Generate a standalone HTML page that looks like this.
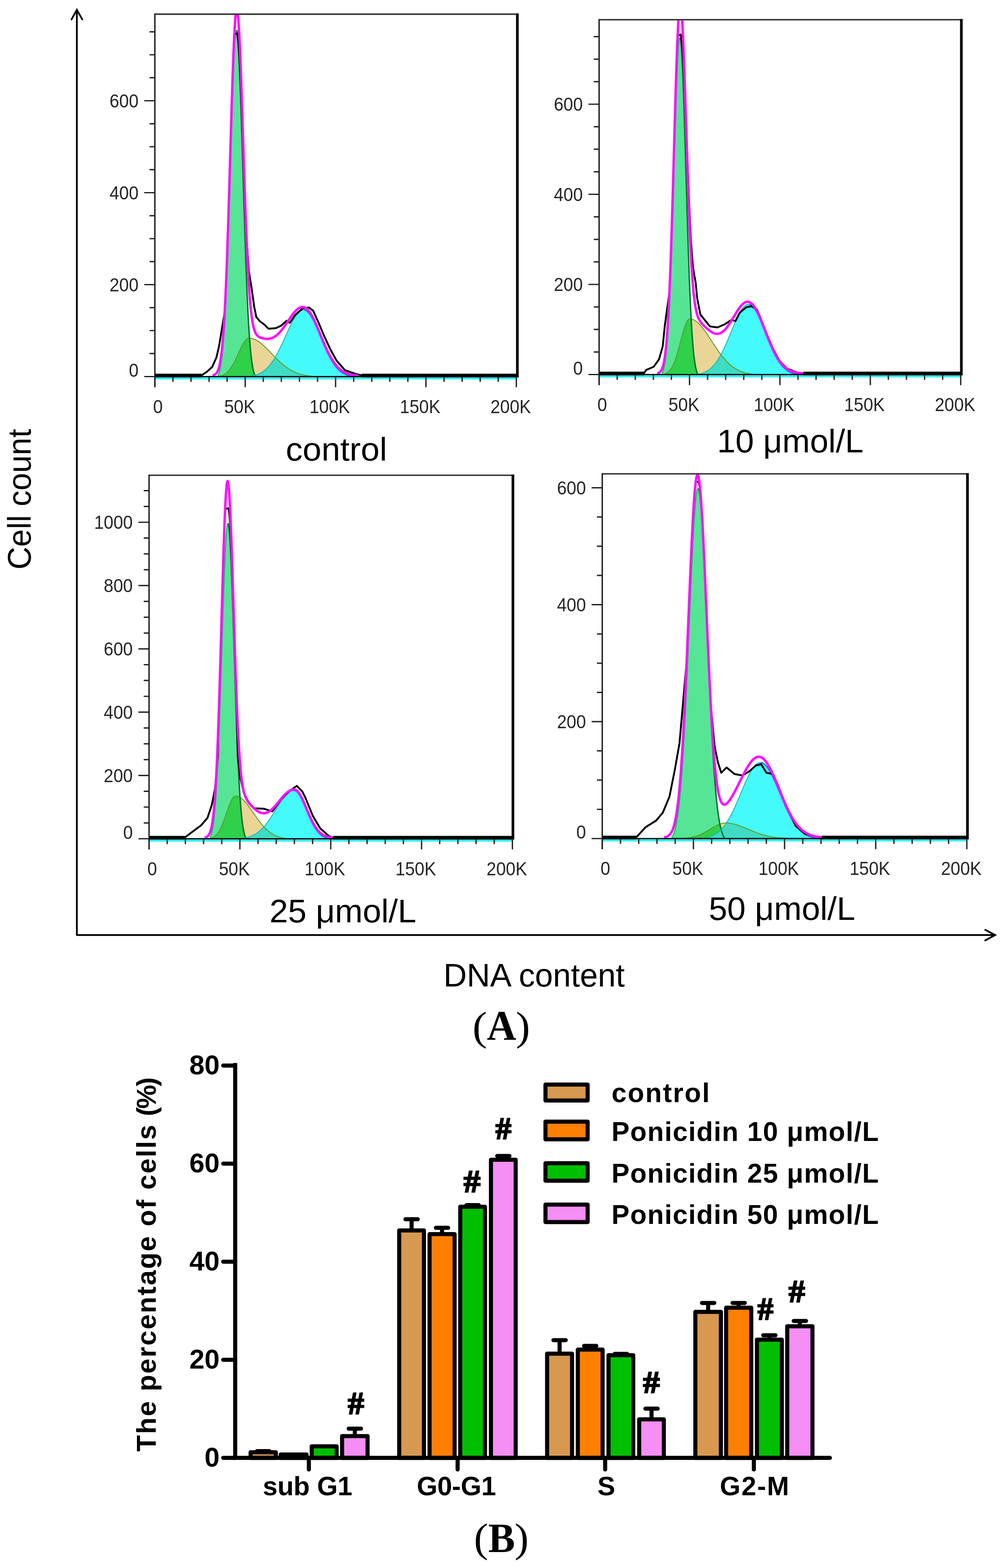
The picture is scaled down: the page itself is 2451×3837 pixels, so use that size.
<!DOCTYPE html>
<html><head><meta charset="utf-8"><title>Cell cycle analysis</title>
<style>html,body{margin:0;padding:0;background:#fff;} svg{display:block;}</style></head>
<body><svg width="2451" height="3837" viewBox="0 0 2451 3837"><defs><clipPath id="ctl"><rect x="378.8" y="34.6" width="886.8" height="887.9"/></clipPath><clipPath id="ctr"><rect x="1465.5" y="48.3" width="886.1" height="869.2"/></clipPath><clipPath id="cbl"><rect x="364.6" y="1163.0" width="890.1" height="890.5"/></clipPath><clipPath id="cbr"><rect x="1473.2" y="1159.5" width="893.3" height="893.5"/></clipPath></defs>
<g clip-path="url(#ctl)"><path d="M610.8,921.5 L610.8,921.3 L611.8,921.1 L612.8,921.0 L613.8,920.8 L614.8,920.6 L615.8,920.5 L616.8,920.3 L617.8,920.1 L618.8,919.8 L619.8,919.6 L620.8,919.4 L621.8,919.1 L622.8,918.8 L623.8,918.6 L624.8,918.3 L625.8,917.9 L626.8,917.6 L627.8,917.3 L628.8,916.9 L629.8,916.5 L630.8,916.1 L631.8,915.7 L632.8,915.3 L633.8,914.8 L634.8,914.3 L635.8,913.8 L636.8,913.3 L637.8,912.8 L638.8,912.2 L639.8,911.6 L640.8,911.0 L641.8,910.4 L642.8,909.7 L643.8,909.0 L644.8,908.3 L645.8,907.5 L646.8,906.7 L647.8,905.9 L648.8,905.1 L649.8,904.2 L650.8,903.3 L651.8,902.4 L652.8,901.4 L653.8,900.4 L654.8,899.4 L655.8,898.3 L656.8,897.2 L657.8,896.1 L658.8,894.9 L659.8,893.7 L660.8,892.4 L661.8,891.2 L662.8,889.8 L663.8,888.5 L664.8,887.1 L665.8,885.7 L666.8,884.2 L667.8,882.7 L668.8,881.2 L669.8,879.6 L670.8,878.0 L671.8,876.4 L672.8,874.7 L673.8,873.0 L674.8,871.2 L675.8,869.5 L676.8,867.7 L677.8,865.8 L678.8,863.9 L679.8,862.0 L680.8,860.1 L681.8,858.1 L682.8,856.2 L683.8,854.1 L684.8,852.1 L685.8,850.0 L686.8,847.9 L687.8,845.8 L688.8,843.7 L689.8,841.6 L690.8,839.4 L691.8,837.2 L692.8,835.0 L693.8,832.8 L694.8,830.6 L695.8,828.4 L696.8,826.2 L697.8,824.0 L698.8,821.7 L699.8,819.5 L700.8,817.3 L701.8,815.1 L702.8,812.9 L703.8,810.7 L704.8,808.5 L705.8,806.4 L706.8,804.2 L707.8,802.1 L708.8,800.0 L709.8,797.9 L710.8,795.9 L711.8,793.8 L712.8,791.9 L713.8,789.9 L714.8,788.0 L715.8,786.1 L716.8,784.3 L717.8,782.5 L718.8,780.8 L719.8,779.1 L720.8,777.5 L721.8,775.9 L722.8,774.4 L723.8,772.9 L724.8,771.5 L725.8,770.2 L726.8,768.9 L727.8,767.7 L728.8,766.6 L729.8,765.5 L730.8,764.5 L731.8,763.6 L732.8,762.7 L733.8,761.9 L734.8,761.2 L735.8,760.6 L736.8,760.1 L737.8,759.6 L738.8,759.2 L739.8,758.9 L740.8,758.7 L741.8,758.6 L742.8,758.5 L743.8,758.5 L744.8,758.7 L745.8,758.9 L746.8,759.2 L747.8,759.6 L748.8,760.1 L749.8,760.7 L750.8,761.4 L751.8,762.2 L752.8,763.1 L753.8,764.1 L754.8,765.1 L755.8,766.3 L756.8,767.5 L757.8,768.8 L758.8,770.2 L759.8,771.7 L760.8,773.3 L761.8,774.9 L762.8,776.6 L763.8,778.3 L764.8,780.2 L765.8,782.0 L766.8,784.0 L767.8,786.0 L768.8,788.0 L769.8,790.1 L770.8,792.3 L771.8,794.5 L772.8,796.7 L773.8,798.9 L774.8,801.2 L775.8,803.6 L776.8,805.9 L777.8,808.3 L778.8,810.7 L779.8,813.1 L780.8,815.5 L781.8,817.9 L782.8,820.4 L783.8,822.8 L784.8,825.2 L785.8,827.7 L786.8,830.1 L787.8,832.5 L788.8,835.0 L789.8,837.4 L790.8,839.7 L791.8,842.1 L792.8,844.5 L793.8,846.8 L794.8,849.1 L795.8,851.4 L796.8,853.6 L797.8,855.8 L798.8,858.0 L799.8,860.2 L800.8,862.3 L801.8,864.4 L802.8,866.4 L803.8,868.4 L804.8,870.4 L805.8,872.3 L806.8,874.2 L807.8,876.1 L808.8,877.9 L809.8,879.6 L810.8,881.4 L811.8,883.0 L812.8,884.7 L813.8,886.3 L814.8,887.8 L815.8,889.3 L816.8,890.8 L817.8,892.2 L818.8,893.5 L819.8,894.9 L820.8,896.2 L821.8,897.4 L822.8,898.6 L823.8,899.8 L824.8,900.9 L825.8,902.0 L826.8,903.0 L827.8,904.0 L828.8,905.0 L829.8,905.9 L830.8,906.8 L831.8,907.6 L832.8,908.5 L833.8,909.2 L834.8,910.0 L835.8,910.7 L836.8,911.4 L837.8,912.1 L838.8,912.7 L839.8,913.3 L840.8,913.9 L841.8,914.4 L842.8,914.9 L843.8,915.4 L844.8,915.9 L845.8,916.3 L846.8,916.8 L847.8,917.2 L848.8,917.6 L849.8,917.9 L850.8,918.3 L851.8,918.6 L852.8,918.9 L853.8,919.2 L854.8,919.5 L855.8,919.7 L856.8,920.0 L857.8,920.2 L858.8,920.4 L859.8,920.6 L860.8,920.8 L861.8,921.0 L862.8,921.2 L863.8,921.3 L863.8,921.5 Z" fill="#45fafa"/><path d="M531.8,921.5 L531.8,921.5 L532.8,920.8 L533.8,918.5 L534.8,915.8 L535.8,912.7 L536.8,909.0 L537.8,904.7 L538.8,899.8 L539.8,894.1 L540.8,887.6 L541.8,880.2 L542.8,871.8 L543.8,862.3 L544.8,851.6 L545.8,839.7 L546.8,826.5 L547.8,811.8 L548.8,795.8 L549.8,778.1 L550.8,759.0 L551.8,738.2 L552.8,715.9 L553.8,691.9 L554.8,666.4 L555.8,639.5 L556.8,611.1 L557.8,581.5 L558.8,550.7 L559.8,518.9 L560.8,486.3 L561.8,453.1 L562.8,419.6 L563.8,386.0 L564.8,352.7 L565.8,319.9 L566.8,287.8 L567.8,257.0 L568.8,227.6 L569.8,199.9 L570.8,174.4 L571.8,151.1 L572.8,130.6 L573.8,112.9 L574.8,98.3 L575.8,86.9 L576.8,79.0 L577.8,74.5 L578.8,73.6 L579.8,76.3 L580.8,82.5 L581.8,92.2 L582.8,105.2 L583.8,121.3 L584.8,140.5 L585.8,162.4 L586.8,186.9 L587.8,213.5 L588.8,242.1 L589.8,272.2 L590.8,303.7 L591.8,336.2 L592.8,369.3 L593.8,402.8 L594.8,436.4 L595.8,469.7 L596.8,502.7 L597.8,534.9 L598.8,566.2 L599.8,596.4 L600.8,625.5 L601.8,653.1 L602.8,679.4 L603.8,704.1 L604.8,727.2 L605.8,748.8 L606.8,768.7 L607.8,787.1 L608.8,804.0 L609.8,819.3 L610.8,833.3 L611.8,845.8 L612.8,857.1 L613.8,867.1 L614.8,876.1 L615.8,884.0 L616.8,890.9 L617.8,897.0 L618.8,902.3 L619.8,906.9 L620.8,910.9 L621.8,914.3 L622.8,917.2 L623.8,919.7 L624.8,921.5 L624.8,921.5 Z" fill="#55e595"/><path d="M532.8,921.5 L532.8,921.4 L533.8,921.2 L534.8,921.0 L535.8,920.8 L536.8,920.6 L537.8,920.4 L538.8,920.2 L539.8,919.9 L540.8,919.6 L541.8,919.3 L542.8,918.9 L543.8,918.6 L544.8,918.2 L545.8,917.7 L546.8,917.2 L547.8,916.7 L548.8,916.2 L549.8,915.6 L550.8,914.9 L551.8,914.2 L552.8,913.5 L553.8,912.7 L554.8,911.9 L555.8,911.0 L556.8,910.0 L557.8,909.0 L558.8,907.9 L559.8,906.8 L560.8,905.6 L561.8,904.4 L562.8,903.1 L563.8,901.7 L564.8,900.3 L565.8,898.8 L566.8,897.2 L567.8,895.6 L568.8,893.9 L569.8,892.2 L570.8,890.4 L571.8,888.5 L572.8,886.6 L573.8,884.7 L574.8,882.7 L575.8,880.6 L576.8,878.6 L577.8,876.4 L578.8,874.3 L579.8,872.1 L580.8,869.9 L581.8,867.7 L582.8,865.5 L583.8,863.3 L584.8,861.1 L585.8,858.9 L586.8,856.7 L587.8,854.5 L588.8,852.4 L589.8,850.3 L590.8,848.3 L591.8,846.3 L592.8,844.4 L593.8,842.5 L594.8,840.8 L595.8,839.1 L596.8,837.5 L597.8,836.0 L598.8,834.6 L599.8,833.3 L600.8,832.2 L601.8,831.1 L602.8,830.2 L603.8,829.4 L604.8,828.8 L605.8,828.2 L606.8,827.9 L607.8,827.6 L608.8,827.5 L609.8,827.5 L610.8,827.5 L611.8,827.6 L612.8,827.7 L613.8,827.9 L614.8,828.0 L615.8,828.2 L616.8,828.4 L617.8,828.7 L618.8,829.0 L619.8,829.3 L620.8,829.6 L621.8,830.0 L622.8,830.4 L623.8,830.9 L624.8,831.3 L625.8,831.8 L626.8,832.3 L627.8,832.9 L628.8,833.4 L629.8,834.0 L630.8,834.7 L631.8,835.3 L632.8,836.0 L633.8,836.7 L634.8,837.4 L635.8,838.1 L636.8,838.9 L637.8,839.6 L638.8,840.4 L639.8,841.3 L640.8,842.1 L641.8,843.0 L642.8,843.8 L643.8,844.7 L644.8,845.6 L645.8,846.5 L646.8,847.5 L647.8,848.4 L648.8,849.4 L649.8,850.3 L650.8,851.3 L651.8,852.3 L652.8,853.3 L653.8,854.3 L654.8,855.3 L655.8,856.3 L656.8,857.4 L657.8,858.4 L658.8,859.4 L659.8,860.5 L660.8,861.5 L661.8,862.6 L662.8,863.6 L663.8,864.7 L664.8,865.7 L665.8,866.8 L666.8,867.8 L667.8,868.9 L668.8,869.9 L669.8,870.9 L670.8,872.0 L671.8,873.0 L672.8,874.0 L673.8,875.1 L674.8,876.1 L675.8,877.1 L676.8,878.1 L677.8,879.1 L678.8,880.1 L679.8,881.0 L680.8,882.0 L681.8,883.0 L682.8,883.9 L683.8,884.9 L684.8,885.8 L685.8,886.7 L686.8,887.6 L687.8,888.5 L688.8,889.4 L689.8,890.3 L690.8,891.1 L691.8,892.0 L692.8,892.8 L693.8,893.6 L694.8,894.4 L695.8,895.2 L696.8,896.0 L697.8,896.8 L698.8,897.5 L699.8,898.3 L700.8,899.0 L701.8,899.7 L702.8,900.4 L703.8,901.1 L704.8,901.7 L705.8,902.4 L706.8,903.0 L707.8,903.7 L708.8,904.3 L709.8,904.9 L710.8,905.5 L711.8,906.0 L712.8,906.6 L713.8,907.1 L714.8,907.7 L715.8,908.2 L716.8,908.7 L717.8,909.2 L718.8,909.6 L719.8,910.1 L720.8,910.6 L721.8,911.0 L722.8,911.4 L723.8,911.8 L724.8,912.3 L725.8,912.6 L726.8,913.0 L727.8,913.4 L728.8,913.8 L729.8,914.1 L730.8,914.4 L731.8,914.8 L732.8,915.1 L733.8,915.4 L734.8,915.7 L735.8,916.0 L736.8,916.2 L737.8,916.5 L738.8,916.8 L739.8,917.0 L740.8,917.2 L741.8,917.5 L742.8,917.7 L743.8,917.9 L744.8,918.1 L745.8,918.3 L746.8,918.5 L747.8,918.7 L748.8,918.9 L749.8,919.0 L750.8,919.2 L751.8,919.4 L752.8,919.5 L753.8,919.7 L754.8,919.8 L755.8,919.9 L756.8,920.1 L757.8,920.2 L758.8,920.3 L759.8,920.4 L760.8,920.5 L761.8,920.6 L762.8,920.7 L763.8,920.8 L764.8,920.9 L765.8,921.0 L766.8,921.1 L767.8,921.2 L768.8,921.2 L768.8,921.5 Z" fill="#e9d596"/><path d="M532.8,921.5 L532.8,921.4 L533.8,921.2 L534.8,921.0 L535.8,920.8 L536.8,920.6 L537.8,920.4 L538.8,920.2 L539.8,919.9 L540.8,919.6 L541.8,919.3 L542.8,918.9 L543.8,918.6 L544.8,918.2 L545.8,917.7 L546.8,917.2 L547.8,916.7 L548.8,916.2 L549.8,915.6 L550.8,914.9 L551.8,914.2 L552.8,913.5 L553.8,912.7 L554.8,911.9 L555.8,911.0 L556.8,910.0 L557.8,909.0 L558.8,907.9 L559.8,906.8 L560.8,905.6 L561.8,904.4 L562.8,903.1 L563.8,901.7 L564.8,900.3 L565.8,898.8 L566.8,897.2 L567.8,895.6 L568.8,893.9 L569.8,892.2 L570.8,890.4 L571.8,888.5 L572.8,886.6 L573.8,884.7 L574.8,882.7 L575.8,880.6 L576.8,878.6 L577.8,876.4 L578.8,874.3 L579.8,872.1 L580.8,869.9 L581.8,867.7 L582.8,865.5 L583.8,863.3 L584.8,861.1 L585.8,858.9 L586.8,856.7 L587.8,854.5 L588.8,852.4 L589.8,850.3 L590.8,848.3 L591.8,846.3 L592.8,844.4 L593.8,842.5 L594.8,840.8 L595.8,839.1 L596.8,837.5 L597.8,836.0 L598.8,834.6 L599.8,833.3 L600.8,832.2 L601.8,831.1 L602.8,830.2 L603.8,829.4 L604.8,828.8 L605.8,828.2 L606.8,827.9 L607.8,827.6 L608.8,827.5 L609.8,827.5 L610.8,833.3 L611.8,845.8 L612.8,857.1 L613.8,867.1 L614.8,876.1 L615.8,884.0 L616.8,890.9 L617.8,897.0 L618.8,902.3 L619.8,906.9 L620.8,910.9 L621.8,914.3 L622.8,917.2 L623.8,919.7 L624.8,921.5 L624.8,921.5 Z" fill="#2fd04a"/><path d="M610.8,921.5 L610.8,921.3 L611.8,921.1 L612.8,921.0 L613.8,920.8 L614.8,920.6 L615.8,920.5 L616.8,920.3 L617.8,920.1 L618.8,919.8 L619.8,919.6 L620.8,919.4 L621.8,919.1 L622.8,918.8 L623.8,918.6 L624.8,918.3 L625.8,917.9 L626.8,917.6 L627.8,917.3 L628.8,916.9 L629.8,916.5 L630.8,916.1 L631.8,915.7 L632.8,915.3 L633.8,914.8 L634.8,914.3 L635.8,913.8 L636.8,913.3 L637.8,912.8 L638.8,912.2 L639.8,911.6 L640.8,911.0 L641.8,910.4 L642.8,909.7 L643.8,909.0 L644.8,908.3 L645.8,907.5 L646.8,906.7 L647.8,905.9 L648.8,905.1 L649.8,904.2 L650.8,903.3 L651.8,902.4 L652.8,901.4 L653.8,900.4 L654.8,899.4 L655.8,898.3 L656.8,897.2 L657.8,896.1 L658.8,894.9 L659.8,893.7 L660.8,892.4 L661.8,891.2 L662.8,889.8 L663.8,888.5 L664.8,887.1 L665.8,885.7 L666.8,884.2 L667.8,882.7 L668.8,881.2 L669.8,879.6 L670.8,878.0 L671.8,876.4 L672.8,874.7 L673.8,875.1 L674.8,876.1 L675.8,877.1 L676.8,878.1 L677.8,879.1 L678.8,880.1 L679.8,881.0 L680.8,882.0 L681.8,883.0 L682.8,883.9 L683.8,884.9 L684.8,885.8 L685.8,886.7 L686.8,887.6 L687.8,888.5 L688.8,889.4 L689.8,890.3 L690.8,891.1 L691.8,892.0 L692.8,892.8 L693.8,893.6 L694.8,894.4 L695.8,895.2 L696.8,896.0 L697.8,896.8 L698.8,897.5 L699.8,898.3 L700.8,899.0 L701.8,899.7 L702.8,900.4 L703.8,901.1 L704.8,901.7 L705.8,902.4 L706.8,903.0 L707.8,903.7 L708.8,904.3 L709.8,904.9 L710.8,905.5 L711.8,906.0 L712.8,906.6 L713.8,907.1 L714.8,907.7 L715.8,908.2 L716.8,908.7 L717.8,909.2 L718.8,909.6 L719.8,910.1 L720.8,910.6 L721.8,911.0 L722.8,911.4 L723.8,911.8 L724.8,912.3 L725.8,912.6 L726.8,913.0 L727.8,913.4 L728.8,913.8 L729.8,914.1 L730.8,914.4 L731.8,914.8 L732.8,915.1 L733.8,915.4 L734.8,915.7 L735.8,916.0 L736.8,916.2 L737.8,916.5 L738.8,916.8 L739.8,917.0 L740.8,917.2 L741.8,917.5 L742.8,917.7 L743.8,917.9 L744.8,918.1 L745.8,918.3 L746.8,918.5 L747.8,918.7 L748.8,918.9 L749.8,919.0 L750.8,919.2 L751.8,919.4 L752.8,919.5 L753.8,919.7 L754.8,919.8 L755.8,919.9 L756.8,920.1 L757.8,920.2 L758.8,920.3 L759.8,920.4 L760.8,920.5 L761.8,920.6 L762.8,920.7 L763.8,920.8 L764.8,920.9 L765.8,921.0 L766.8,921.1 L767.8,921.2 L768.8,921.2 L768.8,921.5 Z" fill="#3fdcc4"/><path d="M535.8,920.8 L536.8,920.6 L537.8,920.4 L538.8,920.2 L539.8,919.9 L540.8,919.6 L541.8,919.3 L542.8,918.9 L543.8,918.6 L544.8,918.2 L545.8,917.7 L546.8,917.2 L547.8,916.7 L548.8,916.2 L549.8,915.6 L550.8,914.9 L551.8,914.2 L552.8,913.5 L553.8,912.7 L554.8,911.9 L555.8,911.0 L556.8,910.0 L557.8,909.0 L558.8,907.9 L559.8,906.8 L560.8,905.6 L561.8,904.4 L562.8,903.1 L563.8,901.7 L564.8,900.3 L565.8,898.8 L566.8,897.2 L567.8,895.6 L568.8,893.9 L569.8,892.2 L570.8,890.4 L571.8,888.5 L572.8,886.6 L573.8,884.7 L574.8,882.7 L575.8,880.6 L576.8,878.6 L577.8,876.4 L578.8,874.3 L579.8,872.1 L580.8,869.9 L581.8,867.7 L582.8,865.5 L583.8,863.3 L584.8,861.1 L585.8,858.9 L586.8,856.7 L587.8,854.5 L588.8,852.4 L589.8,850.3 L590.8,848.3 L591.8,846.3 L592.8,844.4 L593.8,842.5 L594.8,840.8 L595.8,839.1 L596.8,837.5 L597.8,836.0 L598.8,834.6 L599.8,833.3 L600.8,832.2 L601.8,831.1 L602.8,830.2 L603.8,829.4 L604.8,828.8 L605.8,828.2 L606.8,827.9 L607.8,827.6 L608.8,827.5 L609.8,827.5 L610.8,827.5 L611.8,827.6 L612.8,827.7 L613.8,827.9 L614.8,828.0 L615.8,828.2 L616.8,828.4 L617.8,828.7 L618.8,829.0 L619.8,829.3 L620.8,829.6 L621.8,830.0 L622.8,830.4 L623.8,830.9 L624.8,831.3 L625.8,831.8 L626.8,832.3 L627.8,832.9 L628.8,833.4 L629.8,834.0 L630.8,834.7 L631.8,835.3 L632.8,836.0 L633.8,836.7 L634.8,837.4 L635.8,838.1 L636.8,838.9 L637.8,839.6 L638.8,840.4 L639.8,841.3 L640.8,842.1 L641.8,843.0 L642.8,843.8 L643.8,844.7 L644.8,845.6 L645.8,846.5 L646.8,847.5 L647.8,848.4 L648.8,849.4 L649.8,850.3 L650.8,851.3 L651.8,852.3 L652.8,853.3 L653.8,854.3 L654.8,855.3 L655.8,856.3 L656.8,857.4 L657.8,858.4 L658.8,859.4 L659.8,860.5 L660.8,861.5 L661.8,862.6 L662.8,863.6 L663.8,864.7 L664.8,865.7 L665.8,866.8 L666.8,867.8 L667.8,868.9 L668.8,869.9 L669.8,870.9 L670.8,872.0 L671.8,873.0 L672.8,874.0 L673.8,875.1 L674.8,876.1 L675.8,877.1 L676.8,878.1 L677.8,879.1 L678.8,880.1 L679.8,881.0 L680.8,882.0 L681.8,883.0 L682.8,883.9 L683.8,884.9 L684.8,885.8 L685.8,886.7 L686.8,887.6 L687.8,888.5 L688.8,889.4 L689.8,890.3 L690.8,891.1 L691.8,892.0 L692.8,892.8 L693.8,893.6 L694.8,894.4 L695.8,895.2 L696.8,896.0 L697.8,896.8 L698.8,897.5 L699.8,898.3 L700.8,899.0 L701.8,899.7 L702.8,900.4 L703.8,901.1 L704.8,901.7 L705.8,902.4 L706.8,903.0 L707.8,903.7 L708.8,904.3 L709.8,904.9 L710.8,905.5 L711.8,906.0 L712.8,906.6 L713.8,907.1 L714.8,907.7 L715.8,908.2 L716.8,908.7 L717.8,909.2 L718.8,909.6 L719.8,910.1 L720.8,910.6 L721.8,911.0 L722.8,911.4 L723.8,911.8 L724.8,912.3 L725.8,912.6 L726.8,913.0 L727.8,913.4 L728.8,913.8 L729.8,914.1 L730.8,914.4 L731.8,914.8 L732.8,915.1 L733.8,915.4 L734.8,915.7 L735.8,916.0 L736.8,916.2 L737.8,916.5 L738.8,916.8 L739.8,917.0 L740.8,917.2 L741.8,917.5 L742.8,917.7 L743.8,917.9 L744.8,918.1 L745.8,918.3 L746.8,918.5 L747.8,918.7 L748.8,918.9 L749.8,919.0 L750.8,919.2 L751.8,919.4 L752.8,919.5 L753.8,919.7 L754.8,919.8 L755.8,919.9 L756.8,920.1 L757.8,920.2 L758.8,920.3 L759.8,920.4 L760.8,920.5 L761.8,920.6 L762.8,920.7 L763.8,920.8 L764.8,920.9" fill="none" stroke="#5f9a28" stroke-width="2.2" stroke-linejoin="round" opacity="1"/><path d="M532.8,920.8 L533.8,918.5 L534.8,915.8 L535.8,912.7 L536.8,909.0 L537.8,904.7 L538.8,899.8 L539.8,894.1 L540.8,887.6 L541.8,880.2 L542.8,871.8 L543.8,862.3 L544.8,851.6 L545.8,839.7 L546.8,826.5 L547.8,811.8 L548.8,795.8 L549.8,778.1 L550.8,759.0 L551.8,738.2 L552.8,715.9 L553.8,691.9 L554.8,666.4 L555.8,639.5 L556.8,611.1 L557.8,581.5 L558.8,550.7 L559.8,518.9 L560.8,486.3 L561.8,453.1 L562.8,419.6 L563.8,386.0 L564.8,352.7 L565.8,319.9 L566.8,287.8 L567.8,257.0 L568.8,227.6 L569.8,199.9 L570.8,174.4 L571.8,151.1 L572.8,130.6 L573.8,112.9 L574.8,98.3 L575.8,86.9 L576.8,79.0 L577.8,74.5" fill="none" stroke="#00d050" stroke-width="3.0" stroke-linejoin="round" opacity="1"/><path d="M578.8,73.6 L579.8,76.3 L580.8,82.5 L581.8,92.2 L582.8,105.2 L583.8,121.3 L584.8,140.5 L585.8,162.4 L586.8,186.9 L587.8,213.5 L588.8,242.1 L589.8,272.2 L590.8,303.7 L591.8,336.2 L592.8,369.3 L593.8,402.8 L594.8,436.4 L595.8,469.7 L596.8,502.7 L597.8,534.9 L598.8,566.2 L599.8,596.4 L600.8,625.5 L601.8,653.1 L602.8,679.4 L603.8,704.1 L604.8,727.2 L605.8,748.8 L606.8,768.7 L607.8,787.1 L608.8,804.0 L609.8,819.3 L610.8,833.3 L611.8,845.8 L612.8,857.1 L613.8,867.1 L614.8,876.1 L615.8,884.0 L616.8,890.9 L617.8,897.0 L618.8,902.3 L619.8,906.9 L620.8,910.9 L621.8,914.3 L622.8,917.2 L623.8,919.7" fill="none" stroke="#0b6e2a" stroke-width="3.4" stroke-linejoin="round" opacity="1"/><path d="M612.8,921.0 L613.8,920.8 L614.8,920.6 L615.8,920.5 L616.8,920.3 L617.8,920.1 L618.8,919.8 L619.8,919.6 L620.8,919.4 L621.8,919.1 L622.8,918.8 L623.8,918.6 L624.8,918.3 L625.8,917.9 L626.8,917.6 L627.8,917.3 L628.8,916.9 L629.8,916.5 L630.8,916.1 L631.8,915.7 L632.8,915.3 L633.8,914.8 L634.8,914.3 L635.8,913.8 L636.8,913.3 L637.8,912.8 L638.8,912.2 L639.8,911.6 L640.8,911.0 L641.8,910.4 L642.8,909.7 L643.8,909.0 L644.8,908.3 L645.8,907.5 L646.8,906.7 L647.8,905.9 L648.8,905.1 L649.8,904.2 L650.8,903.3 L651.8,902.4 L652.8,901.4 L653.8,900.4 L654.8,899.4 L655.8,898.3 L656.8,897.2 L657.8,896.1 L658.8,894.9 L659.8,893.7 L660.8,892.4 L661.8,891.2 L662.8,889.8 L663.8,888.5 L664.8,887.1 L665.8,885.7 L666.8,884.2 L667.8,882.7 L668.8,881.2 L669.8,879.6 L670.8,878.0 L671.8,876.4 L672.8,874.7 L673.8,873.0 L674.8,871.2 L675.8,869.5 L676.8,867.7 L677.8,865.8 L678.8,863.9 L679.8,862.0 L680.8,860.1 L681.8,858.1 L682.8,856.2 L683.8,854.1 L684.8,852.1 L685.8,850.0 L686.8,847.9 L687.8,845.8 L688.8,843.7 L689.8,841.6 L690.8,839.4 L691.8,837.2 L692.8,835.0 L693.8,832.8 L694.8,830.6 L695.8,828.4 L696.8,826.2 L697.8,824.0 L698.8,821.7 L699.8,819.5 L700.8,817.3 L701.8,815.1 L702.8,812.9 L703.8,810.7 L704.8,808.5 L705.8,806.4 L706.8,804.2 L707.8,802.1 L708.8,800.0 L709.8,797.9 L710.8,795.9 L711.8,793.8 L712.8,791.9 L713.8,789.9 L714.8,788.0 L715.8,786.1 L716.8,784.3 L717.8,782.5 L718.8,780.8 L719.8,779.1 L720.8,777.5 L721.8,775.9 L722.8,774.4 L723.8,772.9 L724.8,771.5 L725.8,770.2 L726.8,768.9 L727.8,767.7 L728.8,766.6 L729.8,765.5 L730.8,764.5 L731.8,763.6 L732.8,762.7 L733.8,761.9 L734.8,761.2 L735.8,760.6 L736.8,760.1 L737.8,759.6 L738.8,759.2 L739.8,758.9 L740.8,758.7 L741.8,758.6 L742.8,758.5" fill="none" stroke="#19b8b8" stroke-width="2.2" stroke-linejoin="round" opacity="1"/><path d="M743.8,758.5 L744.8,758.7 L745.8,758.9 L746.8,759.2 L747.8,759.6 L748.8,760.1 L749.8,760.7 L750.8,761.4 L751.8,762.2 L752.8,763.1 L753.8,764.1 L754.8,765.1 L755.8,766.3 L756.8,767.5 L757.8,768.8 L758.8,770.2 L759.8,771.7 L760.8,773.3 L761.8,774.9 L762.8,776.6 L763.8,778.3 L764.8,780.2 L765.8,782.0 L766.8,784.0 L767.8,786.0 L768.8,788.0 L769.8,790.1 L770.8,792.3 L771.8,794.5 L772.8,796.7 L773.8,798.9 L774.8,801.2 L775.8,803.6 L776.8,805.9 L777.8,808.3 L778.8,810.7 L779.8,813.1 L780.8,815.5 L781.8,817.9 L782.8,820.4 L783.8,822.8 L784.8,825.2 L785.8,827.7 L786.8,830.1 L787.8,832.5 L788.8,835.0 L789.8,837.4 L790.8,839.7 L791.8,842.1 L792.8,844.5 L793.8,846.8 L794.8,849.1 L795.8,851.4 L796.8,853.6 L797.8,855.8 L798.8,858.0 L799.8,860.2 L800.8,862.3 L801.8,864.4 L802.8,866.4 L803.8,868.4 L804.8,870.4 L805.8,872.3 L806.8,874.2 L807.8,876.1 L808.8,877.9 L809.8,879.6 L810.8,881.4 L811.8,883.0 L812.8,884.7 L813.8,886.3 L814.8,887.8 L815.8,889.3 L816.8,890.8 L817.8,892.2 L818.8,893.5 L819.8,894.9 L820.8,896.2 L821.8,897.4 L822.8,898.6 L823.8,899.8 L824.8,900.9 L825.8,902.0 L826.8,903.0 L827.8,904.0 L828.8,905.0 L829.8,905.9 L830.8,906.8 L831.8,907.6 L832.8,908.5 L833.8,909.2 L834.8,910.0 L835.8,910.7 L836.8,911.4 L837.8,912.1 L838.8,912.7 L839.8,913.3 L840.8,913.9 L841.8,914.4 L842.8,914.9 L843.8,915.4 L844.8,915.9 L845.8,916.3 L846.8,916.8 L847.8,917.2 L848.8,917.6 L849.8,917.9 L850.8,918.3 L851.8,918.6 L852.8,918.9 L853.8,919.2 L854.8,919.5 L855.8,919.7 L856.8,920.0 L857.8,920.2 L858.8,920.4 L859.8,920.6 L860.8,920.8 L861.8,921.0" fill="none" stroke="#3b62d6" stroke-width="3.4" stroke-linejoin="round" opacity="1"/><path d="M378.8,918.5 L493.0,918.5 L506.0,909.8 L519.0,898.0 L529.4,874.7 L536.0,846.0 L542.4,807.0 L543.4,800.9 L544.4,794.8 L545.4,788.7 L546.4,782.6 L547.4,776.5 L548.4,770.4 L549.4,764.3 L550.4,747.1 L551.4,726.5 L552.4,704.2 L553.4,680.4 L554.4,654.9 L555.4,627.9 L556.4,599.5 L557.4,569.6 L558.4,538.5 L559.4,506.3 L560.4,473.2 L561.4,439.4 L562.4,405.1 L563.4,370.6 L564.4,336.2 L565.4,302.1 L566.4,268.6 L567.4,236.1 L568.4,204.8 L569.4,175.2 L570.4,147.4 L571.4,121.8 L572.4,98.7 L573.4,82.5 L574.4,82.5 L575.4,82.5 L576.4,82.5 L577.4,82.5 L578.4,82.5 L579.4,81.9 L580.4,84.4 L581.4,90.0 L582.4,98.8 L583.4,110.6 L584.4,125.2 L585.4,142.5 L586.4,162.1 L587.4,183.9 L588.4,207.7 L589.4,233.0 L590.4,259.7 L591.4,287.4 L592.4,315.9 L593.4,344.9 L594.4,374.1 L595.4,403.3 L596.4,432.2 L597.4,460.6 L598.4,488.3 L599.4,515.2 L599.6,520.5 L603.5,585.5 L608.7,663.5 L615.2,703.0 L621.7,749.9 L627.0,776.0 L636.0,786.5 L646.4,794.0 L656.9,804.5 L675.0,803.0 L688.0,796.7 L701.0,785.0 L709.0,790.0 L722.0,770.7 L740.0,755.0 L755.7,752.5 L766.0,760.3 L779.0,788.9 L792.0,820.0 L807.7,854.0 L823.3,882.5 L844.0,906.0 L870.0,915.0 L885.0,918.5 L1265.5,918.5" fill="none" stroke="#000" stroke-width="4.5" stroke-linejoin="round"/><path d="M519.8,918.6 L520.8,918.4 L521.8,918.1 L522.8,917.8 L523.8,917.4 L524.8,916.9 L525.8,916.3 L526.8,915.6 L527.8,914.8 L528.8,913.8 L529.8,912.6 L530.8,911.1 L531.8,909.4 L532.8,907.3 L533.8,904.9 L534.8,902.1 L535.8,898.8 L536.8,895.0 L537.8,890.5 L538.8,885.4 L539.8,879.5 L540.8,872.8 L541.8,865.2 L542.8,856.5 L543.8,846.8 L544.8,835.8 L545.8,823.6 L546.8,810.1 L547.8,795.1 L548.8,778.7 L549.8,760.7 L550.8,741.1 L551.8,719.9 L552.8,697.1 L553.8,672.7 L554.8,646.6 L555.8,619.1 L556.8,590.2 L557.8,559.9 L558.8,528.4 L559.8,495.8 L560.8,462.5 L561.8,428.5 L562.8,394.1 L563.8,359.6 L564.8,325.2 L565.8,291.3 L566.8,258.1 L567.8,226.0 L568.8,195.3 L569.8,166.2 L570.8,139.2 L571.8,114.4 L572.8,92.2 L573.8,72.8 L574.8,56.3 L575.8,43.1 L576.8,33.2 L577.8,26.7 L578.8,23.6 L579.8,24.1 L580.8,28.1 L581.8,35.4 L582.8,46.0 L583.8,59.8 L584.8,76.5 L585.8,96.0 L586.8,117.9 L587.8,142.1 L588.8,168.2 L589.8,195.9 L590.8,225.0 L591.8,255.0 L592.8,285.8 L593.8,317.1 L594.8,348.4 L595.8,379.7 L596.8,410.6 L597.8,440.8 L598.8,470.4 L599.8,498.9 L600.8,526.4 L601.8,552.6 L602.8,577.5 L603.8,601.1 L604.8,623.2 L605.8,643.9 L606.8,663.1 L607.8,680.9 L608.8,697.3 L609.8,712.4 L610.8,726.0 L611.8,738.4 L612.8,749.4 L613.8,759.3 L614.8,768.2 L615.8,776.0 L616.8,782.9 L617.8,788.9 L618.8,794.2 L619.8,798.9 L620.8,802.9 L621.8,806.4 L622.8,809.4 L623.8,812.0 L624.8,814.2 L625.8,816.2 L626.8,817.8 L627.8,819.2 L628.8,820.4 L629.8,821.5 L630.8,822.4 L631.8,823.2 L632.8,823.9 L633.8,824.5 L634.8,825.1 L635.8,825.5 L636.8,826.0 L637.8,826.4 L638.8,826.7 L639.8,827.0 L640.8,827.3 L641.8,827.6 L642.8,827.8 L643.8,828.1 L644.8,828.3 L645.8,828.5 L646.8,828.6 L647.8,828.8 L648.8,828.9 L649.8,829.0 L650.8,829.1 L651.8,829.1 L652.8,829.2 L653.8,829.2 L654.8,829.2 L655.8,829.1 L656.8,829.0 L657.8,828.9 L658.8,828.8 L659.8,828.6 L660.8,828.4 L661.8,828.2 L662.8,828.0 L663.8,827.7 L664.8,827.3 L665.8,827.0 L666.8,826.5 L667.8,826.1 L668.8,825.6 L669.8,825.1 L670.8,824.5 L671.8,823.9 L672.8,823.3 L673.8,822.6 L674.8,821.9 L675.8,821.1 L676.8,820.3 L677.8,819.5 L678.8,818.6 L679.8,817.7 L680.8,816.7 L681.8,815.8 L682.8,814.7 L683.8,813.7 L684.8,812.6 L685.8,811.4 L686.8,810.3 L687.8,809.1 L688.8,807.8 L689.8,806.6 L690.8,805.3 L691.8,804.0 L692.8,802.6 L693.8,801.3 L694.8,799.9 L695.8,798.5 L696.8,797.1 L697.8,795.6 L698.8,794.2 L699.8,792.7 L700.8,791.2 L701.8,789.7 L702.8,788.3 L703.8,786.8 L704.8,785.3 L705.8,783.8 L706.8,782.3 L707.8,780.8 L708.8,779.3 L709.8,777.9 L710.8,776.4 L711.8,775.0 L712.8,773.6 L713.8,772.2 L714.8,770.8 L715.8,769.5 L716.8,768.2 L717.8,766.9 L718.8,765.7 L719.8,764.5 L720.8,763.3 L721.8,762.2 L722.8,761.1 L723.8,760.1 L724.8,759.1 L725.8,758.2 L726.8,757.3 L727.8,756.5 L728.8,755.7 L729.8,755.0 L730.8,754.3 L731.8,753.7 L732.8,753.2 L733.8,752.7 L734.8,752.3 L735.8,752.0 L736.8,751.7 L737.8,751.5 L738.8,751.4 L739.8,751.4 L740.8,751.4 L741.8,751.5 L742.8,751.6 L743.8,751.9 L744.8,752.2 L745.8,752.6 L746.8,753.1 L747.8,753.7 L748.8,754.4 L749.8,755.1 L750.8,756.0 L751.8,756.9 L752.8,758.0 L753.8,759.1 L754.8,760.3 L755.8,761.5 L756.8,762.9 L757.8,764.3 L758.8,765.8 L759.8,767.4 L760.8,769.0 L761.8,770.7 L762.8,772.5 L763.8,774.3 L764.8,776.2 L765.8,778.1 L766.8,780.1 L767.8,782.2 L768.8,784.3 L769.8,786.4 L770.8,788.6 L771.8,790.8 L772.8,793.1 L773.8,795.4 L774.8,797.7 L775.8,800.1 L776.8,802.4 L777.8,804.8 L778.8,807.2 L779.8,809.7 L780.8,812.1 L781.8,814.5 L782.8,817.0 L783.8,819.4 L784.8,821.9 L785.8,824.3 L786.8,826.7 L787.8,829.2 L788.8,831.6 L789.8,834.0 L790.8,836.4 L791.8,838.7 L792.8,841.1 L793.8,843.4 L794.8,845.7 L795.8,848.0 L796.8,850.2 L797.8,852.4 L798.8,854.6 L799.8,856.7 L800.8,858.8 L801.8,860.9 L802.8,862.9 L803.8,864.9 L804.8,866.9 L805.8,868.8 L806.8,870.7 L807.8,872.5 L808.8,874.3 L809.8,876.1 L810.8,877.8 L811.8,879.4 L812.8,881.1 L813.8,882.6 L814.8,884.2 L815.8,885.7 L816.8,887.1 L817.8,888.5 L818.8,889.9 L819.8,891.2 L820.8,892.4 L821.8,893.7 L822.8,894.9 L823.8,896.0 L824.8,897.1 L825.8,898.2 L826.8,899.2 L827.8,900.2 L828.8,901.2 L829.8,902.1 L830.8,903.0 L831.8,903.8 L832.8,904.6 L833.8,905.4 L834.8,906.2 L835.8,906.9 L836.8,907.5 L837.8,908.2 L838.8,908.8 L839.8,909.4 L840.8,910.0 L841.8,910.5 L842.8,911.0 L843.8,911.5 L844.8,912.0 L845.8,912.4 L846.8,912.9 L847.8,913.3 L848.8,913.6 L849.8,914.0 L850.8,914.3 L851.8,914.7 L852.8,915.0 L853.8,915.3 L854.8,915.5 L855.8,915.8 L856.8,916.0 L857.8,916.3 L858.8,916.5 L859.8,916.7 L860.8,916.9 L861.8,917.0 L862.8,917.2 L863.8,917.4 L864.8,917.5 L865.8,917.7 L866.8,917.8 L867.8,917.9 L868.8,918.0 L869.8,918.1 L870.8,918.2 L871.8,918.3 L872.8,918.4 L873.8,918.5 L874.8,918.6 L875.8,918.6" fill="none" stroke="#ff10ff" stroke-width="6" stroke-linejoin="round"/></g>
<rect x="378.8" y="922.5" width="886.8" height="6" fill="#2ff0f0"/>
<rect x="378.8" y="914.5" width="114.2" height="9" fill="#000"/>
<rect x="885.0" y="914.5" width="380.5" height="9" fill="#000"/>
<line x1="378.8" y1="921.5" x2="1265.5" y2="921.5" stroke="#000" stroke-width="3.2"/>
<line x1="378.8" y1="34.6" x2="1268.5" y2="34.6" stroke="#333" stroke-width="3.6"/>
<line x1="1265.5" y1="33.1" x2="1265.5" y2="923.5" stroke="#000" stroke-width="6.5"/>
<line x1="378.8" y1="33.1" x2="378.8" y2="947.5" stroke="#1e1e1e" stroke-width="3.4"/>
<path d="M352.8,921.5 H378.8 M365.8,865.2 H378.8 M365.8,809.0 H378.8 M365.8,752.8 H378.8 M352.8,696.5 H378.8 M365.8,640.2 H378.8 M365.8,584.0 H378.8 M365.8,527.8 H378.8 M352.8,471.5 H378.8 M365.8,415.2 H378.8 M365.8,359.0 H378.8 M365.8,302.8 H378.8 M352.8,246.5 H378.8 M365.8,190.2 H378.8 M365.8,134.0 H378.8 M365.8,77.8 H378.8 M378.8,921.5 V947.5 M423.0,921.5 V934.5 M467.2,921.5 V934.5 M511.4,921.5 V934.5 M555.6,921.5 V934.5 M599.8,921.5 V947.5 M644.0,921.5 V934.5 M688.2,921.5 V934.5 M732.5,921.5 V934.5 M776.7,921.5 V934.5 M820.9,921.5 V947.5 M865.1,921.5 V934.5 M909.3,921.5 V934.5 M953.5,921.5 V934.5 M997.7,921.5 V934.5 M1041.9,921.5 V947.5 M1086.2,921.5 V934.5 M1130.4,921.5 V934.5 M1174.6,921.5 V934.5 M1218.8,921.5 V934.5 M1263.0,921.5 V947.5" stroke="#1e1e1e" stroke-width="3.2" fill="none"/>
<text transform="translate(315.36,921.50) scale(0.9100,1)" font-family="'Liberation Sans', Arial, sans-serif" font-weight="400" font-size="46.70" fill="#262626">0</text>
<text transform="translate(267.98,712.50) scale(0.9100,1)" font-family="'Liberation Sans', Arial, sans-serif" font-weight="400" font-size="46.70" fill="#262626">200</text>
<text transform="translate(267.98,487.50) scale(0.9100,1)" font-family="'Liberation Sans', Arial, sans-serif" font-weight="400" font-size="46.70" fill="#262626">400</text>
<text transform="translate(267.98,262.50) scale(0.9100,1)" font-family="'Liberation Sans', Arial, sans-serif" font-weight="400" font-size="46.70" fill="#262626">600</text>
<text transform="translate(374.55,1010.50) scale(0.9100,1)" font-family="'Liberation Sans', Arial, sans-serif" font-weight="400" font-size="46.70" fill="#262626">0</text>
<text transform="translate(548.46,1010.50) scale(0.9100,1)" font-family="'Liberation Sans', Arial, sans-serif" font-weight="400" font-size="46.70" fill="#262626">50K</text>
<text transform="translate(756.98,1010.50) scale(0.9100,1)" font-family="'Liberation Sans', Arial, sans-serif" font-weight="400" font-size="46.70" fill="#262626">100K</text>
<text transform="translate(978.05,1010.50) scale(0.9100,1)" font-family="'Liberation Sans', Arial, sans-serif" font-weight="400" font-size="46.70" fill="#262626">150K</text>
<text transform="translate(1199.64,1010.50) scale(0.9100,1)" font-family="'Liberation Sans', Arial, sans-serif" font-weight="400" font-size="46.70" fill="#262626">200K</text>
<text transform="translate(699.09,1127.40) scale(1.0316,1)" font-family="'Liberation Sans', Arial, sans-serif" font-weight="400" font-size="80.00" fill="#000">control</text>
<g clip-path="url(#ctr)"><path d="M1704.5,916.5 L1704.5,916.3 L1705.5,916.1 L1706.5,916.0 L1707.5,915.8 L1708.5,915.6 L1709.5,915.4 L1710.5,915.2 L1711.5,914.9 L1712.5,914.7 L1713.5,914.4 L1714.5,914.2 L1715.5,913.9 L1716.5,913.6 L1717.5,913.2 L1718.5,912.9 L1719.5,912.6 L1720.5,912.2 L1721.5,911.8 L1722.5,911.4 L1723.5,910.9 L1724.5,910.5 L1725.5,910.0 L1726.5,909.5 L1727.5,909.0 L1728.5,908.4 L1729.5,907.9 L1730.5,907.2 L1731.5,906.6 L1732.5,906.0 L1733.5,905.3 L1734.5,904.6 L1735.5,903.8 L1736.5,903.0 L1737.5,902.2 L1738.5,901.4 L1739.5,900.5 L1740.5,899.6 L1741.5,898.6 L1742.5,897.7 L1743.5,896.6 L1744.5,895.6 L1745.5,894.5 L1746.5,893.3 L1747.5,892.2 L1748.5,891.0 L1749.5,889.7 L1750.5,888.4 L1751.5,887.1 L1752.5,885.7 L1753.5,884.3 L1754.5,882.8 L1755.5,881.3 L1756.5,879.8 L1757.5,878.2 L1758.5,876.6 L1759.5,874.9 L1760.5,873.2 L1761.5,871.4 L1762.5,869.6 L1763.5,867.8 L1764.5,865.9 L1765.5,864.0 L1766.5,862.1 L1767.5,860.1 L1768.5,858.1 L1769.5,856.0 L1770.5,853.9 L1771.5,851.8 L1772.5,849.6 L1773.5,847.4 L1774.5,845.2 L1775.5,842.9 L1776.5,840.6 L1777.5,838.3 L1778.5,836.0 L1779.5,833.6 L1780.5,831.2 L1781.5,828.8 L1782.5,826.4 L1783.5,824.0 L1784.5,821.6 L1785.5,819.1 L1786.5,816.7 L1787.5,814.2 L1788.5,811.8 L1789.5,809.3 L1790.5,806.9 L1791.5,804.4 L1792.5,802.0 L1793.5,799.6 L1794.5,797.2 L1795.5,794.8 L1796.5,792.4 L1797.5,790.1 L1798.5,787.8 L1799.5,785.5 L1800.5,783.2 L1801.5,781.0 L1802.5,778.8 L1803.5,776.7 L1804.5,774.6 L1805.5,772.6 L1806.5,770.6 L1807.5,768.6 L1808.5,766.8 L1809.5,765.0 L1810.5,763.2 L1811.5,761.5 L1812.5,759.9 L1813.5,758.3 L1814.5,756.9 L1815.5,755.5 L1816.5,754.1 L1817.5,752.9 L1818.5,751.7 L1819.5,750.6 L1820.5,749.6 L1821.5,748.7 L1822.5,747.9 L1823.5,747.1 L1824.5,746.5 L1825.5,745.9 L1826.5,745.5 L1827.5,745.1 L1828.5,744.8 L1829.5,744.6 L1830.5,744.5 L1831.5,744.5 L1832.5,744.6 L1833.5,744.8 L1834.5,745.1 L1835.5,745.5 L1836.5,746.1 L1837.5,746.7 L1838.5,747.4 L1839.5,748.2 L1840.5,749.1 L1841.5,750.1 L1842.5,751.2 L1843.5,752.4 L1844.5,753.7 L1845.5,755.1 L1846.5,756.5 L1847.5,758.0 L1848.5,759.7 L1849.5,761.3 L1850.5,763.1 L1851.5,765.0 L1852.5,766.9 L1853.5,768.8 L1854.5,770.9 L1855.5,773.0 L1856.5,775.1 L1857.5,777.3 L1858.5,779.6 L1859.5,781.9 L1860.5,784.2 L1861.5,786.6 L1862.5,789.0 L1863.5,791.4 L1864.5,793.9 L1865.5,796.4 L1866.5,798.9 L1867.5,801.5 L1868.5,804.0 L1869.5,806.6 L1870.5,809.1 L1871.5,811.7 L1872.5,814.3 L1873.5,816.9 L1874.5,819.4 L1875.5,822.0 L1876.5,824.5 L1877.5,827.1 L1878.5,829.6 L1879.5,832.1 L1880.5,834.6 L1881.5,837.1 L1882.5,839.5 L1883.5,841.9 L1884.5,844.3 L1885.5,846.6 L1886.5,848.9 L1887.5,851.2 L1888.5,853.5 L1889.5,855.7 L1890.5,857.9 L1891.5,860.0 L1892.5,862.1 L1893.5,864.1 L1894.5,866.1 L1895.5,868.1 L1896.5,870.0 L1897.5,871.9 L1898.5,873.7 L1899.5,875.5 L1900.5,877.2 L1901.5,878.9 L1902.5,880.5 L1903.5,882.1 L1904.5,883.7 L1905.5,885.2 L1906.5,886.6 L1907.5,888.1 L1908.5,889.4 L1909.5,890.7 L1910.5,892.0 L1911.5,893.3 L1912.5,894.4 L1913.5,895.6 L1914.5,896.7 L1915.5,897.8 L1916.5,898.8 L1917.5,899.8 L1918.5,900.7 L1919.5,901.6 L1920.5,902.5 L1921.5,903.4 L1922.5,904.2 L1923.5,904.9 L1924.5,905.7 L1925.5,906.4 L1926.5,907.0 L1927.5,907.7 L1928.5,908.3 L1929.5,908.9 L1930.5,909.4 L1931.5,910.0 L1932.5,910.5 L1933.5,910.9 L1934.5,911.4 L1935.5,911.8 L1936.5,912.2 L1937.5,912.6 L1938.5,913.0 L1939.5,913.3 L1940.5,913.7 L1941.5,914.0 L1942.5,914.3 L1943.5,914.6 L1944.5,914.8 L1945.5,915.1 L1946.5,915.3 L1947.5,915.5 L1948.5,915.7 L1949.5,915.9 L1950.5,916.1 L1951.5,916.3 L1951.5,916.5 Z" fill="#45fafa"/><path d="M1618.5,916.5 L1618.5,916.5 L1619.5,915.4 L1620.5,913.0 L1621.5,910.1 L1622.5,906.8 L1623.5,902.8 L1624.5,898.2 L1625.5,892.8 L1626.5,886.6 L1627.5,879.4 L1628.5,871.3 L1629.5,862.0 L1630.5,851.5 L1631.5,839.7 L1632.5,826.5 L1633.5,811.8 L1634.5,795.6 L1635.5,777.8 L1636.5,758.2 L1637.5,737.0 L1638.5,714.1 L1639.5,689.5 L1640.5,663.3 L1641.5,635.5 L1642.5,606.2 L1643.5,575.6 L1644.5,543.8 L1645.5,511.0 L1646.5,477.4 L1647.5,443.4 L1648.5,409.2 L1649.5,375.0 L1650.5,341.3 L1651.5,308.3 L1652.5,276.5 L1653.5,246.1 L1654.5,217.6 L1655.5,191.2 L1656.5,167.4 L1657.5,146.3 L1658.5,128.3 L1659.5,113.5 L1660.5,102.3 L1661.5,94.8 L1662.5,91.0 L1663.5,91.0 L1664.5,94.8 L1665.5,102.3 L1666.5,113.5 L1667.5,128.3 L1668.5,146.3 L1669.5,167.4 L1670.5,191.2 L1671.5,217.6 L1672.5,246.1 L1673.5,276.5 L1674.5,308.3 L1675.5,341.3 L1676.5,375.0 L1677.5,409.2 L1678.5,443.4 L1679.5,477.4 L1680.5,511.0 L1681.5,543.8 L1682.5,575.6 L1683.5,606.2 L1684.5,635.5 L1685.5,663.3 L1686.5,689.5 L1687.5,714.1 L1688.5,737.0 L1689.5,758.2 L1690.5,777.8 L1691.5,795.6 L1692.5,811.8 L1693.5,826.5 L1694.5,839.7 L1695.5,851.5 L1696.5,862.0 L1697.5,871.3 L1698.5,879.4 L1699.5,886.6 L1700.5,892.8 L1701.5,898.2 L1702.5,902.8 L1703.5,906.8 L1704.5,910.1 L1705.5,913.0 L1706.5,915.4 L1707.5,916.5 L1707.5,916.5 Z" fill="#55e595"/><path d="M1622.5,916.5 L1622.5,916.3 L1623.5,916.0 L1624.5,915.7 L1625.5,915.4 L1626.5,915.0 L1627.5,914.6 L1628.5,914.1 L1629.5,913.6 L1630.5,913.1 L1631.5,912.4 L1632.5,911.8 L1633.5,911.0 L1634.5,910.2 L1635.5,909.3 L1636.5,908.3 L1637.5,907.2 L1638.5,906.0 L1639.5,904.8 L1640.5,903.4 L1641.5,901.9 L1642.5,900.4 L1643.5,898.7 L1644.5,896.9 L1645.5,894.9 L1646.5,892.9 L1647.5,890.7 L1648.5,888.4 L1649.5,886.0 L1650.5,883.4 L1651.5,880.7 L1652.5,877.9 L1653.5,875.0 L1654.5,871.9 L1655.5,868.8 L1656.5,865.5 L1657.5,862.1 L1658.5,858.7 L1659.5,855.1 L1660.5,851.5 L1661.5,847.8 L1662.5,844.1 L1663.5,840.3 L1664.5,836.6 L1665.5,832.8 L1666.5,829.0 L1667.5,825.2 L1668.5,821.5 L1669.5,817.8 L1670.5,814.2 L1671.5,810.8 L1672.5,807.4 L1673.5,804.1 L1674.5,801.0 L1675.5,798.1 L1676.5,795.3 L1677.5,792.8 L1678.5,790.4 L1679.5,788.3 L1680.5,786.4 L1681.5,784.7 L1682.5,783.3 L1683.5,782.2 L1684.5,781.4 L1685.5,780.8 L1686.5,780.5 L1687.5,780.5 L1688.5,780.6 L1689.5,780.6 L1690.5,780.8 L1691.5,781.0 L1692.5,781.2 L1693.5,781.5 L1694.5,781.8 L1695.5,782.2 L1696.5,782.6 L1697.5,783.1 L1698.5,783.6 L1699.5,784.1 L1700.5,784.7 L1701.5,785.4 L1702.5,786.1 L1703.5,786.8 L1704.5,787.5 L1705.5,788.3 L1706.5,789.2 L1707.5,790.1 L1708.5,791.0 L1709.5,791.9 L1710.5,792.9 L1711.5,794.0 L1712.5,795.0 L1713.5,796.1 L1714.5,797.2 L1715.5,798.4 L1716.5,799.6 L1717.5,800.8 L1718.5,802.0 L1719.5,803.3 L1720.5,804.6 L1721.5,805.9 L1722.5,807.3 L1723.5,808.6 L1724.5,810.0 L1725.5,811.4 L1726.5,812.8 L1727.5,814.2 L1728.5,815.7 L1729.5,817.2 L1730.5,818.6 L1731.5,820.1 L1732.5,821.6 L1733.5,823.1 L1734.5,824.7 L1735.5,826.2 L1736.5,827.7 L1737.5,829.3 L1738.5,830.8 L1739.5,832.3 L1740.5,833.9 L1741.5,835.4 L1742.5,837.0 L1743.5,838.5 L1744.5,840.1 L1745.5,841.6 L1746.5,843.1 L1747.5,844.7 L1748.5,846.2 L1749.5,847.7 L1750.5,849.2 L1751.5,850.7 L1752.5,852.2 L1753.5,853.7 L1754.5,855.1 L1755.5,856.6 L1756.5,858.0 L1757.5,859.4 L1758.5,860.9 L1759.5,862.3 L1760.5,863.6 L1761.5,865.0 L1762.5,866.4 L1763.5,867.7 L1764.5,869.0 L1765.5,870.3 L1766.5,871.6 L1767.5,872.8 L1768.5,874.1 L1769.5,875.3 L1770.5,876.5 L1771.5,877.7 L1772.5,878.9 L1773.5,880.0 L1774.5,881.1 L1775.5,882.2 L1776.5,883.3 L1777.5,884.4 L1778.5,885.4 L1779.5,886.4 L1780.5,887.4 L1781.5,888.4 L1782.5,889.3 L1783.5,890.3 L1784.5,891.2 L1785.5,892.1 L1786.5,892.9 L1787.5,893.8 L1788.5,894.6 L1789.5,895.4 L1790.5,896.2 L1791.5,897.0 L1792.5,897.7 L1793.5,898.5 L1794.5,899.2 L1795.5,899.9 L1796.5,900.5 L1797.5,901.2 L1798.5,901.8 L1799.5,902.4 L1800.5,903.0 L1801.5,903.6 L1802.5,904.2 L1803.5,904.7 L1804.5,905.2 L1805.5,905.8 L1806.5,906.3 L1807.5,906.7 L1808.5,907.2 L1809.5,907.6 L1810.5,908.1 L1811.5,908.5 L1812.5,908.9 L1813.5,909.3 L1814.5,909.7 L1815.5,910.0 L1816.5,910.4 L1817.5,910.7 L1818.5,911.1 L1819.5,911.4 L1820.5,911.7 L1821.5,912.0 L1822.5,912.2 L1823.5,912.5 L1824.5,912.8 L1825.5,913.0 L1826.5,913.3 L1827.5,913.5 L1828.5,913.7 L1829.5,913.9 L1830.5,914.1 L1831.5,914.3 L1832.5,914.5 L1833.5,914.7 L1834.5,914.9 L1835.5,915.0 L1836.5,915.2 L1837.5,915.3 L1838.5,915.5 L1839.5,915.6 L1840.5,915.7 L1841.5,915.9 L1842.5,916.0 L1843.5,916.1 L1844.5,916.2 L1845.5,916.3 L1845.5,916.5 Z" fill="#e9d596"/><path d="M1622.5,916.5 L1622.5,916.3 L1623.5,916.0 L1624.5,915.7 L1625.5,915.4 L1626.5,915.0 L1627.5,914.6 L1628.5,914.1 L1629.5,913.6 L1630.5,913.1 L1631.5,912.4 L1632.5,911.8 L1633.5,911.0 L1634.5,910.2 L1635.5,909.3 L1636.5,908.3 L1637.5,907.2 L1638.5,906.0 L1639.5,904.8 L1640.5,903.4 L1641.5,901.9 L1642.5,900.4 L1643.5,898.7 L1644.5,896.9 L1645.5,894.9 L1646.5,892.9 L1647.5,890.7 L1648.5,888.4 L1649.5,886.0 L1650.5,883.4 L1651.5,880.7 L1652.5,877.9 L1653.5,875.0 L1654.5,871.9 L1655.5,868.8 L1656.5,865.5 L1657.5,862.1 L1658.5,858.7 L1659.5,855.1 L1660.5,851.5 L1661.5,847.8 L1662.5,844.1 L1663.5,840.3 L1664.5,836.6 L1665.5,832.8 L1666.5,829.0 L1667.5,825.2 L1668.5,821.5 L1669.5,817.8 L1670.5,814.2 L1671.5,810.8 L1672.5,807.4 L1673.5,804.1 L1674.5,801.0 L1675.5,798.1 L1676.5,795.3 L1677.5,792.8 L1678.5,790.4 L1679.5,788.3 L1680.5,786.4 L1681.5,784.7 L1682.5,783.3 L1683.5,782.2 L1684.5,781.4 L1685.5,780.8 L1686.5,780.5 L1687.5,780.5 L1688.5,780.6 L1689.5,780.6 L1690.5,780.8 L1691.5,795.6 L1692.5,811.8 L1693.5,826.5 L1694.5,839.7 L1695.5,851.5 L1696.5,862.0 L1697.5,871.3 L1698.5,879.4 L1699.5,886.6 L1700.5,892.8 L1701.5,898.2 L1702.5,902.8 L1703.5,906.8 L1704.5,910.1 L1705.5,913.0 L1706.5,915.4 L1707.5,916.5 L1707.5,916.5 Z" fill="#2fd04a"/><path d="M1704.5,916.5 L1704.5,916.3 L1705.5,916.1 L1706.5,916.0 L1707.5,915.8 L1708.5,915.6 L1709.5,915.4 L1710.5,915.2 L1711.5,914.9 L1712.5,914.7 L1713.5,914.4 L1714.5,914.2 L1715.5,913.9 L1716.5,913.6 L1717.5,913.2 L1718.5,912.9 L1719.5,912.6 L1720.5,912.2 L1721.5,911.8 L1722.5,911.4 L1723.5,910.9 L1724.5,910.5 L1725.5,910.0 L1726.5,909.5 L1727.5,909.0 L1728.5,908.4 L1729.5,907.9 L1730.5,907.2 L1731.5,906.6 L1732.5,906.0 L1733.5,905.3 L1734.5,904.6 L1735.5,903.8 L1736.5,903.0 L1737.5,902.2 L1738.5,901.4 L1739.5,900.5 L1740.5,899.6 L1741.5,898.6 L1742.5,897.7 L1743.5,896.6 L1744.5,895.6 L1745.5,894.5 L1746.5,893.3 L1747.5,892.2 L1748.5,891.0 L1749.5,889.7 L1750.5,888.4 L1751.5,887.1 L1752.5,885.7 L1753.5,884.3 L1754.5,882.8 L1755.5,881.3 L1756.5,879.8 L1757.5,878.2 L1758.5,876.6 L1759.5,874.9 L1760.5,873.2 L1761.5,871.4 L1762.5,869.6 L1763.5,867.8 L1764.5,869.0 L1765.5,870.3 L1766.5,871.6 L1767.5,872.8 L1768.5,874.1 L1769.5,875.3 L1770.5,876.5 L1771.5,877.7 L1772.5,878.9 L1773.5,880.0 L1774.5,881.1 L1775.5,882.2 L1776.5,883.3 L1777.5,884.4 L1778.5,885.4 L1779.5,886.4 L1780.5,887.4 L1781.5,888.4 L1782.5,889.3 L1783.5,890.3 L1784.5,891.2 L1785.5,892.1 L1786.5,892.9 L1787.5,893.8 L1788.5,894.6 L1789.5,895.4 L1790.5,896.2 L1791.5,897.0 L1792.5,897.7 L1793.5,898.5 L1794.5,899.2 L1795.5,899.9 L1796.5,900.5 L1797.5,901.2 L1798.5,901.8 L1799.5,902.4 L1800.5,903.0 L1801.5,903.6 L1802.5,904.2 L1803.5,904.7 L1804.5,905.2 L1805.5,905.8 L1806.5,906.3 L1807.5,906.7 L1808.5,907.2 L1809.5,907.6 L1810.5,908.1 L1811.5,908.5 L1812.5,908.9 L1813.5,909.3 L1814.5,909.7 L1815.5,910.0 L1816.5,910.4 L1817.5,910.7 L1818.5,911.1 L1819.5,911.4 L1820.5,911.7 L1821.5,912.0 L1822.5,912.2 L1823.5,912.5 L1824.5,912.8 L1825.5,913.0 L1826.5,913.3 L1827.5,913.5 L1828.5,913.7 L1829.5,913.9 L1830.5,914.1 L1831.5,914.3 L1832.5,914.5 L1833.5,914.7 L1834.5,914.9 L1835.5,915.0 L1836.5,915.2 L1837.5,915.3 L1838.5,915.5 L1839.5,915.6 L1840.5,915.7 L1841.5,915.9 L1842.5,916.0 L1843.5,916.1 L1844.5,916.2 L1845.5,916.3 L1845.5,916.5 Z" fill="#3fdcc4"/><path d="M1624.5,915.7 L1625.5,915.4 L1626.5,915.0 L1627.5,914.6 L1628.5,914.1 L1629.5,913.6 L1630.5,913.1 L1631.5,912.4 L1632.5,911.8 L1633.5,911.0 L1634.5,910.2 L1635.5,909.3 L1636.5,908.3 L1637.5,907.2 L1638.5,906.0 L1639.5,904.8 L1640.5,903.4 L1641.5,901.9 L1642.5,900.4 L1643.5,898.7 L1644.5,896.9 L1645.5,894.9 L1646.5,892.9 L1647.5,890.7 L1648.5,888.4 L1649.5,886.0 L1650.5,883.4 L1651.5,880.7 L1652.5,877.9 L1653.5,875.0 L1654.5,871.9 L1655.5,868.8 L1656.5,865.5 L1657.5,862.1 L1658.5,858.7 L1659.5,855.1 L1660.5,851.5 L1661.5,847.8 L1662.5,844.1 L1663.5,840.3 L1664.5,836.6 L1665.5,832.8 L1666.5,829.0 L1667.5,825.2 L1668.5,821.5 L1669.5,817.8 L1670.5,814.2 L1671.5,810.8 L1672.5,807.4 L1673.5,804.1 L1674.5,801.0 L1675.5,798.1 L1676.5,795.3 L1677.5,792.8 L1678.5,790.4 L1679.5,788.3 L1680.5,786.4 L1681.5,784.7 L1682.5,783.3 L1683.5,782.2 L1684.5,781.4 L1685.5,780.8 L1686.5,780.5 L1687.5,780.5 L1688.5,780.6 L1689.5,780.6 L1690.5,780.8 L1691.5,781.0 L1692.5,781.2 L1693.5,781.5 L1694.5,781.8 L1695.5,782.2 L1696.5,782.6 L1697.5,783.1 L1698.5,783.6 L1699.5,784.1 L1700.5,784.7 L1701.5,785.4 L1702.5,786.1 L1703.5,786.8 L1704.5,787.5 L1705.5,788.3 L1706.5,789.2 L1707.5,790.1 L1708.5,791.0 L1709.5,791.9 L1710.5,792.9 L1711.5,794.0 L1712.5,795.0 L1713.5,796.1 L1714.5,797.2 L1715.5,798.4 L1716.5,799.6 L1717.5,800.8 L1718.5,802.0 L1719.5,803.3 L1720.5,804.6 L1721.5,805.9 L1722.5,807.3 L1723.5,808.6 L1724.5,810.0 L1725.5,811.4 L1726.5,812.8 L1727.5,814.2 L1728.5,815.7 L1729.5,817.2 L1730.5,818.6 L1731.5,820.1 L1732.5,821.6 L1733.5,823.1 L1734.5,824.7 L1735.5,826.2 L1736.5,827.7 L1737.5,829.3 L1738.5,830.8 L1739.5,832.3 L1740.5,833.9 L1741.5,835.4 L1742.5,837.0 L1743.5,838.5 L1744.5,840.1 L1745.5,841.6 L1746.5,843.1 L1747.5,844.7 L1748.5,846.2 L1749.5,847.7 L1750.5,849.2 L1751.5,850.7 L1752.5,852.2 L1753.5,853.7 L1754.5,855.1 L1755.5,856.6 L1756.5,858.0 L1757.5,859.4 L1758.5,860.9 L1759.5,862.3 L1760.5,863.6 L1761.5,865.0 L1762.5,866.4 L1763.5,867.7 L1764.5,869.0 L1765.5,870.3 L1766.5,871.6 L1767.5,872.8 L1768.5,874.1 L1769.5,875.3 L1770.5,876.5 L1771.5,877.7 L1772.5,878.9 L1773.5,880.0 L1774.5,881.1 L1775.5,882.2 L1776.5,883.3 L1777.5,884.4 L1778.5,885.4 L1779.5,886.4 L1780.5,887.4 L1781.5,888.4 L1782.5,889.3 L1783.5,890.3 L1784.5,891.2 L1785.5,892.1 L1786.5,892.9 L1787.5,893.8 L1788.5,894.6 L1789.5,895.4 L1790.5,896.2 L1791.5,897.0 L1792.5,897.7 L1793.5,898.5 L1794.5,899.2 L1795.5,899.9 L1796.5,900.5 L1797.5,901.2 L1798.5,901.8 L1799.5,902.4 L1800.5,903.0 L1801.5,903.6 L1802.5,904.2 L1803.5,904.7 L1804.5,905.2 L1805.5,905.8 L1806.5,906.3 L1807.5,906.7 L1808.5,907.2 L1809.5,907.6 L1810.5,908.1 L1811.5,908.5 L1812.5,908.9 L1813.5,909.3 L1814.5,909.7 L1815.5,910.0 L1816.5,910.4 L1817.5,910.7 L1818.5,911.1 L1819.5,911.4 L1820.5,911.7 L1821.5,912.0 L1822.5,912.2 L1823.5,912.5 L1824.5,912.8 L1825.5,913.0 L1826.5,913.3 L1827.5,913.5 L1828.5,913.7 L1829.5,913.9 L1830.5,914.1 L1831.5,914.3 L1832.5,914.5 L1833.5,914.7 L1834.5,914.9 L1835.5,915.0 L1836.5,915.2 L1837.5,915.3 L1838.5,915.5 L1839.5,915.6 L1840.5,915.7 L1841.5,915.9 L1842.5,916.0" fill="none" stroke="#5f9a28" stroke-width="2.2" stroke-linejoin="round" opacity="1"/><path d="M1619.5,915.4 L1620.5,913.0 L1621.5,910.1 L1622.5,906.8 L1623.5,902.8 L1624.5,898.2 L1625.5,892.8 L1626.5,886.6 L1627.5,879.4 L1628.5,871.3 L1629.5,862.0 L1630.5,851.5 L1631.5,839.7 L1632.5,826.5 L1633.5,811.8 L1634.5,795.6 L1635.5,777.8 L1636.5,758.2 L1637.5,737.0 L1638.5,714.1 L1639.5,689.5 L1640.5,663.3 L1641.5,635.5 L1642.5,606.2 L1643.5,575.6 L1644.5,543.8 L1645.5,511.0 L1646.5,477.4 L1647.5,443.4 L1648.5,409.2 L1649.5,375.0 L1650.5,341.3 L1651.5,308.3 L1652.5,276.5 L1653.5,246.1 L1654.5,217.6 L1655.5,191.2 L1656.5,167.4 L1657.5,146.3 L1658.5,128.3 L1659.5,113.5 L1660.5,102.3 L1661.5,94.8 L1662.5,91.0" fill="none" stroke="#00d050" stroke-width="3.0" stroke-linejoin="round" opacity="1"/><path d="M1663.5,91.0 L1664.5,94.8 L1665.5,102.3 L1666.5,113.5 L1667.5,128.3 L1668.5,146.3 L1669.5,167.4 L1670.5,191.2 L1671.5,217.6 L1672.5,246.1 L1673.5,276.5 L1674.5,308.3 L1675.5,341.3 L1676.5,375.0 L1677.5,409.2 L1678.5,443.4 L1679.5,477.4 L1680.5,511.0 L1681.5,543.8 L1682.5,575.6 L1683.5,606.2 L1684.5,635.5 L1685.5,663.3 L1686.5,689.5 L1687.5,714.1 L1688.5,737.0 L1689.5,758.2 L1690.5,777.8 L1691.5,795.6 L1692.5,811.8 L1693.5,826.5 L1694.5,839.7 L1695.5,851.5 L1696.5,862.0 L1697.5,871.3 L1698.5,879.4 L1699.5,886.6 L1700.5,892.8 L1701.5,898.2 L1702.5,902.8 L1703.5,906.8 L1704.5,910.1 L1705.5,913.0 L1706.5,915.4" fill="none" stroke="#0b6e2a" stroke-width="3.4" stroke-linejoin="round" opacity="1"/><path d="M1706.5,916.0 L1707.5,915.8 L1708.5,915.6 L1709.5,915.4 L1710.5,915.2 L1711.5,914.9 L1712.5,914.7 L1713.5,914.4 L1714.5,914.2 L1715.5,913.9 L1716.5,913.6 L1717.5,913.2 L1718.5,912.9 L1719.5,912.6 L1720.5,912.2 L1721.5,911.8 L1722.5,911.4 L1723.5,910.9 L1724.5,910.5 L1725.5,910.0 L1726.5,909.5 L1727.5,909.0 L1728.5,908.4 L1729.5,907.9 L1730.5,907.2 L1731.5,906.6 L1732.5,906.0 L1733.5,905.3 L1734.5,904.6 L1735.5,903.8 L1736.5,903.0 L1737.5,902.2 L1738.5,901.4 L1739.5,900.5 L1740.5,899.6 L1741.5,898.6 L1742.5,897.7 L1743.5,896.6 L1744.5,895.6 L1745.5,894.5 L1746.5,893.3 L1747.5,892.2 L1748.5,891.0 L1749.5,889.7 L1750.5,888.4 L1751.5,887.1 L1752.5,885.7 L1753.5,884.3 L1754.5,882.8 L1755.5,881.3 L1756.5,879.8 L1757.5,878.2 L1758.5,876.6 L1759.5,874.9 L1760.5,873.2 L1761.5,871.4 L1762.5,869.6 L1763.5,867.8 L1764.5,865.9 L1765.5,864.0 L1766.5,862.1 L1767.5,860.1 L1768.5,858.1 L1769.5,856.0 L1770.5,853.9 L1771.5,851.8 L1772.5,849.6 L1773.5,847.4 L1774.5,845.2 L1775.5,842.9 L1776.5,840.6 L1777.5,838.3 L1778.5,836.0 L1779.5,833.6 L1780.5,831.2 L1781.5,828.8 L1782.5,826.4 L1783.5,824.0 L1784.5,821.6 L1785.5,819.1 L1786.5,816.7 L1787.5,814.2 L1788.5,811.8 L1789.5,809.3 L1790.5,806.9 L1791.5,804.4 L1792.5,802.0 L1793.5,799.6 L1794.5,797.2 L1795.5,794.8 L1796.5,792.4 L1797.5,790.1 L1798.5,787.8 L1799.5,785.5 L1800.5,783.2 L1801.5,781.0 L1802.5,778.8 L1803.5,776.7 L1804.5,774.6 L1805.5,772.6 L1806.5,770.6 L1807.5,768.6 L1808.5,766.8 L1809.5,765.0 L1810.5,763.2 L1811.5,761.5 L1812.5,759.9 L1813.5,758.3 L1814.5,756.9 L1815.5,755.5 L1816.5,754.1 L1817.5,752.9 L1818.5,751.7 L1819.5,750.6 L1820.5,749.6 L1821.5,748.7 L1822.5,747.9 L1823.5,747.1 L1824.5,746.5 L1825.5,745.9 L1826.5,745.5 L1827.5,745.1 L1828.5,744.8 L1829.5,744.6 L1830.5,744.5" fill="none" stroke="#19b8b8" stroke-width="2.2" stroke-linejoin="round" opacity="1"/><path d="M1831.5,744.5 L1832.5,744.6 L1833.5,744.8 L1834.5,745.1 L1835.5,745.5 L1836.5,746.1 L1837.5,746.7 L1838.5,747.4 L1839.5,748.2 L1840.5,749.1 L1841.5,750.1 L1842.5,751.2 L1843.5,752.4 L1844.5,753.7 L1845.5,755.1 L1846.5,756.5 L1847.5,758.0 L1848.5,759.7 L1849.5,761.3 L1850.5,763.1 L1851.5,765.0 L1852.5,766.9 L1853.5,768.8 L1854.5,770.9 L1855.5,773.0 L1856.5,775.1 L1857.5,777.3 L1858.5,779.6 L1859.5,781.9 L1860.5,784.2 L1861.5,786.6 L1862.5,789.0 L1863.5,791.4 L1864.5,793.9 L1865.5,796.4 L1866.5,798.9 L1867.5,801.5 L1868.5,804.0 L1869.5,806.6 L1870.5,809.1 L1871.5,811.7 L1872.5,814.3 L1873.5,816.9 L1874.5,819.4 L1875.5,822.0 L1876.5,824.5 L1877.5,827.1 L1878.5,829.6 L1879.5,832.1 L1880.5,834.6 L1881.5,837.1 L1882.5,839.5 L1883.5,841.9 L1884.5,844.3 L1885.5,846.6 L1886.5,848.9 L1887.5,851.2 L1888.5,853.5 L1889.5,855.7 L1890.5,857.9 L1891.5,860.0 L1892.5,862.1 L1893.5,864.1 L1894.5,866.1 L1895.5,868.1 L1896.5,870.0 L1897.5,871.9 L1898.5,873.7 L1899.5,875.5 L1900.5,877.2 L1901.5,878.9 L1902.5,880.5 L1903.5,882.1 L1904.5,883.7 L1905.5,885.2 L1906.5,886.6 L1907.5,888.1 L1908.5,889.4 L1909.5,890.7 L1910.5,892.0 L1911.5,893.3 L1912.5,894.4 L1913.5,895.6 L1914.5,896.7 L1915.5,897.8 L1916.5,898.8 L1917.5,899.8 L1918.5,900.7 L1919.5,901.6 L1920.5,902.5 L1921.5,903.4 L1922.5,904.2 L1923.5,904.9 L1924.5,905.7 L1925.5,906.4 L1926.5,907.0 L1927.5,907.7 L1928.5,908.3 L1929.5,908.9 L1930.5,909.4 L1931.5,910.0 L1932.5,910.5 L1933.5,910.9 L1934.5,911.4 L1935.5,911.8 L1936.5,912.2 L1937.5,912.6 L1938.5,913.0 L1939.5,913.3 L1940.5,913.7 L1941.5,914.0 L1942.5,914.3 L1943.5,914.6 L1944.5,914.8 L1945.5,915.1 L1946.5,915.3 L1947.5,915.5 L1948.5,915.7 L1949.5,915.9" fill="none" stroke="#3b62d6" stroke-width="3.4" stroke-linejoin="round" opacity="1"/><path d="M1465.5,913.5 L1575.0,913.5 L1580.8,905.3 L1599.0,897.5 L1612.0,879.3 L1621.0,848.0 L1626.3,796.0 L1632.8,749.0 L1633.8,741.8 L1634.8,734.5 L1635.8,727.3 L1636.8,720.1 L1637.8,708.5 L1638.8,684.2 L1639.8,658.1 L1640.8,630.3 L1641.8,600.9 L1642.8,570.0 L1643.8,537.6 L1644.8,504.1 L1645.8,469.5 L1646.8,434.1 L1647.8,398.2 L1648.8,362.1 L1649.8,326.0 L1650.8,290.3 L1651.8,255.3 L1652.8,221.5 L1653.8,189.0 L1654.8,158.4 L1655.8,129.9 L1656.8,103.8 L1657.8,86.5 L1658.8,86.5 L1659.8,86.5 L1660.8,86.5 L1661.8,86.5 L1662.8,86.5 L1663.8,84.4 L1664.8,84.4 L1665.8,87.1 L1666.8,92.5 L1667.8,100.6 L1668.8,111.2 L1669.8,124.2 L1670.8,139.5 L1671.8,156.7 L1672.8,175.9 L1673.8,196.6 L1674.8,218.8 L1675.8,242.2 L1676.8,266.6 L1677.8,291.7 L1678.8,317.4 L1679.8,343.4 L1680.8,369.5 L1681.8,395.6 L1682.8,421.4 L1683.8,446.9 L1684.8,471.8 L1685.8,496.1 L1686.8,519.6 L1687.8,542.2 L1688.8,563.7 L1689.8,584.1 L1690.0,588.0 L1695.0,653.0 L1701.7,692.0 L1705.6,731.0 L1713.4,770.0 L1723.8,783.0 L1736.9,798.7 L1755.0,801.3 L1773.0,793.5 L1788.9,783.0 L1799.0,785.7 L1809.7,764.9 L1825.3,751.9 L1838.3,749.3 L1851.3,757.0 L1859.0,775.0 L1872.0,809.0 L1890.0,851.5 L1906.0,882.0 L1925.0,901.5 L1950.0,911.5 L1965.0,913.5 L2351.6,913.5" fill="none" stroke="#000" stroke-width="4.5" stroke-linejoin="round"/><path d="M1607.5,913.6 L1608.5,913.3 L1609.5,913.0 L1610.5,912.6 L1611.5,912.2 L1612.5,911.6 L1613.5,910.9 L1614.5,910.1 L1615.5,909.0 L1616.5,907.8 L1617.5,906.3 L1618.5,904.4 L1619.5,902.3 L1620.5,899.7 L1621.5,896.7 L1622.5,893.1 L1623.5,888.9 L1624.5,884.1 L1625.5,878.4 L1626.5,871.9 L1627.5,864.5 L1628.5,856.0 L1629.5,846.3 L1630.5,835.4 L1631.5,823.1 L1632.5,809.4 L1633.5,794.1 L1634.5,777.3 L1635.5,758.7 L1636.5,738.5 L1637.5,716.5 L1638.5,692.7 L1639.5,667.1 L1640.5,639.8 L1641.5,610.9 L1642.5,580.4 L1643.5,548.5 L1644.5,515.3 L1645.5,481.0 L1646.5,445.8 L1647.5,410.0 L1648.5,373.9 L1649.5,337.8 L1650.5,301.9 L1651.5,266.7 L1652.5,232.5 L1653.5,199.6 L1654.5,168.4 L1655.5,139.2 L1656.5,112.4 L1657.5,88.2 L1658.5,67.0 L1659.5,49.0 L1660.5,34.3 L1661.5,23.2 L1662.5,15.7 L1663.5,12.0 L1664.5,12.0 L1665.5,15.7 L1666.5,23.1 L1667.5,33.9 L1668.5,48.0 L1669.5,65.2 L1670.5,85.2 L1671.5,107.8 L1672.5,132.6 L1673.5,159.4 L1674.5,187.8 L1675.5,217.4 L1676.5,248.0 L1677.5,279.2 L1678.5,310.6 L1679.5,342.1 L1680.5,373.4 L1681.5,404.1 L1682.5,434.1 L1683.5,463.2 L1684.5,491.3 L1685.5,518.2 L1686.5,543.8 L1687.5,568.0 L1688.5,590.6 L1689.5,611.6 L1690.5,631.0 L1691.5,648.7 L1692.5,664.9 L1693.5,679.6 L1694.5,692.9 L1695.5,704.9 L1696.5,715.6 L1697.5,725.1 L1698.5,733.5 L1699.5,741.0 L1700.5,747.6 L1701.5,753.4 L1702.5,758.6 L1703.5,763.0 L1704.5,767.0 L1705.5,770.4 L1706.5,773.5 L1707.5,776.2 L1708.5,778.6 L1709.5,780.7 L1710.5,782.6 L1711.5,784.3 L1712.5,785.9 L1713.5,787.4 L1714.5,788.7 L1715.5,790.0 L1716.5,791.2 L1717.5,792.3 L1718.5,793.4 L1719.5,794.5 L1720.5,795.5 L1721.5,796.6 L1722.5,797.5 L1723.5,798.5 L1724.5,799.5 L1725.5,800.4 L1726.5,801.4 L1727.5,802.3 L1728.5,803.2 L1729.5,804.1 L1730.5,805.0 L1731.5,805.8 L1732.5,806.6 L1733.5,807.5 L1734.5,808.3 L1735.5,809.0 L1736.5,809.8 L1737.5,810.5 L1738.5,811.2 L1739.5,811.8 L1740.5,812.5 L1741.5,813.1 L1742.5,813.6 L1743.5,814.1 L1744.5,814.6 L1745.5,815.0 L1746.5,815.4 L1747.5,815.8 L1748.5,816.1 L1749.5,816.4 L1750.5,816.6 L1751.5,816.7 L1752.5,816.8 L1753.5,816.9 L1754.5,816.9 L1755.5,816.8 L1756.5,816.7 L1757.5,816.6 L1758.5,816.4 L1759.5,816.1 L1760.5,815.8 L1761.5,815.4 L1762.5,815.0 L1763.5,814.5 L1764.5,813.9 L1765.5,813.3 L1766.5,812.6 L1767.5,811.9 L1768.5,811.1 L1769.5,810.3 L1770.5,809.4 L1771.5,808.5 L1772.5,807.5 L1773.5,806.5 L1774.5,805.4 L1775.5,804.2 L1776.5,803.0 L1777.5,801.8 L1778.5,800.5 L1779.5,799.2 L1780.5,797.8 L1781.5,796.4 L1782.5,795.0 L1783.5,793.5 L1784.5,792.0 L1785.5,790.5 L1786.5,788.9 L1787.5,787.3 L1788.5,785.7 L1789.5,784.1 L1790.5,782.5 L1791.5,780.8 L1792.5,779.1 L1793.5,777.5 L1794.5,775.8 L1795.5,774.1 L1796.5,772.4 L1797.5,770.8 L1798.5,769.1 L1799.5,767.5 L1800.5,765.8 L1801.5,764.2 L1802.5,762.6 L1803.5,761.0 L1804.5,759.5 L1805.5,758.0 L1806.5,756.5 L1807.5,755.1 L1808.5,753.7 L1809.5,752.3 L1810.5,751.0 L1811.5,749.8 L1812.5,748.6 L1813.5,747.4 L1814.5,746.3 L1815.5,745.3 L1816.5,744.3 L1817.5,743.4 L1818.5,742.6 L1819.5,741.8 L1820.5,741.1 L1821.5,740.5 L1822.5,740.0 L1823.5,739.5 L1824.5,739.1 L1825.5,738.8 L1826.5,738.6 L1827.5,738.5 L1828.5,738.4 L1829.5,738.4 L1830.5,738.5 L1831.5,738.7 L1832.5,739.0 L1833.5,739.4 L1834.5,739.9 L1835.5,740.4 L1836.5,741.1 L1837.5,741.9 L1838.5,742.7 L1839.5,743.6 L1840.5,744.7 L1841.5,745.8 L1842.5,747.0 L1843.5,748.3 L1844.5,749.6 L1845.5,751.1 L1846.5,752.6 L1847.5,754.2 L1848.5,755.9 L1849.5,757.7 L1850.5,759.5 L1851.5,761.4 L1852.5,763.4 L1853.5,765.4 L1854.5,767.4 L1855.5,769.6 L1856.5,771.8 L1857.5,774.0 L1858.5,776.3 L1859.5,778.6 L1860.5,780.9 L1861.5,783.3 L1862.5,785.8 L1863.5,788.2 L1864.5,790.7 L1865.5,793.2 L1866.5,795.7 L1867.5,798.3 L1868.5,800.8 L1869.5,803.4 L1870.5,805.9 L1871.5,808.5 L1872.5,811.1 L1873.5,813.6 L1874.5,816.2 L1875.5,818.8 L1876.5,821.3 L1877.5,823.8 L1878.5,826.3 L1879.5,828.8 L1880.5,831.3 L1881.5,833.7 L1882.5,836.2 L1883.5,838.6 L1884.5,840.9 L1885.5,843.2 L1886.5,845.5 L1887.5,847.8 L1888.5,850.0 L1889.5,852.2 L1890.5,854.4 L1891.5,856.5 L1892.5,858.6 L1893.5,860.6 L1894.5,862.6 L1895.5,864.5 L1896.5,866.4 L1897.5,868.3 L1898.5,870.1 L1899.5,871.8 L1900.5,873.6 L1901.5,875.2 L1902.5,876.9 L1903.5,878.4 L1904.5,880.0 L1905.5,881.5 L1906.5,882.9 L1907.5,884.3 L1908.5,885.7 L1909.5,887.0 L1910.5,888.2 L1911.5,889.4 L1912.5,890.6 L1913.5,891.8 L1914.5,892.9 L1915.5,893.9 L1916.5,894.9 L1917.5,895.9 L1918.5,896.8 L1919.5,897.7 L1920.5,898.6 L1921.5,899.4 L1922.5,900.2 L1923.5,901.0 L1924.5,901.7 L1925.5,902.4 L1926.5,903.1 L1927.5,903.7 L1928.5,904.3 L1929.5,904.9 L1930.5,905.4 L1931.5,906.0 L1932.5,906.5 L1933.5,906.9 L1934.5,907.4 L1935.5,907.8 L1936.5,908.2 L1937.5,908.6 L1938.5,909.0 L1939.5,909.3 L1940.5,909.6 L1941.5,909.9 L1942.5,910.2 L1943.5,910.5 L1944.5,910.8 L1945.5,911.0 L1946.5,911.2 L1947.5,911.5 L1948.5,911.7 L1949.5,911.9 L1950.5,912.0 L1951.5,912.2 L1952.5,912.4 L1953.5,912.5 L1954.5,912.7 L1955.5,912.8 L1956.5,912.9 L1957.5,913.0 L1958.5,913.1 L1959.5,913.2 L1960.5,913.3 L1961.5,913.4 L1962.5,913.5 L1963.5,913.6 L1964.5,913.6" fill="none" stroke="#ff10ff" stroke-width="6" stroke-linejoin="round"/></g>
<rect x="1465.5" y="917.5" width="886.1" height="6" fill="#2ff0f0"/>
<rect x="1465.5" y="909.5" width="109.5" height="9" fill="#000"/>
<rect x="1965.0" y="909.5" width="386.6" height="9" fill="#000"/>
<line x1="1465.5" y1="916.5" x2="2351.6" y2="916.5" stroke="#000" stroke-width="3.2"/>
<line x1="1465.5" y1="48.3" x2="2354.6" y2="48.3" stroke="#333" stroke-width="3.6"/>
<line x1="2351.6" y1="46.8" x2="2351.6" y2="918.5" stroke="#000" stroke-width="6.5"/>
<line x1="1465.5" y1="46.8" x2="1465.5" y2="942.5" stroke="#1e1e1e" stroke-width="3.4"/>
<path d="M1439.5,916.5 H1465.5 M1452.5,861.4 H1465.5 M1452.5,806.2 H1465.5 M1452.5,751.1 H1465.5 M1439.5,696.0 H1465.5 M1452.5,640.9 H1465.5 M1452.5,585.8 H1465.5 M1452.5,530.6 H1465.5 M1439.5,475.5 H1465.5 M1452.5,420.4 H1465.5 M1452.5,365.2 H1465.5 M1452.5,310.1 H1465.5 M1439.5,255.0 H1465.5 M1452.5,199.9 H1465.5 M1452.5,144.8 H1465.5 M1452.5,89.6 H1465.5 M1465.5,916.5 V942.5 M1509.7,916.5 V929.5 M1554.0,916.5 V929.5 M1598.2,916.5 V929.5 M1642.4,916.5 V929.5 M1686.6,916.5 V942.5 M1730.8,916.5 V929.5 M1775.1,916.5 V929.5 M1819.3,916.5 V929.5 M1863.5,916.5 V929.5 M1907.8,916.5 V942.5 M1952.0,916.5 V929.5 M1996.2,916.5 V929.5 M2040.4,916.5 V929.5 M2084.7,916.5 V929.5 M2128.9,916.5 V942.5 M2173.1,916.5 V929.5 M2217.3,916.5 V929.5 M2261.6,916.5 V929.5 M2305.8,916.5 V929.5 M2350.0,916.5 V942.5" stroke="#1e1e1e" stroke-width="3.2" fill="none"/>
<text transform="translate(1402.11,916.50) scale(0.9100,1)" font-family="'Liberation Sans', Arial, sans-serif" font-weight="400" font-size="46.70" fill="#262626">0</text>
<text transform="translate(1354.73,712.00) scale(0.9100,1)" font-family="'Liberation Sans', Arial, sans-serif" font-weight="400" font-size="46.70" fill="#262626">200</text>
<text transform="translate(1354.73,491.50) scale(0.9100,1)" font-family="'Liberation Sans', Arial, sans-serif" font-weight="400" font-size="46.70" fill="#262626">400</text>
<text transform="translate(1354.73,271.00) scale(0.9100,1)" font-family="'Liberation Sans', Arial, sans-serif" font-weight="400" font-size="46.70" fill="#262626">600</text>
<text transform="translate(1461.30,1005.50) scale(0.9100,1)" font-family="'Liberation Sans', Arial, sans-serif" font-weight="400" font-size="46.70" fill="#262626">0</text>
<text transform="translate(1635.27,1005.50) scale(0.9100,1)" font-family="'Liberation Sans', Arial, sans-serif" font-weight="400" font-size="46.70" fill="#262626">50K</text>
<text transform="translate(1843.86,1005.50) scale(0.9100,1)" font-family="'Liberation Sans', Arial, sans-serif" font-weight="400" font-size="46.70" fill="#262626">100K</text>
<text transform="translate(2064.98,1005.50) scale(0.9100,1)" font-family="'Liberation Sans', Arial, sans-serif" font-weight="400" font-size="46.70" fill="#262626">150K</text>
<text transform="translate(2286.64,1005.50) scale(0.9100,1)" font-family="'Liberation Sans', Arial, sans-serif" font-weight="400" font-size="46.70" fill="#262626">200K</text>
<text transform="translate(1753.91,1107.20) scale(1.0151,1)" font-family="'Liberation Sans', Arial, sans-serif" font-weight="400" font-size="80.00" fill="#000">10 μmol/L</text>
<g clip-path="url(#cbl)"><path d="M588.6,2052.5 L588.6,2052.2 L589.6,2052.1 L590.6,2052.0 L591.6,2051.8 L592.6,2051.7 L593.6,2051.6 L594.6,2051.4 L595.6,2051.3 L596.6,2051.1 L597.6,2050.9 L598.6,2050.7 L599.6,2050.5 L600.6,2050.3 L601.6,2050.1 L602.6,2049.9 L603.6,2049.6 L604.6,2049.4 L605.6,2049.1 L606.6,2048.8 L607.6,2048.5 L608.6,2048.2 L609.6,2047.9 L610.6,2047.6 L611.6,2047.2 L612.6,2046.9 L613.6,2046.5 L614.6,2046.1 L615.6,2045.7 L616.6,2045.2 L617.6,2044.8 L618.6,2044.3 L619.6,2043.8 L620.6,2043.3 L621.6,2042.8 L622.6,2042.2 L623.6,2041.7 L624.6,2041.1 L625.6,2040.5 L626.6,2039.8 L627.6,2039.2 L628.6,2038.5 L629.6,2037.8 L630.6,2037.0 L631.6,2036.3 L632.6,2035.5 L633.6,2034.7 L634.6,2033.9 L635.6,2033.0 L636.6,2032.1 L637.6,2031.2 L638.6,2030.3 L639.6,2029.3 L640.6,2028.4 L641.6,2027.3 L642.6,2026.3 L643.6,2025.2 L644.6,2024.2 L645.6,2023.0 L646.6,2021.9 L647.6,2020.7 L648.6,2019.5 L649.6,2018.3 L650.6,2017.1 L651.6,2015.8 L652.6,2014.5 L653.6,2013.2 L654.6,2011.9 L655.6,2010.5 L656.6,2009.1 L657.6,2007.7 L658.6,2006.3 L659.6,2004.8 L660.6,2003.4 L661.6,2001.9 L662.6,2000.4 L663.6,1998.9 L664.6,1997.3 L665.6,1995.8 L666.6,1994.2 L667.6,1992.7 L668.6,1991.1 L669.6,1989.5 L670.6,1987.9 L671.6,1986.3 L672.6,1984.7 L673.6,1983.1 L674.6,1981.5 L675.6,1979.9 L676.6,1978.3 L677.6,1976.7 L678.6,1975.1 L679.6,1973.5 L680.6,1971.9 L681.6,1970.3 L682.6,1968.8 L683.6,1967.2 L684.6,1965.7 L685.6,1964.2 L686.6,1962.7 L687.6,1961.2 L688.6,1959.7 L689.6,1958.3 L690.6,1956.9 L691.6,1955.5 L692.6,1954.2 L693.6,1952.9 L694.6,1951.6 L695.6,1950.3 L696.6,1949.1 L697.6,1948.0 L698.6,1946.8 L699.6,1945.7 L700.6,1944.7 L701.6,1943.7 L702.6,1942.7 L703.6,1941.8 L704.6,1941.0 L705.6,1940.1 L706.6,1939.4 L707.6,1938.7 L708.6,1938.0 L709.6,1937.4 L710.6,1936.9 L711.6,1936.4 L712.6,1935.9 L713.6,1935.6 L714.6,1935.2 L715.6,1935.0 L716.6,1934.8 L717.6,1934.6 L718.6,1934.5 L719.6,1934.5 L720.6,1934.6 L721.6,1934.8 L722.6,1935.1 L723.6,1935.6 L724.6,1936.1 L725.6,1936.9 L726.6,1937.7 L727.6,1938.7 L728.6,1939.8 L729.6,1941.0 L730.6,1942.3 L731.6,1943.7 L732.6,1945.2 L733.6,1946.8 L734.6,1948.5 L735.6,1950.3 L736.6,1952.2 L737.6,1954.2 L738.6,1956.2 L739.6,1958.3 L740.6,1960.5 L741.6,1962.7 L742.6,1964.9 L743.6,1967.2 L744.6,1969.5 L745.6,1971.9 L746.6,1974.3 L747.6,1976.7 L748.6,1979.1 L749.6,1981.5 L750.6,1983.9 L751.6,1986.3 L752.6,1988.7 L753.6,1991.1 L754.6,1993.5 L755.6,1995.8 L756.6,1998.1 L757.6,2000.4 L758.6,2002.6 L759.6,2004.8 L760.6,2007.0 L761.6,2009.1 L762.6,2011.2 L763.6,2013.2 L764.6,2015.2 L765.6,2017.1 L766.6,2018.9 L767.6,2020.7 L768.6,2022.5 L769.6,2024.2 L770.6,2025.8 L771.6,2027.3 L772.6,2028.8 L773.6,2030.3 L774.6,2031.7 L775.6,2033.0 L776.6,2034.3 L777.6,2035.5 L778.6,2036.7 L779.6,2037.8 L780.6,2038.8 L781.6,2039.8 L782.6,2040.8 L783.6,2041.7 L784.6,2042.5 L785.6,2043.3 L786.6,2044.1 L787.6,2044.8 L788.6,2045.5 L789.6,2046.1 L790.6,2046.7 L791.6,2047.2 L792.6,2047.7 L793.6,2048.2 L794.6,2048.7 L795.6,2049.1 L796.6,2049.5 L797.6,2049.9 L798.6,2050.2 L799.6,2050.5 L800.6,2050.8 L801.6,2051.1 L802.6,2051.3 L803.6,2051.6 L804.6,2051.8 L805.6,2052.0 L806.6,2052.2 L807.6,2052.3 L807.6,2052.5 Z" fill="#45fafa"/><path d="M512.6,2052.5 L512.6,2052.5 L513.6,2051.1 L514.6,2048.8 L515.6,2046.1 L516.6,2042.9 L517.6,2039.2 L518.6,2034.8 L519.6,2029.8 L520.6,2024.0 L521.6,2017.3 L522.6,2009.7 L523.6,2001.1 L524.6,1991.4 L525.6,1980.4 L526.6,1968.3 L527.6,1954.7 L528.6,1939.8 L529.6,1923.3 L530.6,1905.4 L531.6,1885.9 L532.6,1864.9 L533.6,1842.3 L534.6,1818.2 L535.6,1792.7 L536.6,1765.9 L537.6,1737.8 L538.6,1708.6 L539.6,1678.5 L540.6,1647.7 L541.6,1616.3 L542.6,1584.8 L543.6,1553.3 L544.6,1522.0 L545.6,1491.5 L546.6,1461.8 L547.6,1433.4 L548.6,1406.6 L549.6,1381.7 L550.6,1358.9 L551.6,1338.7 L552.6,1321.1 L553.6,1306.5 L554.6,1295.0 L555.6,1286.7 L556.6,1281.9 L557.6,1280.5 L558.6,1282.6 L559.6,1288.1 L560.6,1297.0 L561.6,1309.2 L562.6,1324.4 L563.6,1342.5 L564.6,1363.3 L565.6,1386.5 L566.6,1411.8 L567.6,1439.0 L568.6,1467.7 L569.6,1497.5 L570.6,1528.2 L571.6,1559.5 L572.6,1591.1 L573.6,1622.6 L574.6,1653.9 L575.6,1684.6 L576.6,1714.5 L577.6,1743.5 L578.6,1771.3 L579.6,1797.9 L580.6,1823.2 L581.6,1846.9 L582.6,1869.2 L583.6,1889.9 L584.6,1909.1 L585.6,1926.7 L586.6,1942.9 L587.6,1957.5 L588.6,1970.8 L589.6,1982.7 L590.6,1993.4 L591.6,2002.9 L592.6,2011.3 L593.6,2018.7 L594.6,2025.2 L595.6,2030.8 L596.6,2035.7 L597.6,2039.9 L598.6,2043.6 L599.6,2046.7 L600.6,2049.3 L601.6,2051.5 L602.6,2052.5 L602.6,2052.5 Z" fill="#55e595"/><path d="M511.6,2052.5 L511.6,2052.3 L512.6,2052.1 L513.6,2051.9 L514.6,2051.6 L515.6,2051.3 L516.6,2051.0 L517.6,2050.6 L518.6,2050.3 L519.6,2049.8 L520.6,2049.3 L521.6,2048.8 L522.6,2048.2 L523.6,2047.6 L524.6,2046.9 L525.6,2046.1 L526.6,2045.3 L527.6,2044.4 L528.6,2043.4 L529.6,2042.3 L530.6,2041.2 L531.6,2040.0 L532.6,2038.6 L533.6,2037.2 L534.6,2035.7 L535.6,2034.2 L536.6,2032.5 L537.6,2030.7 L538.6,2028.8 L539.6,2026.8 L540.6,2024.8 L541.6,2022.6 L542.6,2020.3 L543.6,2018.0 L544.6,2015.5 L545.6,2013.0 L546.6,2010.4 L547.6,2007.8 L548.6,2005.0 L549.6,2002.2 L550.6,1999.4 L551.6,1996.5 L552.6,1993.6 L553.6,1990.7 L554.6,1987.8 L555.6,1984.9 L556.6,1982.0 L557.6,1979.1 L558.6,1976.3 L559.6,1973.6 L560.6,1970.9 L561.6,1968.3 L562.6,1965.8 L563.6,1963.4 L564.6,1961.2 L565.6,1959.1 L566.6,1957.1 L567.6,1955.3 L568.6,1953.7 L569.6,1952.3 L570.6,1951.0 L571.6,1950.0 L572.6,1949.2 L573.6,1948.5 L574.6,1948.1 L575.6,1947.9 L576.6,1947.9 L577.6,1948.0 L578.6,1948.1 L579.6,1948.3 L580.6,1948.5 L581.6,1948.8 L582.6,1949.1 L583.6,1949.5 L584.6,1949.9 L585.6,1950.4 L586.6,1950.9 L587.6,1951.5 L588.6,1952.2 L589.6,1952.8 L590.6,1953.6 L591.6,1954.3 L592.6,1955.2 L593.6,1956.0 L594.6,1956.9 L595.6,1957.9 L596.6,1958.9 L597.6,1959.9 L598.6,1961.0 L599.6,1962.1 L600.6,1963.2 L601.6,1964.4 L602.6,1965.6 L603.6,1966.8 L604.6,1968.1 L605.6,1969.3 L606.6,1970.6 L607.6,1972.0 L608.6,1973.3 L609.6,1974.7 L610.6,1976.1 L611.6,1977.5 L612.6,1978.9 L613.6,1980.3 L614.6,1981.7 L615.6,1983.2 L616.6,1984.6 L617.6,1986.1 L618.6,1987.5 L619.6,1989.0 L620.6,1990.4 L621.6,1991.9 L622.6,1993.3 L623.6,1994.8 L624.6,1996.2 L625.6,1997.7 L626.6,1999.1 L627.6,2000.5 L628.6,2002.0 L629.6,2003.4 L630.6,2004.7 L631.6,2006.1 L632.6,2007.5 L633.6,2008.8 L634.6,2010.2 L635.6,2011.5 L636.6,2012.8 L637.6,2014.0 L638.6,2015.3 L639.6,2016.5 L640.6,2017.7 L641.6,2018.9 L642.6,2020.1 L643.6,2021.2 L644.6,2022.4 L645.6,2023.5 L646.6,2024.5 L647.6,2025.6 L648.6,2026.6 L649.6,2027.6 L650.6,2028.6 L651.6,2029.6 L652.6,2030.5 L653.6,2031.4 L654.6,2032.3 L655.6,2033.2 L656.6,2034.0 L657.6,2034.8 L658.6,2035.6 L659.6,2036.4 L660.6,2037.1 L661.6,2037.8 L662.6,2038.5 L663.6,2039.2 L664.6,2039.8 L665.6,2040.5 L666.6,2041.1 L667.6,2041.6 L668.6,2042.2 L669.6,2042.8 L670.6,2043.3 L671.6,2043.8 L672.6,2044.3 L673.6,2044.7 L674.6,2045.2 L675.6,2045.6 L676.6,2046.0 L677.6,2046.4 L678.6,2046.8 L679.6,2047.1 L680.6,2047.5 L681.6,2047.8 L682.6,2048.1 L683.6,2048.4 L684.6,2048.7 L685.6,2049.0 L686.6,2049.3 L687.6,2049.5 L688.6,2049.8 L689.6,2050.0 L690.6,2050.2 L691.6,2050.4 L692.6,2050.6 L693.6,2050.8 L694.6,2051.0 L695.6,2051.1 L696.6,2051.3 L697.6,2051.4 L698.6,2051.6 L699.6,2051.7 L700.6,2051.8 L701.6,2052.0 L702.6,2052.1 L703.6,2052.2 L704.6,2052.3 L704.6,2052.5 Z" fill="#e9d596"/><path d="M512.6,2052.5 L512.6,2052.5 L513.6,2051.9 L514.6,2051.6 L515.6,2051.3 L516.6,2051.0 L517.6,2050.6 L518.6,2050.3 L519.6,2049.8 L520.6,2049.3 L521.6,2048.8 L522.6,2048.2 L523.6,2047.6 L524.6,2046.9 L525.6,2046.1 L526.6,2045.3 L527.6,2044.4 L528.6,2043.4 L529.6,2042.3 L530.6,2041.2 L531.6,2040.0 L532.6,2038.6 L533.6,2037.2 L534.6,2035.7 L535.6,2034.2 L536.6,2032.5 L537.6,2030.7 L538.6,2028.8 L539.6,2026.8 L540.6,2024.8 L541.6,2022.6 L542.6,2020.3 L543.6,2018.0 L544.6,2015.5 L545.6,2013.0 L546.6,2010.4 L547.6,2007.8 L548.6,2005.0 L549.6,2002.2 L550.6,1999.4 L551.6,1996.5 L552.6,1993.6 L553.6,1990.7 L554.6,1987.8 L555.6,1984.9 L556.6,1982.0 L557.6,1979.1 L558.6,1976.3 L559.6,1973.6 L560.6,1970.9 L561.6,1968.3 L562.6,1965.8 L563.6,1963.4 L564.6,1961.2 L565.6,1959.1 L566.6,1957.1 L567.6,1955.3 L568.6,1953.7 L569.6,1952.3 L570.6,1951.0 L571.6,1950.0 L572.6,1949.2 L573.6,1948.5 L574.6,1948.1 L575.6,1947.9 L576.6,1947.9 L577.6,1948.0 L578.6,1948.1 L579.6,1948.3 L580.6,1948.5 L581.6,1948.8 L582.6,1949.1 L583.6,1949.5 L584.6,1949.9 L585.6,1950.4 L586.6,1950.9 L587.6,1957.5 L588.6,1970.8 L589.6,1982.7 L590.6,1993.4 L591.6,2002.9 L592.6,2011.3 L593.6,2018.7 L594.6,2025.2 L595.6,2030.8 L596.6,2035.7 L597.6,2039.9 L598.6,2043.6 L599.6,2046.7 L600.6,2049.3 L601.6,2051.5 L602.6,2052.5 L602.6,2052.5 Z" fill="#2fd04a"/><path d="M588.6,2052.5 L588.6,2052.2 L589.6,2052.1 L590.6,2052.0 L591.6,2051.8 L592.6,2051.7 L593.6,2051.6 L594.6,2051.4 L595.6,2051.3 L596.6,2051.1 L597.6,2050.9 L598.6,2050.7 L599.6,2050.5 L600.6,2050.3 L601.6,2050.1 L602.6,2049.9 L603.6,2049.6 L604.6,2049.4 L605.6,2049.1 L606.6,2048.8 L607.6,2048.5 L608.6,2048.2 L609.6,2047.9 L610.6,2047.6 L611.6,2047.2 L612.6,2046.9 L613.6,2046.5 L614.6,2046.1 L615.6,2045.7 L616.6,2045.2 L617.6,2044.8 L618.6,2044.3 L619.6,2043.8 L620.6,2043.3 L621.6,2042.8 L622.6,2042.2 L623.6,2041.7 L624.6,2041.1 L625.6,2040.5 L626.6,2039.8 L627.6,2039.2 L628.6,2038.5 L629.6,2037.8 L630.6,2037.0 L631.6,2036.3 L632.6,2035.5 L633.6,2034.7 L634.6,2033.9 L635.6,2033.0 L636.6,2032.1 L637.6,2031.2 L638.6,2030.3 L639.6,2029.3 L640.6,2028.4 L641.6,2027.3 L642.6,2026.3 L643.6,2025.2 L644.6,2024.2 L645.6,2023.5 L646.6,2024.5 L647.6,2025.6 L648.6,2026.6 L649.6,2027.6 L650.6,2028.6 L651.6,2029.6 L652.6,2030.5 L653.6,2031.4 L654.6,2032.3 L655.6,2033.2 L656.6,2034.0 L657.6,2034.8 L658.6,2035.6 L659.6,2036.4 L660.6,2037.1 L661.6,2037.8 L662.6,2038.5 L663.6,2039.2 L664.6,2039.8 L665.6,2040.5 L666.6,2041.1 L667.6,2041.6 L668.6,2042.2 L669.6,2042.8 L670.6,2043.3 L671.6,2043.8 L672.6,2044.3 L673.6,2044.7 L674.6,2045.2 L675.6,2045.6 L676.6,2046.0 L677.6,2046.4 L678.6,2046.8 L679.6,2047.1 L680.6,2047.5 L681.6,2047.8 L682.6,2048.1 L683.6,2048.4 L684.6,2048.7 L685.6,2049.0 L686.6,2049.3 L687.6,2049.5 L688.6,2049.8 L689.6,2050.0 L690.6,2050.2 L691.6,2050.4 L692.6,2050.6 L693.6,2050.8 L694.6,2051.0 L695.6,2051.1 L696.6,2051.3 L697.6,2051.4 L698.6,2051.6 L699.6,2051.7 L700.6,2051.8 L701.6,2052.0 L702.6,2052.1 L703.6,2052.2 L704.6,2052.3 L704.6,2052.5 Z" fill="#3fdcc4"/><path d="M513.6,2051.9 L514.6,2051.6 L515.6,2051.3 L516.6,2051.0 L517.6,2050.6 L518.6,2050.3 L519.6,2049.8 L520.6,2049.3 L521.6,2048.8 L522.6,2048.2 L523.6,2047.6 L524.6,2046.9 L525.6,2046.1 L526.6,2045.3 L527.6,2044.4 L528.6,2043.4 L529.6,2042.3 L530.6,2041.2 L531.6,2040.0 L532.6,2038.6 L533.6,2037.2 L534.6,2035.7 L535.6,2034.2 L536.6,2032.5 L537.6,2030.7 L538.6,2028.8 L539.6,2026.8 L540.6,2024.8 L541.6,2022.6 L542.6,2020.3 L543.6,2018.0 L544.6,2015.5 L545.6,2013.0 L546.6,2010.4 L547.6,2007.8 L548.6,2005.0 L549.6,2002.2 L550.6,1999.4 L551.6,1996.5 L552.6,1993.6 L553.6,1990.7 L554.6,1987.8 L555.6,1984.9 L556.6,1982.0 L557.6,1979.1 L558.6,1976.3 L559.6,1973.6 L560.6,1970.9 L561.6,1968.3 L562.6,1965.8 L563.6,1963.4 L564.6,1961.2 L565.6,1959.1 L566.6,1957.1 L567.6,1955.3 L568.6,1953.7 L569.6,1952.3 L570.6,1951.0 L571.6,1950.0 L572.6,1949.2 L573.6,1948.5 L574.6,1948.1 L575.6,1947.9 L576.6,1947.9 L577.6,1948.0 L578.6,1948.1 L579.6,1948.3 L580.6,1948.5 L581.6,1948.8 L582.6,1949.1 L583.6,1949.5 L584.6,1949.9 L585.6,1950.4 L586.6,1950.9 L587.6,1951.5 L588.6,1952.2 L589.6,1952.8 L590.6,1953.6 L591.6,1954.3 L592.6,1955.2 L593.6,1956.0 L594.6,1956.9 L595.6,1957.9 L596.6,1958.9 L597.6,1959.9 L598.6,1961.0 L599.6,1962.1 L600.6,1963.2 L601.6,1964.4 L602.6,1965.6 L603.6,1966.8 L604.6,1968.1 L605.6,1969.3 L606.6,1970.6 L607.6,1972.0 L608.6,1973.3 L609.6,1974.7 L610.6,1976.1 L611.6,1977.5 L612.6,1978.9 L613.6,1980.3 L614.6,1981.7 L615.6,1983.2 L616.6,1984.6 L617.6,1986.1 L618.6,1987.5 L619.6,1989.0 L620.6,1990.4 L621.6,1991.9 L622.6,1993.3 L623.6,1994.8 L624.6,1996.2 L625.6,1997.7 L626.6,1999.1 L627.6,2000.5 L628.6,2002.0 L629.6,2003.4 L630.6,2004.7 L631.6,2006.1 L632.6,2007.5 L633.6,2008.8 L634.6,2010.2 L635.6,2011.5 L636.6,2012.8 L637.6,2014.0 L638.6,2015.3 L639.6,2016.5 L640.6,2017.7 L641.6,2018.9 L642.6,2020.1 L643.6,2021.2 L644.6,2022.4 L645.6,2023.5 L646.6,2024.5 L647.6,2025.6 L648.6,2026.6 L649.6,2027.6 L650.6,2028.6 L651.6,2029.6 L652.6,2030.5 L653.6,2031.4 L654.6,2032.3 L655.6,2033.2 L656.6,2034.0 L657.6,2034.8 L658.6,2035.6 L659.6,2036.4 L660.6,2037.1 L661.6,2037.8 L662.6,2038.5 L663.6,2039.2 L664.6,2039.8 L665.6,2040.5 L666.6,2041.1 L667.6,2041.6 L668.6,2042.2 L669.6,2042.8 L670.6,2043.3 L671.6,2043.8 L672.6,2044.3 L673.6,2044.7 L674.6,2045.2 L675.6,2045.6 L676.6,2046.0 L677.6,2046.4 L678.6,2046.8 L679.6,2047.1 L680.6,2047.5 L681.6,2047.8 L682.6,2048.1 L683.6,2048.4 L684.6,2048.7 L685.6,2049.0 L686.6,2049.3 L687.6,2049.5 L688.6,2049.8 L689.6,2050.0 L690.6,2050.2 L691.6,2050.4 L692.6,2050.6 L693.6,2050.8 L694.6,2051.0 L695.6,2051.1 L696.6,2051.3 L697.6,2051.4 L698.6,2051.6 L699.6,2051.7 L700.6,2051.8 L701.6,2052.0" fill="none" stroke="#5f9a28" stroke-width="2.2" stroke-linejoin="round" opacity="1"/><path d="M513.6,2051.1 L514.6,2048.8 L515.6,2046.1 L516.6,2042.9 L517.6,2039.2 L518.6,2034.8 L519.6,2029.8 L520.6,2024.0 L521.6,2017.3 L522.6,2009.7 L523.6,2001.1 L524.6,1991.4 L525.6,1980.4 L526.6,1968.3 L527.6,1954.7 L528.6,1939.8 L529.6,1923.3 L530.6,1905.4 L531.6,1885.9 L532.6,1864.9 L533.6,1842.3 L534.6,1818.2 L535.6,1792.7 L536.6,1765.9 L537.6,1737.8 L538.6,1708.6 L539.6,1678.5 L540.6,1647.7 L541.6,1616.3 L542.6,1584.8 L543.6,1553.3 L544.6,1522.0 L545.6,1491.5 L546.6,1461.8 L547.6,1433.4 L548.6,1406.6 L549.6,1381.7 L550.6,1358.9 L551.6,1338.7 L552.6,1321.1 L553.6,1306.5 L554.6,1295.0 L555.6,1286.7 L556.6,1281.9" fill="none" stroke="#00d050" stroke-width="3.0" stroke-linejoin="round" opacity="1"/><path d="M557.6,1280.5 L558.6,1282.6 L559.6,1288.1 L560.6,1297.0 L561.6,1309.2 L562.6,1324.4 L563.6,1342.5 L564.6,1363.3 L565.6,1386.5 L566.6,1411.8 L567.6,1439.0 L568.6,1467.7 L569.6,1497.5 L570.6,1528.2 L571.6,1559.5 L572.6,1591.1 L573.6,1622.6 L574.6,1653.9 L575.6,1684.6 L576.6,1714.5 L577.6,1743.5 L578.6,1771.3 L579.6,1797.9 L580.6,1823.2 L581.6,1846.9 L582.6,1869.2 L583.6,1889.9 L584.6,1909.1 L585.6,1926.7 L586.6,1942.9 L587.6,1957.5 L588.6,1970.8 L589.6,1982.7 L590.6,1993.4 L591.6,2002.9 L592.6,2011.3 L593.6,2018.7 L594.6,2025.2 L595.6,2030.8 L596.6,2035.7 L597.6,2039.9 L598.6,2043.6 L599.6,2046.7 L600.6,2049.3 L601.6,2051.5" fill="none" stroke="#0b6e2a" stroke-width="3.4" stroke-linejoin="round" opacity="1"/><path d="M590.6,2052.0 L591.6,2051.8 L592.6,2051.7 L593.6,2051.6 L594.6,2051.4 L595.6,2051.3 L596.6,2051.1 L597.6,2050.9 L598.6,2050.7 L599.6,2050.5 L600.6,2050.3 L601.6,2050.1 L602.6,2049.9 L603.6,2049.6 L604.6,2049.4 L605.6,2049.1 L606.6,2048.8 L607.6,2048.5 L608.6,2048.2 L609.6,2047.9 L610.6,2047.6 L611.6,2047.2 L612.6,2046.9 L613.6,2046.5 L614.6,2046.1 L615.6,2045.7 L616.6,2045.2 L617.6,2044.8 L618.6,2044.3 L619.6,2043.8 L620.6,2043.3 L621.6,2042.8 L622.6,2042.2 L623.6,2041.7 L624.6,2041.1 L625.6,2040.5 L626.6,2039.8 L627.6,2039.2 L628.6,2038.5 L629.6,2037.8 L630.6,2037.0 L631.6,2036.3 L632.6,2035.5 L633.6,2034.7 L634.6,2033.9 L635.6,2033.0 L636.6,2032.1 L637.6,2031.2 L638.6,2030.3 L639.6,2029.3 L640.6,2028.4 L641.6,2027.3 L642.6,2026.3 L643.6,2025.2 L644.6,2024.2 L645.6,2023.0 L646.6,2021.9 L647.6,2020.7 L648.6,2019.5 L649.6,2018.3 L650.6,2017.1 L651.6,2015.8 L652.6,2014.5 L653.6,2013.2 L654.6,2011.9 L655.6,2010.5 L656.6,2009.1 L657.6,2007.7 L658.6,2006.3 L659.6,2004.8 L660.6,2003.4 L661.6,2001.9 L662.6,2000.4 L663.6,1998.9 L664.6,1997.3 L665.6,1995.8 L666.6,1994.2 L667.6,1992.7 L668.6,1991.1 L669.6,1989.5 L670.6,1987.9 L671.6,1986.3 L672.6,1984.7 L673.6,1983.1 L674.6,1981.5 L675.6,1979.9 L676.6,1978.3 L677.6,1976.7 L678.6,1975.1 L679.6,1973.5 L680.6,1971.9 L681.6,1970.3 L682.6,1968.8 L683.6,1967.2 L684.6,1965.7 L685.6,1964.2 L686.6,1962.7 L687.6,1961.2 L688.6,1959.7 L689.6,1958.3 L690.6,1956.9 L691.6,1955.5 L692.6,1954.2 L693.6,1952.9 L694.6,1951.6 L695.6,1950.3 L696.6,1949.1 L697.6,1948.0 L698.6,1946.8 L699.6,1945.7 L700.6,1944.7 L701.6,1943.7 L702.6,1942.7 L703.6,1941.8 L704.6,1941.0 L705.6,1940.1 L706.6,1939.4 L707.6,1938.7 L708.6,1938.0 L709.6,1937.4 L710.6,1936.9 L711.6,1936.4 L712.6,1935.9 L713.6,1935.6 L714.6,1935.2 L715.6,1935.0 L716.6,1934.8 L717.6,1934.6 L718.6,1934.5 L719.6,1934.5" fill="none" stroke="#19b8b8" stroke-width="2.2" stroke-linejoin="round" opacity="1"/><path d="M719.6,1934.5 L720.6,1934.6 L721.6,1934.8 L722.6,1935.1 L723.6,1935.6 L724.6,1936.1 L725.6,1936.9 L726.6,1937.7 L727.6,1938.7 L728.6,1939.8 L729.6,1941.0 L730.6,1942.3 L731.6,1943.7 L732.6,1945.2 L733.6,1946.8 L734.6,1948.5 L735.6,1950.3 L736.6,1952.2 L737.6,1954.2 L738.6,1956.2 L739.6,1958.3 L740.6,1960.5 L741.6,1962.7 L742.6,1964.9 L743.6,1967.2 L744.6,1969.5 L745.6,1971.9 L746.6,1974.3 L747.6,1976.7 L748.6,1979.1 L749.6,1981.5 L750.6,1983.9 L751.6,1986.3 L752.6,1988.7 L753.6,1991.1 L754.6,1993.5 L755.6,1995.8 L756.6,1998.1 L757.6,2000.4 L758.6,2002.6 L759.6,2004.8 L760.6,2007.0 L761.6,2009.1 L762.6,2011.2 L763.6,2013.2 L764.6,2015.2 L765.6,2017.1 L766.6,2018.9 L767.6,2020.7 L768.6,2022.5 L769.6,2024.2 L770.6,2025.8 L771.6,2027.3 L772.6,2028.8 L773.6,2030.3 L774.6,2031.7 L775.6,2033.0 L776.6,2034.3 L777.6,2035.5 L778.6,2036.7 L779.6,2037.8 L780.6,2038.8 L781.6,2039.8 L782.6,2040.8 L783.6,2041.7 L784.6,2042.5 L785.6,2043.3 L786.6,2044.1 L787.6,2044.8 L788.6,2045.5 L789.6,2046.1 L790.6,2046.7 L791.6,2047.2 L792.6,2047.7 L793.6,2048.2 L794.6,2048.7 L795.6,2049.1 L796.6,2049.5 L797.6,2049.9 L798.6,2050.2 L799.6,2050.5 L800.6,2050.8 L801.6,2051.1 L802.6,2051.3 L803.6,2051.6 L804.6,2051.8 L805.6,2052.0" fill="none" stroke="#3b62d6" stroke-width="3.4" stroke-linejoin="round" opacity="1"/><path d="M364.6,2049.5 L452.0,2049.5 L471.2,2035.0 L492.0,2019.5 L507.6,2001.3 L518.0,1970.0 L525.8,1931.0 L533.0,1849.5 L534.0,1778.6 L535.0,1749.7 L536.0,1719.3 L537.0,1687.4 L538.0,1654.3 L539.0,1620.2 L540.0,1585.2 L541.0,1549.7 L542.0,1513.9 L543.0,1478.2 L544.0,1443.0 L545.0,1408.5 L546.0,1375.1 L547.0,1343.2 L548.0,1313.3 L549.0,1285.5 L550.0,1260.3 L551.0,1244.5 L552.0,1244.5 L553.0,1244.5 L554.0,1244.5 L555.0,1244.5 L556.0,1244.5 L557.0,1244.5 L558.0,1243.6 L559.0,1244.7 L560.0,1249.6 L561.0,1258.2 L562.0,1270.4 L563.0,1286.0 L564.0,1304.6 L565.0,1326.1 L566.0,1350.0 L567.0,1376.1 L568.0,1403.9 L569.0,1433.1 L570.0,1463.3 L571.0,1494.2 L572.0,1525.4 L573.0,1556.5 L574.0,1587.4 L575.0,1617.6 L576.0,1647.0 L577.0,1675.3 L577.8,1697.0 L581.7,1853.0 L588.2,1905.0 L596.0,1939.0 L609.0,1965.0 L622.0,1978.0 L645.5,1979.0 L666.3,1985.7 L687.0,1957.0 L707.9,1936.0 L726.0,1923.0 L739.0,1936.0 L747.0,1952.0 L765.0,1996.0 L783.3,2027.0 L804.0,2045.5 L815.0,2049.5 L1254.7,2049.5" fill="none" stroke="#000" stroke-width="4.5" stroke-linejoin="round"/><path d="M500.6,2049.7 L501.6,2049.5 L502.6,2049.2 L503.6,2048.9 L504.6,2048.5 L505.6,2048.0 L506.6,2047.4 L507.6,2046.6 L508.6,2045.7 L509.6,2044.6 L510.6,2043.3 L511.6,2041.7 L512.6,2039.7 L513.6,2037.5 L514.6,2034.7 L515.6,2031.5 L516.6,2027.7 L517.6,2023.3 L518.6,2018.2 L519.6,2012.2 L520.6,2005.3 L521.6,1997.4 L522.6,1988.4 L523.6,1978.2 L524.6,1966.7 L525.6,1953.7 L526.6,1939.3 L527.6,1923.2 L528.6,1905.5 L529.6,1886.1 L530.6,1864.9 L531.6,1841.9 L532.6,1817.2 L533.6,1790.6 L534.6,1762.4 L535.6,1732.6 L536.6,1701.3 L537.6,1668.7 L538.6,1634.9 L539.6,1600.3 L540.6,1564.9 L541.6,1529.2 L542.6,1493.5 L543.6,1458.0 L544.6,1423.2 L545.6,1389.3 L546.6,1356.8 L547.6,1326.0 L548.6,1297.3 L549.6,1271.0 L550.6,1247.5 L551.6,1227.0 L552.6,1209.7 L553.6,1196.0 L554.6,1185.9 L555.6,1179.6 L556.6,1177.1 L557.6,1178.5 L558.6,1183.6 L559.6,1192.4 L560.6,1204.8 L561.6,1220.5 L562.6,1239.4 L563.6,1261.0 L564.6,1285.2 L565.6,1311.7 L566.6,1340.0 L567.6,1369.8 L568.6,1400.7 L569.6,1432.5 L570.6,1464.8 L571.6,1497.3 L572.6,1529.6 L573.6,1561.5 L574.6,1592.8 L575.6,1623.1 L576.6,1652.4 L577.6,1680.4 L578.6,1706.9 L579.6,1731.8 L580.6,1755.1 L581.6,1776.7 L582.6,1796.7 L583.6,1815.0 L584.6,1831.8 L585.6,1847.0 L586.6,1860.8 L587.6,1873.2 L588.6,1884.3 L589.6,1894.2 L590.6,1903.0 L591.6,1910.8 L592.6,1917.7 L593.6,1923.8 L594.6,1929.1 L595.6,1933.9 L596.6,1938.0 L597.6,1941.7 L598.6,1944.9 L599.6,1947.8 L600.6,1950.4 L601.6,1952.7 L602.6,1954.8 L603.6,1956.7 L604.6,1958.4 L605.6,1960.0 L606.6,1961.5 L607.6,1962.9 L608.6,1964.3 L609.6,1965.5 L610.6,1966.8 L611.6,1968.0 L612.6,1969.1 L613.6,1970.2 L614.6,1971.3 L615.6,1972.4 L616.6,1973.4 L617.6,1974.5 L618.6,1975.5 L619.6,1976.4 L620.6,1977.4 L621.6,1978.3 L622.6,1979.2 L623.6,1980.1 L624.6,1980.9 L625.6,1981.8 L626.6,1982.6 L627.6,1983.3 L628.6,1984.0 L629.6,1984.7 L630.6,1985.4 L631.6,1986.0 L632.6,1986.6 L633.6,1987.1 L634.6,1987.6 L635.6,1988.0 L636.6,1988.4 L637.6,1988.8 L638.6,1989.1 L639.6,1989.4 L640.6,1989.6 L641.6,1989.8 L642.6,1989.9 L643.6,1990.0 L644.6,1990.1 L645.6,1990.0 L646.6,1990.0 L647.6,1989.9 L648.6,1989.7 L649.6,1989.5 L650.6,1989.2 L651.6,1988.9 L652.6,1988.6 L653.6,1988.2 L654.6,1987.7 L655.6,1987.2 L656.6,1986.7 L657.6,1986.1 L658.6,1985.5 L659.6,1984.8 L660.6,1984.1 L661.6,1983.3 L662.6,1982.5 L663.6,1981.7 L664.6,1980.8 L665.6,1979.9 L666.6,1979.0 L667.6,1978.0 L668.6,1977.0 L669.6,1976.0 L670.6,1974.9 L671.6,1973.8 L672.6,1972.7 L673.6,1971.6 L674.6,1970.4 L675.6,1969.3 L676.6,1968.1 L677.6,1966.9 L678.6,1965.7 L679.6,1964.5 L680.6,1963.2 L681.6,1962.0 L682.6,1960.8 L683.6,1959.6 L684.6,1958.3 L685.6,1957.1 L686.6,1955.9 L687.6,1954.7 L688.6,1953.5 L689.6,1952.3 L690.6,1951.1 L691.6,1950.0 L692.6,1948.8 L693.6,1947.7 L694.6,1946.6 L695.6,1945.5 L696.6,1944.5 L697.6,1943.5 L698.6,1942.5 L699.6,1941.6 L700.6,1940.7 L701.6,1939.8 L702.6,1939.0 L703.6,1938.2 L704.6,1937.4 L705.6,1936.7 L706.6,1936.0 L707.6,1935.4 L708.6,1934.9 L709.6,1934.3 L710.6,1933.9 L711.6,1933.4 L712.6,1933.1 L713.6,1932.8 L714.6,1932.5 L715.6,1932.3 L716.6,1932.1 L717.6,1932.0 L718.6,1932.0 L719.6,1932.0 L720.6,1932.1 L721.6,1932.3 L722.6,1932.7 L723.6,1933.2 L724.6,1933.8 L725.6,1934.5 L726.6,1935.4 L727.6,1936.3 L728.6,1937.4 L729.6,1938.6 L730.6,1940.0 L731.6,1941.4 L732.6,1942.9 L733.6,1944.5 L734.6,1946.2 L735.6,1948.0 L736.6,1949.9 L737.6,1951.8 L738.6,1953.8 L739.6,1955.9 L740.6,1958.0 L741.6,1960.2 L742.6,1962.5 L743.6,1964.7 L744.6,1967.0 L745.6,1969.4 L746.6,1971.7 L747.6,1974.1 L748.6,1976.5 L749.6,1978.9 L750.6,1981.3 L751.6,1983.7 L752.6,1986.0 L753.6,1988.4 L754.6,1990.7 L755.6,1993.0 L756.6,1995.3 L757.6,1997.6 L758.6,1999.8 L759.6,2002.0 L760.6,2004.1 L761.6,2006.2 L762.6,2008.2 L763.6,2010.2 L764.6,2012.2 L765.6,2014.1 L766.6,2015.9 L767.6,2017.7 L768.6,2019.4 L769.6,2021.1 L770.6,2022.7 L771.6,2024.2 L772.6,2025.7 L773.6,2027.1 L774.6,2028.5 L775.6,2029.8 L776.6,2031.1 L777.6,2032.3 L778.6,2033.4 L779.6,2034.5 L780.6,2035.6 L781.6,2036.6 L782.6,2037.5 L783.6,2038.4 L784.6,2039.2 L785.6,2040.0 L786.6,2040.8 L787.6,2041.5 L788.6,2042.1 L789.6,2042.7 L790.6,2043.3 L791.6,2043.9 L792.6,2044.4 L793.6,2044.9 L794.6,2045.3 L795.6,2045.7 L796.6,2046.1 L797.6,2046.5 L798.6,2046.8 L799.6,2047.1 L800.6,2047.4 L801.6,2047.7 L802.6,2047.9 L803.6,2048.2 L804.6,2048.4 L805.6,2048.6 L806.6,2048.7 L807.6,2048.9 L808.6,2049.1 L809.6,2049.2 L810.6,2049.3 L811.6,2049.4 L812.6,2049.5 L813.6,2049.6" fill="none" stroke="#ff10ff" stroke-width="6" stroke-linejoin="round"/></g>
<rect x="364.6" y="2053.5" width="890.1" height="6" fill="#2ff0f0"/>
<rect x="364.6" y="2045.5" width="87.4" height="9" fill="#000"/>
<rect x="815.0" y="2045.5" width="439.7" height="9" fill="#000"/>
<line x1="364.6" y1="2052.5" x2="1254.7" y2="2052.5" stroke="#000" stroke-width="3.2"/>
<line x1="364.6" y1="1163.0" x2="1257.7" y2="1163.0" stroke="#333" stroke-width="3.6"/>
<line x1="1254.7" y1="1161.5" x2="1254.7" y2="2054.5" stroke="#000" stroke-width="6.5"/>
<line x1="364.6" y1="1161.5" x2="364.6" y2="2078.5" stroke="#1e1e1e" stroke-width="3.4"/>
<path d="M338.6,2052.5 H364.6 M351.6,2013.8 H364.6 M351.6,1975.0 H364.6 M351.6,1936.3 H364.6 M338.6,1897.6 H364.6 M351.6,1858.9 H364.6 M351.6,1820.2 H364.6 M351.6,1781.4 H364.6 M338.6,1742.7 H364.6 M351.6,1704.0 H364.6 M351.6,1665.2 H364.6 M351.6,1626.5 H364.6 M338.6,1587.8 H364.6 M351.6,1549.1 H364.6 M351.6,1510.3 H364.6 M351.6,1471.6 H364.6 M338.6,1432.9 H364.6 M351.6,1394.2 H364.6 M351.6,1355.5 H364.6 M351.6,1316.7 H364.6 M338.6,1278.0 H364.6 M351.6,1239.3 H364.6 M351.6,1200.6 H364.6 M364.6,2052.5 V2078.5 M409.0,2052.5 V2065.5 M453.5,2052.5 V2065.5 M497.9,2052.5 V2065.5 M542.4,2052.5 V2065.5 M586.8,2052.5 V2078.5 M631.2,2052.5 V2065.5 M675.7,2052.5 V2065.5 M720.1,2052.5 V2065.5 M764.6,2052.5 V2065.5 M809.0,2052.5 V2078.5 M853.4,2052.5 V2065.5 M897.9,2052.5 V2065.5 M942.3,2052.5 V2065.5 M986.8,2052.5 V2065.5 M1031.2,2052.5 V2078.5 M1075.6,2052.5 V2065.5 M1120.1,2052.5 V2065.5 M1164.5,2052.5 V2065.5 M1209.0,2052.5 V2065.5 M1253.4,2052.5 V2078.5" stroke="#1e1e1e" stroke-width="3.2" fill="none"/>
<text transform="translate(301.21,2052.50) scale(0.9100,1)" font-family="'Liberation Sans', Arial, sans-serif" font-weight="400" font-size="46.70" fill="#262626">0</text>
<text transform="translate(253.83,1913.60) scale(0.9100,1)" font-family="'Liberation Sans', Arial, sans-serif" font-weight="400" font-size="46.70" fill="#262626">200</text>
<text transform="translate(253.83,1758.70) scale(0.9100,1)" font-family="'Liberation Sans', Arial, sans-serif" font-weight="400" font-size="46.70" fill="#262626">400</text>
<text transform="translate(253.83,1603.80) scale(0.9100,1)" font-family="'Liberation Sans', Arial, sans-serif" font-weight="400" font-size="46.70" fill="#262626">600</text>
<text transform="translate(253.83,1448.90) scale(0.9100,1)" font-family="'Liberation Sans', Arial, sans-serif" font-weight="400" font-size="46.70" fill="#262626">800</text>
<text transform="translate(230.24,1294.00) scale(0.9100,1)" font-family="'Liberation Sans', Arial, sans-serif" font-weight="400" font-size="46.70" fill="#262626">1000</text>
<text transform="translate(360.40,2141.50) scale(0.9100,1)" font-family="'Liberation Sans', Arial, sans-serif" font-weight="400" font-size="46.70" fill="#262626">0</text>
<text transform="translate(535.45,2141.50) scale(0.9100,1)" font-family="'Liberation Sans', Arial, sans-serif" font-weight="400" font-size="46.70" fill="#262626">50K</text>
<text transform="translate(745.11,2141.50) scale(0.9100,1)" font-family="'Liberation Sans', Arial, sans-serif" font-weight="400" font-size="46.70" fill="#262626">100K</text>
<text transform="translate(967.31,2141.50) scale(0.9100,1)" font-family="'Liberation Sans', Arial, sans-serif" font-weight="400" font-size="46.70" fill="#262626">150K</text>
<text transform="translate(1190.04,2141.50) scale(0.9100,1)" font-family="'Liberation Sans', Arial, sans-serif" font-weight="400" font-size="46.70" fill="#262626">200K</text>
<text transform="translate(659.33,2257.00) scale(1.0173,1)" font-family="'Liberation Sans', Arial, sans-serif" font-weight="400" font-size="80.00" fill="#000">25 μmol/L</text>
<g clip-path="url(#cbr)"><path d="M1720.2,2052.0 L1720.2,2051.8 L1721.2,2051.6 L1722.2,2051.5 L1723.2,2051.3 L1724.2,2051.1 L1725.2,2050.9 L1726.2,2050.7 L1727.2,2050.5 L1728.2,2050.3 L1729.2,2050.0 L1730.2,2049.8 L1731.2,2049.5 L1732.2,2049.2 L1733.2,2048.9 L1734.2,2048.6 L1735.2,2048.3 L1736.2,2048.0 L1737.2,2047.6 L1738.2,2047.2 L1739.2,2046.8 L1740.2,2046.4 L1741.2,2046.0 L1742.2,2045.6 L1743.2,2045.1 L1744.2,2044.6 L1745.2,2044.1 L1746.2,2043.6 L1747.2,2043.0 L1748.2,2042.5 L1749.2,2041.9 L1750.2,2041.2 L1751.2,2040.6 L1752.2,2039.9 L1753.2,2039.2 L1754.2,2038.5 L1755.2,2037.8 L1756.2,2037.0 L1757.2,2036.2 L1758.2,2035.3 L1759.2,2034.4 L1760.2,2033.5 L1761.2,2032.6 L1762.2,2031.7 L1763.2,2030.7 L1764.2,2029.6 L1765.2,2028.6 L1766.2,2027.5 L1767.2,2026.3 L1768.2,2025.2 L1769.2,2024.0 L1770.2,2022.7 L1771.2,2021.5 L1772.2,2020.2 L1773.2,2018.8 L1774.2,2017.4 L1775.2,2016.0 L1776.2,2014.5 L1777.2,2013.1 L1778.2,2011.5 L1779.2,2010.0 L1780.2,2008.4 L1781.2,2006.7 L1782.2,2005.0 L1783.2,2003.3 L1784.2,2001.6 L1785.2,1999.8 L1786.2,1998.0 L1787.2,1996.1 L1788.2,1994.2 L1789.2,1992.3 L1790.2,1990.3 L1791.2,1988.3 L1792.2,1986.3 L1793.2,1984.2 L1794.2,1982.1 L1795.2,1980.0 L1796.2,1977.9 L1797.2,1975.7 L1798.2,1973.5 L1799.2,1971.3 L1800.2,1969.0 L1801.2,1966.8 L1802.2,1964.5 L1803.2,1962.2 L1804.2,1959.8 L1805.2,1957.5 L1806.2,1955.1 L1807.2,1952.8 L1808.2,1950.4 L1809.2,1948.0 L1810.2,1945.6 L1811.2,1943.2 L1812.2,1940.8 L1813.2,1938.4 L1814.2,1936.0 L1815.2,1933.6 L1816.2,1931.2 L1817.2,1928.8 L1818.2,1926.4 L1819.2,1924.1 L1820.2,1921.7 L1821.2,1919.4 L1822.2,1917.1 L1823.2,1914.8 L1824.2,1912.5 L1825.2,1910.3 L1826.2,1908.1 L1827.2,1905.9 L1828.2,1903.8 L1829.2,1901.7 L1830.2,1899.6 L1831.2,1897.6 L1832.2,1895.6 L1833.2,1893.7 L1834.2,1891.8 L1835.2,1890.0 L1836.2,1888.2 L1837.2,1886.5 L1838.2,1884.8 L1839.2,1883.2 L1840.2,1881.7 L1841.2,1880.2 L1842.2,1878.8 L1843.2,1877.4 L1844.2,1876.1 L1845.2,1874.9 L1846.2,1873.8 L1847.2,1872.7 L1848.2,1871.7 L1849.2,1870.8 L1850.2,1870.0 L1851.2,1869.2 L1852.2,1868.5 L1853.2,1867.9 L1854.2,1867.4 L1855.2,1867.0 L1856.2,1866.6 L1857.2,1866.3 L1858.2,1866.1 L1859.2,1866.0 L1860.2,1866.0 L1861.2,1866.1 L1862.2,1866.2 L1863.2,1866.4 L1864.2,1866.7 L1865.2,1867.1 L1866.2,1867.6 L1867.2,1868.2 L1868.2,1868.8 L1869.2,1869.5 L1870.2,1870.3 L1871.2,1871.2 L1872.2,1872.1 L1873.2,1873.1 L1874.2,1874.2 L1875.2,1875.4 L1876.2,1876.6 L1877.2,1877.9 L1878.2,1879.3 L1879.2,1880.8 L1880.2,1882.3 L1881.2,1883.8 L1882.2,1885.5 L1883.2,1887.2 L1884.2,1888.9 L1885.2,1890.7 L1886.2,1892.6 L1887.2,1894.5 L1888.2,1896.4 L1889.2,1898.4 L1890.2,1900.5 L1891.2,1902.5 L1892.2,1904.6 L1893.2,1906.8 L1894.2,1909.0 L1895.2,1911.2 L1896.2,1913.4 L1897.2,1915.7 L1898.2,1918.0 L1899.2,1920.3 L1900.2,1922.7 L1901.2,1925.0 L1902.2,1927.4 L1903.2,1929.8 L1904.2,1932.2 L1905.2,1934.5 L1906.2,1936.9 L1907.2,1939.4 L1908.2,1941.8 L1909.2,1944.2 L1910.2,1946.6 L1911.2,1949.0 L1912.2,1951.3 L1913.2,1953.7 L1914.2,1956.1 L1915.2,1958.4 L1916.2,1960.8 L1917.2,1963.1 L1918.2,1965.4 L1919.2,1967.7 L1920.2,1969.9 L1921.2,1972.2 L1922.2,1974.4 L1923.2,1976.6 L1924.2,1978.7 L1925.2,1980.9 L1926.2,1983.0 L1927.2,1985.1 L1928.2,1987.1 L1929.2,1989.1 L1930.2,1991.1 L1931.2,1993.0 L1932.2,1995.0 L1933.2,1996.8 L1934.2,1998.7 L1935.2,2000.5 L1936.2,2002.3 L1937.2,2004.0 L1938.2,2005.7 L1939.2,2007.4 L1940.2,2009.0 L1941.2,2010.6 L1942.2,2012.1 L1943.2,2013.7 L1944.2,2015.1 L1945.2,2016.6 L1946.2,2018.0 L1947.2,2019.3 L1948.2,2020.7 L1949.2,2022.0 L1950.2,2023.2 L1951.2,2024.5 L1952.2,2025.6 L1953.2,2026.8 L1954.2,2027.9 L1955.2,2029.0 L1956.2,2030.0 L1957.2,2031.1 L1958.2,2032.0 L1959.2,2033.0 L1960.2,2033.9 L1961.2,2034.8 L1962.2,2035.7 L1963.2,2036.5 L1964.2,2037.3 L1965.2,2038.1 L1966.2,2038.8 L1967.2,2039.5 L1968.2,2040.2 L1969.2,2040.9 L1970.2,2041.5 L1971.2,2042.1 L1972.2,2042.7 L1973.2,2043.3 L1974.2,2043.8 L1975.2,2044.3 L1976.2,2044.8 L1977.2,2045.3 L1978.2,2045.7 L1979.2,2046.2 L1980.2,2046.6 L1981.2,2047.0 L1982.2,2047.4 L1983.2,2047.7 L1984.2,2048.1 L1985.2,2048.4 L1986.2,2048.7 L1987.2,2049.0 L1988.2,2049.3 L1989.2,2049.6 L1990.2,2049.9 L1991.2,2050.1 L1992.2,2050.3 L1993.2,2050.6 L1994.2,2050.8 L1995.2,2051.0 L1996.2,2051.2 L1997.2,2051.4 L1998.2,2051.5 L1999.2,2051.7 L2000.2,2051.8 L2000.2,2052.0 Z" fill="#45fafa"/><path d="M1642.2,2052.0 L1642.2,2051.8 L1643.2,2050.3 L1644.2,2048.6 L1645.2,2046.7 L1646.2,2044.5 L1647.2,2042.1 L1648.2,2039.5 L1649.2,2036.5 L1650.2,2033.2 L1651.2,2029.6 L1652.2,2025.6 L1653.2,2021.2 L1654.2,2016.3 L1655.2,2011.0 L1656.2,2005.2 L1657.2,1998.9 L1658.2,1992.0 L1659.2,1984.5 L1660.2,1976.4 L1661.2,1967.7 L1662.2,1958.3 L1663.2,1948.2 L1664.2,1937.4 L1665.2,1925.8 L1666.2,1913.5 L1667.2,1900.4 L1668.2,1886.5 L1669.2,1871.8 L1670.2,1856.3 L1671.2,1840.1 L1672.2,1823.0 L1673.2,1805.1 L1674.2,1786.5 L1675.2,1767.2 L1676.2,1747.1 L1677.2,1726.4 L1678.2,1705.1 L1679.2,1683.2 L1680.2,1660.8 L1681.2,1637.9 L1682.2,1614.6 L1683.2,1591.1 L1684.2,1567.4 L1685.2,1543.5 L1686.2,1519.6 L1687.2,1495.7 L1688.2,1472.1 L1689.2,1448.7 L1690.2,1425.7 L1691.2,1403.2 L1692.2,1381.3 L1693.2,1360.2 L1694.2,1339.9 L1695.2,1320.5 L1696.2,1302.2 L1697.2,1285.0 L1698.2,1269.1 L1699.2,1254.6 L1700.2,1241.5 L1701.2,1229.8 L1702.2,1219.8 L1703.2,1211.4 L1704.2,1204.7 L1705.2,1199.7 L1706.2,1196.5 L1707.2,1195.1 L1708.2,1195.4 L1709.2,1197.6 L1710.2,1201.5 L1711.2,1207.2 L1712.2,1214.6 L1713.2,1223.6 L1714.2,1234.3 L1715.2,1246.5 L1716.2,1260.2 L1717.2,1275.3 L1718.2,1291.8 L1719.2,1309.4 L1720.2,1328.1 L1721.2,1347.9 L1722.2,1368.5 L1723.2,1390.0 L1724.2,1412.1 L1725.2,1434.8 L1726.2,1458.0 L1727.2,1481.5 L1728.2,1505.2 L1729.2,1529.1 L1730.2,1553.0 L1731.2,1576.9 L1732.2,1600.6 L1733.2,1624.0 L1734.2,1647.1 L1735.2,1669.8 L1736.2,1692.0 L1737.2,1713.7 L1738.2,1734.8 L1739.2,1755.2 L1740.2,1775.0 L1741.2,1794.1 L1742.2,1812.4 L1743.2,1829.9 L1744.2,1846.7 L1745.2,1862.6 L1746.2,1877.8 L1747.2,1892.1 L1748.2,1905.7 L1749.2,1918.5 L1750.2,1930.5 L1751.2,1941.8 L1752.2,1952.3 L1753.2,1962.1 L1754.2,1971.3 L1755.2,1979.7 L1756.2,1987.6 L1757.2,1994.8 L1758.2,2001.5 L1759.2,2007.6 L1760.2,2013.2 L1761.2,2018.3 L1762.2,2023.0 L1763.2,2027.2 L1764.2,2031.1 L1765.2,2034.6 L1766.2,2037.7 L1767.2,2040.6 L1768.2,2043.1 L1769.2,2045.4 L1770.2,2047.5 L1771.2,2049.3 L1772.2,2050.9 L1773.2,2052.0 L1773.2,2052.0 Z" fill="#55e595"/><path d="M1668.2,2052.0 L1668.2,2051.7 L1669.2,2051.7 L1670.2,2051.6 L1671.2,2051.5 L1672.2,2051.5 L1673.2,2051.4 L1674.2,2051.3 L1675.2,2051.2 L1676.2,2051.2 L1677.2,2051.1 L1678.2,2051.0 L1679.2,2050.9 L1680.2,2050.7 L1681.2,2050.6 L1682.2,2050.5 L1683.2,2050.4 L1684.2,2050.2 L1685.2,2050.1 L1686.2,2050.0 L1687.2,2049.8 L1688.2,2049.6 L1689.2,2049.5 L1690.2,2049.3 L1691.2,2049.1 L1692.2,2048.9 L1693.2,2048.7 L1694.2,2048.5 L1695.2,2048.2 L1696.2,2048.0 L1697.2,2047.7 L1698.2,2047.5 L1699.2,2047.2 L1700.2,2046.9 L1701.2,2046.6 L1702.2,2046.3 L1703.2,2046.0 L1704.2,2045.7 L1705.2,2045.3 L1706.2,2045.0 L1707.2,2044.6 L1708.2,2044.3 L1709.2,2043.9 L1710.2,2043.5 L1711.2,2043.1 L1712.2,2042.6 L1713.2,2042.2 L1714.2,2041.8 L1715.2,2041.3 L1716.2,2040.8 L1717.2,2040.4 L1718.2,2039.9 L1719.2,2039.4 L1720.2,2038.9 L1721.2,2038.3 L1722.2,2037.8 L1723.2,2037.3 L1724.2,2036.7 L1725.2,2036.2 L1726.2,2035.6 L1727.2,2035.0 L1728.2,2034.4 L1729.2,2033.9 L1730.2,2033.3 L1731.2,2032.7 L1732.2,2032.1 L1733.2,2031.5 L1734.2,2030.8 L1735.2,2030.2 L1736.2,2029.6 L1737.2,2029.0 L1738.2,2028.4 L1739.2,2027.8 L1740.2,2027.2 L1741.2,2026.6 L1742.2,2026.0 L1743.2,2025.4 L1744.2,2024.8 L1745.2,2024.2 L1746.2,2023.6 L1747.2,2023.0 L1748.2,2022.5 L1749.2,2021.9 L1750.2,2021.4 L1751.2,2020.8 L1752.2,2020.3 L1753.2,2019.8 L1754.2,2019.4 L1755.2,2018.9 L1756.2,2018.4 L1757.2,2018.0 L1758.2,2017.6 L1759.2,2017.2 L1760.2,2016.8 L1761.2,2016.5 L1762.2,2016.1 L1763.2,2015.8 L1764.2,2015.5 L1765.2,2015.3 L1766.2,2015.0 L1767.2,2014.8 L1768.2,2014.6 L1769.2,2014.4 L1770.2,2014.3 L1771.2,2014.2 L1772.2,2014.1 L1773.2,2014.0 L1774.2,2014.0 L1775.2,2014.0 L1776.2,2014.0 L1777.2,2014.0 L1778.2,2014.1 L1779.2,2014.1 L1780.2,2014.2 L1781.2,2014.2 L1782.2,2014.3 L1783.2,2014.4 L1784.2,2014.5 L1785.2,2014.7 L1786.2,2014.8 L1787.2,2014.9 L1788.2,2015.1 L1789.2,2015.3 L1790.2,2015.4 L1791.2,2015.6 L1792.2,2015.8 L1793.2,2016.0 L1794.2,2016.3 L1795.2,2016.5 L1796.2,2016.8 L1797.2,2017.0 L1798.2,2017.3 L1799.2,2017.5 L1800.2,2017.8 L1801.2,2018.1 L1802.2,2018.4 L1803.2,2018.7 L1804.2,2019.1 L1805.2,2019.4 L1806.2,2019.7 L1807.2,2020.1 L1808.2,2020.4 L1809.2,2020.8 L1810.2,2021.1 L1811.2,2021.5 L1812.2,2021.9 L1813.2,2022.2 L1814.2,2022.6 L1815.2,2023.0 L1816.2,2023.4 L1817.2,2023.8 L1818.2,2024.2 L1819.2,2024.6 L1820.2,2025.0 L1821.2,2025.4 L1822.2,2025.8 L1823.2,2026.3 L1824.2,2026.7 L1825.2,2027.1 L1826.2,2027.5 L1827.2,2027.9 L1828.2,2028.4 L1829.2,2028.8 L1830.2,2029.2 L1831.2,2029.6 L1832.2,2030.1 L1833.2,2030.5 L1834.2,2030.9 L1835.2,2031.3 L1836.2,2031.8 L1837.2,2032.2 L1838.2,2032.6 L1839.2,2033.0 L1840.2,2033.4 L1841.2,2033.8 L1842.2,2034.2 L1843.2,2034.6 L1844.2,2035.0 L1845.2,2035.4 L1846.2,2035.8 L1847.2,2036.2 L1848.2,2036.6 L1849.2,2037.0 L1850.2,2037.4 L1851.2,2037.7 L1852.2,2038.1 L1853.2,2038.5 L1854.2,2038.8 L1855.2,2039.2 L1856.2,2039.5 L1857.2,2039.9 L1858.2,2040.2 L1859.2,2040.5 L1860.2,2040.9 L1861.2,2041.2 L1862.2,2041.5 L1863.2,2041.8 L1864.2,2042.1 L1865.2,2042.4 L1866.2,2042.7 L1867.2,2043.0 L1868.2,2043.3 L1869.2,2043.6 L1870.2,2043.9 L1871.2,2044.1 L1872.2,2044.4 L1873.2,2044.6 L1874.2,2044.9 L1875.2,2045.1 L1876.2,2045.4 L1877.2,2045.6 L1878.2,2045.8 L1879.2,2046.1 L1880.2,2046.3 L1881.2,2046.5 L1882.2,2046.7 L1883.2,2046.9 L1884.2,2047.1 L1885.2,2047.3 L1886.2,2047.5 L1887.2,2047.7 L1888.2,2047.8 L1889.2,2048.0 L1890.2,2048.2 L1891.2,2048.3 L1892.2,2048.5 L1893.2,2048.6 L1894.2,2048.8 L1895.2,2048.9 L1896.2,2049.1 L1897.2,2049.2 L1898.2,2049.3 L1899.2,2049.5 L1900.2,2049.6 L1901.2,2049.7 L1902.2,2049.8 L1903.2,2049.9 L1904.2,2050.0 L1905.2,2050.1 L1906.2,2050.2 L1907.2,2050.3 L1908.2,2050.4 L1909.2,2050.5 L1910.2,2050.6 L1911.2,2050.7 L1912.2,2050.7 L1913.2,2050.8 L1914.2,2050.9 L1915.2,2051.0 L1916.2,2051.0 L1917.2,2051.1 L1918.2,2051.2 L1919.2,2051.2 L1920.2,2051.3 L1921.2,2051.3 L1922.2,2051.4 L1923.2,2051.4 L1924.2,2051.5 L1925.2,2051.5 L1926.2,2051.6 L1927.2,2051.6 L1928.2,2051.7 L1929.2,2051.7 L1929.2,2052.0 Z" fill="#e9d596"/><path d="M1668.2,2052.0 L1668.2,2051.7 L1669.2,2051.7 L1670.2,2051.6 L1671.2,2051.5 L1672.2,2051.5 L1673.2,2051.4 L1674.2,2051.3 L1675.2,2051.2 L1676.2,2051.2 L1677.2,2051.1 L1678.2,2051.0 L1679.2,2050.9 L1680.2,2050.7 L1681.2,2050.6 L1682.2,2050.5 L1683.2,2050.4 L1684.2,2050.2 L1685.2,2050.1 L1686.2,2050.0 L1687.2,2049.8 L1688.2,2049.6 L1689.2,2049.5 L1690.2,2049.3 L1691.2,2049.1 L1692.2,2048.9 L1693.2,2048.7 L1694.2,2048.5 L1695.2,2048.2 L1696.2,2048.0 L1697.2,2047.7 L1698.2,2047.5 L1699.2,2047.2 L1700.2,2046.9 L1701.2,2046.6 L1702.2,2046.3 L1703.2,2046.0 L1704.2,2045.7 L1705.2,2045.3 L1706.2,2045.0 L1707.2,2044.6 L1708.2,2044.3 L1709.2,2043.9 L1710.2,2043.5 L1711.2,2043.1 L1712.2,2042.6 L1713.2,2042.2 L1714.2,2041.8 L1715.2,2041.3 L1716.2,2040.8 L1717.2,2040.4 L1718.2,2039.9 L1719.2,2039.4 L1720.2,2038.9 L1721.2,2038.3 L1722.2,2037.8 L1723.2,2037.3 L1724.2,2036.7 L1725.2,2036.2 L1726.2,2035.6 L1727.2,2035.0 L1728.2,2034.4 L1729.2,2033.9 L1730.2,2033.3 L1731.2,2032.7 L1732.2,2032.1 L1733.2,2031.5 L1734.2,2030.8 L1735.2,2030.2 L1736.2,2029.6 L1737.2,2029.0 L1738.2,2028.4 L1739.2,2027.8 L1740.2,2027.2 L1741.2,2026.6 L1742.2,2026.0 L1743.2,2025.4 L1744.2,2024.8 L1745.2,2024.2 L1746.2,2023.6 L1747.2,2023.0 L1748.2,2022.5 L1749.2,2021.9 L1750.2,2021.4 L1751.2,2020.8 L1752.2,2020.3 L1753.2,2019.8 L1754.2,2019.4 L1755.2,2018.9 L1756.2,2018.4 L1757.2,2018.0 L1758.2,2017.6 L1759.2,2017.2 L1760.2,2016.8 L1761.2,2018.3 L1762.2,2023.0 L1763.2,2027.2 L1764.2,2031.1 L1765.2,2034.6 L1766.2,2037.7 L1767.2,2040.6 L1768.2,2043.1 L1769.2,2045.4 L1770.2,2047.5 L1771.2,2049.3 L1772.2,2050.9 L1773.2,2052.0 L1773.2,2052.0 Z" fill="#2fd04a"/><path d="M1720.2,2052.0 L1720.2,2051.8 L1721.2,2051.6 L1722.2,2051.5 L1723.2,2051.3 L1724.2,2051.1 L1725.2,2050.9 L1726.2,2050.7 L1727.2,2050.5 L1728.2,2050.3 L1729.2,2050.0 L1730.2,2049.8 L1731.2,2049.5 L1732.2,2049.2 L1733.2,2048.9 L1734.2,2048.6 L1735.2,2048.3 L1736.2,2048.0 L1737.2,2047.6 L1738.2,2047.2 L1739.2,2046.8 L1740.2,2046.4 L1741.2,2046.0 L1742.2,2045.6 L1743.2,2045.1 L1744.2,2044.6 L1745.2,2044.1 L1746.2,2043.6 L1747.2,2043.0 L1748.2,2042.5 L1749.2,2041.9 L1750.2,2041.2 L1751.2,2040.6 L1752.2,2039.9 L1753.2,2039.2 L1754.2,2038.5 L1755.2,2037.8 L1756.2,2037.0 L1757.2,2036.2 L1758.2,2035.3 L1759.2,2034.4 L1760.2,2033.5 L1761.2,2032.6 L1762.2,2031.7 L1763.2,2030.7 L1764.2,2029.6 L1765.2,2028.6 L1766.2,2027.5 L1767.2,2026.3 L1768.2,2025.2 L1769.2,2024.0 L1770.2,2022.7 L1771.2,2021.5 L1772.2,2020.2 L1773.2,2018.8 L1774.2,2017.4 L1775.2,2016.0 L1776.2,2014.5 L1777.2,2014.0 L1778.2,2014.1 L1779.2,2014.1 L1780.2,2014.2 L1781.2,2014.2 L1782.2,2014.3 L1783.2,2014.4 L1784.2,2014.5 L1785.2,2014.7 L1786.2,2014.8 L1787.2,2014.9 L1788.2,2015.1 L1789.2,2015.3 L1790.2,2015.4 L1791.2,2015.6 L1792.2,2015.8 L1793.2,2016.0 L1794.2,2016.3 L1795.2,2016.5 L1796.2,2016.8 L1797.2,2017.0 L1798.2,2017.3 L1799.2,2017.5 L1800.2,2017.8 L1801.2,2018.1 L1802.2,2018.4 L1803.2,2018.7 L1804.2,2019.1 L1805.2,2019.4 L1806.2,2019.7 L1807.2,2020.1 L1808.2,2020.4 L1809.2,2020.8 L1810.2,2021.1 L1811.2,2021.5 L1812.2,2021.9 L1813.2,2022.2 L1814.2,2022.6 L1815.2,2023.0 L1816.2,2023.4 L1817.2,2023.8 L1818.2,2024.2 L1819.2,2024.6 L1820.2,2025.0 L1821.2,2025.4 L1822.2,2025.8 L1823.2,2026.3 L1824.2,2026.7 L1825.2,2027.1 L1826.2,2027.5 L1827.2,2027.9 L1828.2,2028.4 L1829.2,2028.8 L1830.2,2029.2 L1831.2,2029.6 L1832.2,2030.1 L1833.2,2030.5 L1834.2,2030.9 L1835.2,2031.3 L1836.2,2031.8 L1837.2,2032.2 L1838.2,2032.6 L1839.2,2033.0 L1840.2,2033.4 L1841.2,2033.8 L1842.2,2034.2 L1843.2,2034.6 L1844.2,2035.0 L1845.2,2035.4 L1846.2,2035.8 L1847.2,2036.2 L1848.2,2036.6 L1849.2,2037.0 L1850.2,2037.4 L1851.2,2037.7 L1852.2,2038.1 L1853.2,2038.5 L1854.2,2038.8 L1855.2,2039.2 L1856.2,2039.5 L1857.2,2039.9 L1858.2,2040.2 L1859.2,2040.5 L1860.2,2040.9 L1861.2,2041.2 L1862.2,2041.5 L1863.2,2041.8 L1864.2,2042.1 L1865.2,2042.4 L1866.2,2042.7 L1867.2,2043.0 L1868.2,2043.3 L1869.2,2043.6 L1870.2,2043.9 L1871.2,2044.1 L1872.2,2044.4 L1873.2,2044.6 L1874.2,2044.9 L1875.2,2045.1 L1876.2,2045.4 L1877.2,2045.6 L1878.2,2045.8 L1879.2,2046.1 L1880.2,2046.3 L1881.2,2046.5 L1882.2,2046.7 L1883.2,2046.9 L1884.2,2047.1 L1885.2,2047.3 L1886.2,2047.5 L1887.2,2047.7 L1888.2,2047.8 L1889.2,2048.0 L1890.2,2048.2 L1891.2,2048.3 L1892.2,2048.5 L1893.2,2048.6 L1894.2,2048.8 L1895.2,2048.9 L1896.2,2049.1 L1897.2,2049.2 L1898.2,2049.3 L1899.2,2049.5 L1900.2,2049.6 L1901.2,2049.7 L1902.2,2049.8 L1903.2,2049.9 L1904.2,2050.0 L1905.2,2050.1 L1906.2,2050.2 L1907.2,2050.3 L1908.2,2050.4 L1909.2,2050.5 L1910.2,2050.6 L1911.2,2050.7 L1912.2,2050.7 L1913.2,2050.8 L1914.2,2050.9 L1915.2,2051.0 L1916.2,2051.0 L1917.2,2051.1 L1918.2,2051.2 L1919.2,2051.2 L1920.2,2051.3 L1921.2,2051.3 L1922.2,2051.4 L1923.2,2051.4 L1924.2,2051.5 L1925.2,2051.5 L1926.2,2051.6 L1927.2,2051.6 L1928.2,2051.7 L1929.2,2051.7 L1929.2,2052.0 Z" fill="#3fdcc4"/><path d="M1672.2,2051.5 L1673.2,2051.4 L1674.2,2051.3 L1675.2,2051.2 L1676.2,2051.2 L1677.2,2051.1 L1678.2,2051.0 L1679.2,2050.9 L1680.2,2050.7 L1681.2,2050.6 L1682.2,2050.5 L1683.2,2050.4 L1684.2,2050.2 L1685.2,2050.1 L1686.2,2050.0 L1687.2,2049.8 L1688.2,2049.6 L1689.2,2049.5 L1690.2,2049.3 L1691.2,2049.1 L1692.2,2048.9 L1693.2,2048.7 L1694.2,2048.5 L1695.2,2048.2 L1696.2,2048.0 L1697.2,2047.7 L1698.2,2047.5 L1699.2,2047.2 L1700.2,2046.9 L1701.2,2046.6 L1702.2,2046.3 L1703.2,2046.0 L1704.2,2045.7 L1705.2,2045.3 L1706.2,2045.0 L1707.2,2044.6 L1708.2,2044.3 L1709.2,2043.9 L1710.2,2043.5 L1711.2,2043.1 L1712.2,2042.6 L1713.2,2042.2 L1714.2,2041.8 L1715.2,2041.3 L1716.2,2040.8 L1717.2,2040.4 L1718.2,2039.9 L1719.2,2039.4 L1720.2,2038.9 L1721.2,2038.3 L1722.2,2037.8 L1723.2,2037.3 L1724.2,2036.7 L1725.2,2036.2 L1726.2,2035.6 L1727.2,2035.0 L1728.2,2034.4 L1729.2,2033.9 L1730.2,2033.3 L1731.2,2032.7 L1732.2,2032.1 L1733.2,2031.5 L1734.2,2030.8 L1735.2,2030.2 L1736.2,2029.6 L1737.2,2029.0 L1738.2,2028.4 L1739.2,2027.8 L1740.2,2027.2 L1741.2,2026.6 L1742.2,2026.0 L1743.2,2025.4 L1744.2,2024.8 L1745.2,2024.2 L1746.2,2023.6 L1747.2,2023.0 L1748.2,2022.5 L1749.2,2021.9 L1750.2,2021.4 L1751.2,2020.8 L1752.2,2020.3 L1753.2,2019.8 L1754.2,2019.4 L1755.2,2018.9 L1756.2,2018.4 L1757.2,2018.0 L1758.2,2017.6 L1759.2,2017.2 L1760.2,2016.8 L1761.2,2016.5 L1762.2,2016.1 L1763.2,2015.8 L1764.2,2015.5 L1765.2,2015.3 L1766.2,2015.0 L1767.2,2014.8 L1768.2,2014.6 L1769.2,2014.4 L1770.2,2014.3 L1771.2,2014.2 L1772.2,2014.1 L1773.2,2014.0 L1774.2,2014.0 L1775.2,2014.0 L1776.2,2014.0 L1777.2,2014.0 L1778.2,2014.1 L1779.2,2014.1 L1780.2,2014.2 L1781.2,2014.2 L1782.2,2014.3 L1783.2,2014.4 L1784.2,2014.5 L1785.2,2014.7 L1786.2,2014.8 L1787.2,2014.9 L1788.2,2015.1 L1789.2,2015.3 L1790.2,2015.4 L1791.2,2015.6 L1792.2,2015.8 L1793.2,2016.0 L1794.2,2016.3 L1795.2,2016.5 L1796.2,2016.8 L1797.2,2017.0 L1798.2,2017.3 L1799.2,2017.5 L1800.2,2017.8 L1801.2,2018.1 L1802.2,2018.4 L1803.2,2018.7 L1804.2,2019.1 L1805.2,2019.4 L1806.2,2019.7 L1807.2,2020.1 L1808.2,2020.4 L1809.2,2020.8 L1810.2,2021.1 L1811.2,2021.5 L1812.2,2021.9 L1813.2,2022.2 L1814.2,2022.6 L1815.2,2023.0 L1816.2,2023.4 L1817.2,2023.8 L1818.2,2024.2 L1819.2,2024.6 L1820.2,2025.0 L1821.2,2025.4 L1822.2,2025.8 L1823.2,2026.3 L1824.2,2026.7 L1825.2,2027.1 L1826.2,2027.5 L1827.2,2027.9 L1828.2,2028.4 L1829.2,2028.8 L1830.2,2029.2 L1831.2,2029.6 L1832.2,2030.1 L1833.2,2030.5 L1834.2,2030.9 L1835.2,2031.3 L1836.2,2031.8 L1837.2,2032.2 L1838.2,2032.6 L1839.2,2033.0 L1840.2,2033.4 L1841.2,2033.8 L1842.2,2034.2 L1843.2,2034.6 L1844.2,2035.0 L1845.2,2035.4 L1846.2,2035.8 L1847.2,2036.2 L1848.2,2036.6 L1849.2,2037.0 L1850.2,2037.4 L1851.2,2037.7 L1852.2,2038.1 L1853.2,2038.5 L1854.2,2038.8 L1855.2,2039.2 L1856.2,2039.5 L1857.2,2039.9 L1858.2,2040.2 L1859.2,2040.5 L1860.2,2040.9 L1861.2,2041.2 L1862.2,2041.5 L1863.2,2041.8 L1864.2,2042.1 L1865.2,2042.4 L1866.2,2042.7 L1867.2,2043.0 L1868.2,2043.3 L1869.2,2043.6 L1870.2,2043.9 L1871.2,2044.1 L1872.2,2044.4 L1873.2,2044.6 L1874.2,2044.9 L1875.2,2045.1 L1876.2,2045.4 L1877.2,2045.6 L1878.2,2045.8 L1879.2,2046.1 L1880.2,2046.3 L1881.2,2046.5 L1882.2,2046.7 L1883.2,2046.9 L1884.2,2047.1 L1885.2,2047.3 L1886.2,2047.5 L1887.2,2047.7 L1888.2,2047.8 L1889.2,2048.0 L1890.2,2048.2 L1891.2,2048.3 L1892.2,2048.5 L1893.2,2048.6 L1894.2,2048.8 L1895.2,2048.9 L1896.2,2049.1 L1897.2,2049.2 L1898.2,2049.3 L1899.2,2049.5 L1900.2,2049.6 L1901.2,2049.7 L1902.2,2049.8 L1903.2,2049.9 L1904.2,2050.0 L1905.2,2050.1 L1906.2,2050.2 L1907.2,2050.3 L1908.2,2050.4 L1909.2,2050.5 L1910.2,2050.6 L1911.2,2050.7 L1912.2,2050.7 L1913.2,2050.8 L1914.2,2050.9 L1915.2,2051.0 L1916.2,2051.0 L1917.2,2051.1 L1918.2,2051.2 L1919.2,2051.2 L1920.2,2051.3 L1921.2,2051.3 L1922.2,2051.4 L1923.2,2051.4 L1924.2,2051.5" fill="none" stroke="#5f9a28" stroke-width="2.2" stroke-linejoin="round" opacity="1"/><path d="M1643.2,2050.3 L1644.2,2048.6 L1645.2,2046.7 L1646.2,2044.5 L1647.2,2042.1 L1648.2,2039.5 L1649.2,2036.5 L1650.2,2033.2 L1651.2,2029.6 L1652.2,2025.6 L1653.2,2021.2 L1654.2,2016.3 L1655.2,2011.0 L1656.2,2005.2 L1657.2,1998.9 L1658.2,1992.0 L1659.2,1984.5 L1660.2,1976.4 L1661.2,1967.7 L1662.2,1958.3 L1663.2,1948.2 L1664.2,1937.4 L1665.2,1925.8 L1666.2,1913.5 L1667.2,1900.4 L1668.2,1886.5 L1669.2,1871.8 L1670.2,1856.3 L1671.2,1840.1 L1672.2,1823.0 L1673.2,1805.1 L1674.2,1786.5 L1675.2,1767.2 L1676.2,1747.1 L1677.2,1726.4 L1678.2,1705.1 L1679.2,1683.2 L1680.2,1660.8 L1681.2,1637.9 L1682.2,1614.6 L1683.2,1591.1 L1684.2,1567.4 L1685.2,1543.5 L1686.2,1519.6 L1687.2,1495.7 L1688.2,1472.1 L1689.2,1448.7 L1690.2,1425.7 L1691.2,1403.2 L1692.2,1381.3 L1693.2,1360.2 L1694.2,1339.9 L1695.2,1320.5 L1696.2,1302.2 L1697.2,1285.0 L1698.2,1269.1 L1699.2,1254.6 L1700.2,1241.5 L1701.2,1229.8 L1702.2,1219.8 L1703.2,1211.4 L1704.2,1204.7 L1705.2,1199.7 L1706.2,1196.5 L1707.2,1195.1" fill="none" stroke="#00d050" stroke-width="3.0" stroke-linejoin="round" opacity="1"/><path d="M1708.2,1195.4 L1709.2,1197.6 L1710.2,1201.5 L1711.2,1207.2 L1712.2,1214.6 L1713.2,1223.6 L1714.2,1234.3 L1715.2,1246.5 L1716.2,1260.2 L1717.2,1275.3 L1718.2,1291.8 L1719.2,1309.4 L1720.2,1328.1 L1721.2,1347.9 L1722.2,1368.5 L1723.2,1390.0 L1724.2,1412.1 L1725.2,1434.8 L1726.2,1458.0 L1727.2,1481.5 L1728.2,1505.2 L1729.2,1529.1 L1730.2,1553.0 L1731.2,1576.9 L1732.2,1600.6 L1733.2,1624.0 L1734.2,1647.1 L1735.2,1669.8 L1736.2,1692.0 L1737.2,1713.7 L1738.2,1734.8 L1739.2,1755.2 L1740.2,1775.0 L1741.2,1794.1 L1742.2,1812.4 L1743.2,1829.9 L1744.2,1846.7 L1745.2,1862.6 L1746.2,1877.8 L1747.2,1892.1 L1748.2,1905.7 L1749.2,1918.5 L1750.2,1930.5 L1751.2,1941.8 L1752.2,1952.3 L1753.2,1962.1 L1754.2,1971.3 L1755.2,1979.7 L1756.2,1987.6 L1757.2,1994.8 L1758.2,2001.5 L1759.2,2007.6 L1760.2,2013.2 L1761.2,2018.3 L1762.2,2023.0 L1763.2,2027.2 L1764.2,2031.1 L1765.2,2034.6 L1766.2,2037.7 L1767.2,2040.6 L1768.2,2043.1 L1769.2,2045.4 L1770.2,2047.5 L1771.2,2049.3 L1772.2,2050.9" fill="none" stroke="#0b6e2a" stroke-width="3.4" stroke-linejoin="round" opacity="1"/><path d="M1722.2,2051.5 L1723.2,2051.3 L1724.2,2051.1 L1725.2,2050.9 L1726.2,2050.7 L1727.2,2050.5 L1728.2,2050.3 L1729.2,2050.0 L1730.2,2049.8 L1731.2,2049.5 L1732.2,2049.2 L1733.2,2048.9 L1734.2,2048.6 L1735.2,2048.3 L1736.2,2048.0 L1737.2,2047.6 L1738.2,2047.2 L1739.2,2046.8 L1740.2,2046.4 L1741.2,2046.0 L1742.2,2045.6 L1743.2,2045.1 L1744.2,2044.6 L1745.2,2044.1 L1746.2,2043.6 L1747.2,2043.0 L1748.2,2042.5 L1749.2,2041.9 L1750.2,2041.2 L1751.2,2040.6 L1752.2,2039.9 L1753.2,2039.2 L1754.2,2038.5 L1755.2,2037.8 L1756.2,2037.0 L1757.2,2036.2 L1758.2,2035.3 L1759.2,2034.4 L1760.2,2033.5 L1761.2,2032.6 L1762.2,2031.7 L1763.2,2030.7 L1764.2,2029.6 L1765.2,2028.6 L1766.2,2027.5 L1767.2,2026.3 L1768.2,2025.2 L1769.2,2024.0 L1770.2,2022.7 L1771.2,2021.5 L1772.2,2020.2 L1773.2,2018.8 L1774.2,2017.4 L1775.2,2016.0 L1776.2,2014.5 L1777.2,2013.1 L1778.2,2011.5 L1779.2,2010.0 L1780.2,2008.4 L1781.2,2006.7 L1782.2,2005.0 L1783.2,2003.3 L1784.2,2001.6 L1785.2,1999.8 L1786.2,1998.0 L1787.2,1996.1 L1788.2,1994.2 L1789.2,1992.3 L1790.2,1990.3 L1791.2,1988.3 L1792.2,1986.3 L1793.2,1984.2 L1794.2,1982.1 L1795.2,1980.0 L1796.2,1977.9 L1797.2,1975.7 L1798.2,1973.5 L1799.2,1971.3 L1800.2,1969.0 L1801.2,1966.8 L1802.2,1964.5 L1803.2,1962.2 L1804.2,1959.8 L1805.2,1957.5 L1806.2,1955.1 L1807.2,1952.8 L1808.2,1950.4 L1809.2,1948.0 L1810.2,1945.6 L1811.2,1943.2 L1812.2,1940.8 L1813.2,1938.4 L1814.2,1936.0 L1815.2,1933.6 L1816.2,1931.2 L1817.2,1928.8 L1818.2,1926.4 L1819.2,1924.1 L1820.2,1921.7 L1821.2,1919.4 L1822.2,1917.1 L1823.2,1914.8 L1824.2,1912.5 L1825.2,1910.3 L1826.2,1908.1 L1827.2,1905.9 L1828.2,1903.8 L1829.2,1901.7 L1830.2,1899.6 L1831.2,1897.6 L1832.2,1895.6 L1833.2,1893.7 L1834.2,1891.8 L1835.2,1890.0 L1836.2,1888.2 L1837.2,1886.5 L1838.2,1884.8 L1839.2,1883.2 L1840.2,1881.7 L1841.2,1880.2 L1842.2,1878.8 L1843.2,1877.4 L1844.2,1876.1 L1845.2,1874.9 L1846.2,1873.8 L1847.2,1872.7 L1848.2,1871.7 L1849.2,1870.8 L1850.2,1870.0 L1851.2,1869.2 L1852.2,1868.5 L1853.2,1867.9 L1854.2,1867.4 L1855.2,1867.0 L1856.2,1866.6 L1857.2,1866.3 L1858.2,1866.1 L1859.2,1866.0" fill="none" stroke="#19b8b8" stroke-width="2.2" stroke-linejoin="round" opacity="1"/><path d="M1860.2,1866.0 L1861.2,1866.1 L1862.2,1866.2 L1863.2,1866.4 L1864.2,1866.7 L1865.2,1867.1 L1866.2,1867.6 L1867.2,1868.2 L1868.2,1868.8 L1869.2,1869.5 L1870.2,1870.3 L1871.2,1871.2 L1872.2,1872.1 L1873.2,1873.1 L1874.2,1874.2 L1875.2,1875.4 L1876.2,1876.6 L1877.2,1877.9 L1878.2,1879.3 L1879.2,1880.8 L1880.2,1882.3 L1881.2,1883.8 L1882.2,1885.5 L1883.2,1887.2 L1884.2,1888.9 L1885.2,1890.7 L1886.2,1892.6 L1887.2,1894.5 L1888.2,1896.4 L1889.2,1898.4 L1890.2,1900.5 L1891.2,1902.5 L1892.2,1904.6 L1893.2,1906.8 L1894.2,1909.0 L1895.2,1911.2 L1896.2,1913.4 L1897.2,1915.7 L1898.2,1918.0 L1899.2,1920.3 L1900.2,1922.7 L1901.2,1925.0 L1902.2,1927.4 L1903.2,1929.8 L1904.2,1932.2 L1905.2,1934.5 L1906.2,1936.9 L1907.2,1939.4 L1908.2,1941.8 L1909.2,1944.2 L1910.2,1946.6 L1911.2,1949.0 L1912.2,1951.3 L1913.2,1953.7 L1914.2,1956.1 L1915.2,1958.4 L1916.2,1960.8 L1917.2,1963.1 L1918.2,1965.4 L1919.2,1967.7 L1920.2,1969.9 L1921.2,1972.2 L1922.2,1974.4 L1923.2,1976.6 L1924.2,1978.7 L1925.2,1980.9 L1926.2,1983.0 L1927.2,1985.1 L1928.2,1987.1 L1929.2,1989.1 L1930.2,1991.1 L1931.2,1993.0 L1932.2,1995.0 L1933.2,1996.8 L1934.2,1998.7 L1935.2,2000.5 L1936.2,2002.3 L1937.2,2004.0 L1938.2,2005.7 L1939.2,2007.4 L1940.2,2009.0 L1941.2,2010.6 L1942.2,2012.1 L1943.2,2013.7 L1944.2,2015.1 L1945.2,2016.6 L1946.2,2018.0 L1947.2,2019.3 L1948.2,2020.7 L1949.2,2022.0 L1950.2,2023.2 L1951.2,2024.5 L1952.2,2025.6 L1953.2,2026.8 L1954.2,2027.9 L1955.2,2029.0 L1956.2,2030.0 L1957.2,2031.1 L1958.2,2032.0 L1959.2,2033.0 L1960.2,2033.9 L1961.2,2034.8 L1962.2,2035.7 L1963.2,2036.5 L1964.2,2037.3 L1965.2,2038.1 L1966.2,2038.8 L1967.2,2039.5 L1968.2,2040.2 L1969.2,2040.9 L1970.2,2041.5 L1971.2,2042.1 L1972.2,2042.7 L1973.2,2043.3 L1974.2,2043.8 L1975.2,2044.3 L1976.2,2044.8 L1977.2,2045.3 L1978.2,2045.7 L1979.2,2046.2 L1980.2,2046.6 L1981.2,2047.0 L1982.2,2047.4 L1983.2,2047.7 L1984.2,2048.1 L1985.2,2048.4 L1986.2,2048.7 L1987.2,2049.0 L1988.2,2049.3 L1989.2,2049.6 L1990.2,2049.9 L1991.2,2050.1 L1992.2,2050.3 L1993.2,2050.6 L1994.2,2050.8 L1995.2,2051.0 L1996.2,2051.2 L1997.2,2051.4" fill="none" stroke="#3b62d6" stroke-width="3.4" stroke-linejoin="round" opacity="1"/><path d="M1473.2,2049.0 L1556.3,2049.0 L1579.0,2024.4 L1605.0,2008.0 L1621.3,1988.6 L1637.5,1949.6 L1650.5,1884.6 L1662.0,1819.5 L1670.0,1728.5 L1671.0,1717.1 L1672.0,1705.8 L1673.0,1694.4 L1674.0,1683.0 L1675.0,1671.6 L1676.0,1660.2 L1677.0,1648.9 L1678.0,1637.5 L1679.0,1626.1 L1680.0,1609.5 L1681.0,1585.7 L1682.0,1561.6 L1683.0,1537.3 L1684.0,1512.9 L1685.0,1488.5 L1686.0,1464.2 L1687.0,1440.1 L1688.0,1416.3 L1689.0,1392.9 L1690.0,1370.1 L1691.0,1347.9 L1692.0,1326.4 L1693.0,1305.9 L1694.0,1286.3 L1695.0,1267.8 L1696.0,1250.5 L1697.0,1234.5 L1698.0,1219.9 L1699.0,1206.7 L1700.0,1195.1 L1701.0,1185.0 L1702.0,1179.0 L1703.0,1179.0 L1704.0,1179.0 L1705.0,1179.0 L1706.0,1179.0 L1707.0,1179.0 L1708.0,1179.1 L1709.0,1180.6 L1710.0,1184.0 L1711.0,1189.2 L1712.0,1196.3 L1713.0,1205.1 L1714.0,1215.6 L1715.0,1227.7 L1716.0,1241.4 L1717.0,1256.6 L1718.0,1273.1 L1719.0,1290.9 L1720.0,1309.9 L1721.0,1329.8 L1722.0,1350.7 L1723.0,1372.4 L1724.0,1394.8 L1725.0,1417.8 L1726.0,1441.1 L1727.0,1464.8 L1728.0,1488.7 L1729.0,1512.6 L1730.0,1536.6 L1731.0,1560.4 L1732.0,1584.0 L1733.0,1607.2 L1734.0,1630.1 L1735.0,1652.4 L1736.0,1674.2 L1737.0,1695.4 L1738.0,1716.0 L1738.3,1722.0 L1748.0,1826.0 L1756.0,1865.0 L1764.3,1891.0 L1777.3,1878.0 L1796.8,1894.3 L1816.3,1897.6 L1832.6,1887.8 L1848.8,1873.2 L1861.8,1870.0 L1874.9,1891.0 L1891.0,1894.3 L1904.0,1923.6 L1923.6,1975.6 L1946.4,2021.0 L1969.0,2040.6 L1995.0,2047.0 L2010.0,2049.0 L2366.5,2049.0" fill="none" stroke="#000" stroke-width="4.5" stroke-linejoin="round"/><path d="M1624.2,2049.1 L1625.2,2048.9 L1626.2,2048.8 L1627.2,2048.5 L1628.2,2048.3 L1629.2,2048.0 L1630.2,2047.6 L1631.2,2047.3 L1632.2,2046.8 L1633.2,2046.3 L1634.2,2045.7 L1635.2,2045.0 L1636.2,2044.2 L1637.2,2043.3 L1638.2,2042.3 L1639.2,2041.2 L1640.2,2039.9 L1641.2,2038.4 L1642.2,2036.8 L1643.2,2034.9 L1644.2,2032.9 L1645.2,2030.6 L1646.2,2028.0 L1647.2,2025.1 L1648.2,2021.9 L1649.2,2018.4 L1650.2,2014.5 L1651.2,2010.2 L1652.2,2005.5 L1653.2,2000.4 L1654.2,1994.7 L1655.2,1988.5 L1656.2,1981.8 L1657.2,1974.5 L1658.2,1966.6 L1659.2,1958.0 L1660.2,1948.8 L1661.2,1938.9 L1662.2,1928.2 L1663.2,1916.8 L1664.2,1904.7 L1665.2,1891.7 L1666.2,1878.0 L1667.2,1863.5 L1668.2,1848.1 L1669.2,1831.9 L1670.2,1815.0 L1671.2,1797.2 L1672.2,1778.6 L1673.2,1759.3 L1674.2,1739.2 L1675.2,1718.4 L1676.2,1697.0 L1677.2,1674.9 L1678.2,1652.3 L1679.2,1629.3 L1680.2,1605.7 L1681.2,1581.9 L1682.2,1557.7 L1683.2,1533.4 L1684.2,1509.0 L1685.2,1484.6 L1686.2,1460.4 L1687.2,1436.3 L1688.2,1412.6 L1689.2,1389.3 L1690.2,1366.6 L1691.2,1344.5 L1692.2,1323.3 L1693.2,1302.9 L1694.2,1283.5 L1695.2,1265.3 L1696.2,1248.2 L1697.2,1232.5 L1698.2,1218.1 L1699.2,1205.2 L1700.2,1193.9 L1701.2,1184.2 L1702.2,1176.2 L1703.2,1169.9 L1704.2,1165.4 L1705.2,1162.6 L1706.2,1161.7 L1707.2,1162.5 L1708.2,1165.2 L1709.2,1169.6 L1710.2,1175.7 L1711.2,1183.6 L1712.2,1193.1 L1713.2,1204.2 L1714.2,1216.8 L1715.2,1230.9 L1716.2,1246.3 L1717.2,1263.0 L1718.2,1280.8 L1719.2,1299.7 L1720.2,1319.6 L1721.2,1340.3 L1722.2,1361.7 L1723.2,1383.8 L1724.2,1406.3 L1725.2,1429.3 L1726.2,1452.5 L1727.2,1475.9 L1728.2,1499.3 L1729.2,1522.8 L1730.2,1546.0 L1731.2,1569.1 L1732.2,1591.8 L1733.2,1614.2 L1734.2,1636.1 L1735.2,1657.4 L1736.2,1678.2 L1737.2,1698.3 L1738.2,1717.8 L1739.2,1736.5 L1740.2,1754.4 L1741.2,1771.6 L1742.2,1788.0 L1743.2,1803.5 L1744.2,1818.2 L1745.2,1832.1 L1746.2,1845.2 L1747.2,1857.5 L1748.2,1868.9 L1749.2,1879.6 L1750.2,1889.5 L1751.2,1898.6 L1752.2,1907.1 L1753.2,1914.8 L1754.2,1921.9 L1755.2,1928.3 L1756.2,1934.2 L1757.2,1939.4 L1758.2,1944.1 L1759.2,1948.3 L1760.2,1952.0 L1761.2,1955.2 L1762.2,1958.1 L1763.2,1960.5 L1764.2,1962.6 L1765.2,1964.3 L1766.2,1965.7 L1767.2,1966.8 L1768.2,1967.7 L1769.2,1968.3 L1770.2,1968.7 L1771.2,1968.9 L1772.2,1968.9 L1773.2,1968.7 L1774.2,1968.4 L1775.2,1968.0 L1776.2,1967.4 L1777.2,1966.6 L1778.2,1965.8 L1779.2,1964.9 L1780.2,1963.8 L1781.2,1962.7 L1782.2,1961.5 L1783.2,1960.2 L1784.2,1958.9 L1785.2,1957.5 L1786.2,1956.0 L1787.2,1954.5 L1788.2,1952.9 L1789.2,1951.3 L1790.2,1949.7 L1791.2,1948.0 L1792.2,1946.2 L1793.2,1944.5 L1794.2,1942.7 L1795.2,1940.9 L1796.2,1939.1 L1797.2,1937.2 L1798.2,1935.3 L1799.2,1933.4 L1800.2,1931.5 L1801.2,1929.6 L1802.2,1927.6 L1803.2,1925.6 L1804.2,1923.7 L1805.2,1921.7 L1806.2,1919.7 L1807.2,1917.7 L1808.2,1915.7 L1809.2,1913.7 L1810.2,1911.7 L1811.2,1909.7 L1812.2,1907.7 L1813.2,1905.7 L1814.2,1903.7 L1815.2,1901.7 L1816.2,1899.7 L1817.2,1897.7 L1818.2,1895.8 L1819.2,1893.9 L1820.2,1892.0 L1821.2,1890.1 L1822.2,1888.2 L1823.2,1886.3 L1824.2,1884.5 L1825.2,1882.7 L1826.2,1881.0 L1827.2,1879.2 L1828.2,1877.5 L1829.2,1875.9 L1830.2,1874.3 L1831.2,1872.7 L1832.2,1871.2 L1833.2,1869.7 L1834.2,1868.2 L1835.2,1866.8 L1836.2,1865.5 L1837.2,1864.2 L1838.2,1863.0 L1839.2,1861.8 L1840.2,1860.7 L1841.2,1859.6 L1842.2,1858.6 L1843.2,1857.7 L1844.2,1856.8 L1845.2,1856.0 L1846.2,1855.2 L1847.2,1854.6 L1848.2,1854.0 L1849.2,1853.5 L1850.2,1853.0 L1851.2,1852.6 L1852.2,1852.3 L1853.2,1852.1 L1854.2,1851.9 L1855.2,1851.8 L1856.2,1851.8 L1857.2,1851.9 L1858.2,1852.0 L1859.2,1852.3 L1860.2,1852.6 L1861.2,1852.9 L1862.2,1853.4 L1863.2,1853.9 L1864.2,1854.5 L1865.2,1855.2 L1866.2,1856.0 L1867.2,1856.8 L1868.2,1857.7 L1869.2,1858.7 L1870.2,1859.7 L1871.2,1860.9 L1872.2,1862.1 L1873.2,1863.3 L1874.2,1864.7 L1875.2,1866.1 L1876.2,1867.5 L1877.2,1869.0 L1878.2,1870.6 L1879.2,1872.3 L1880.2,1874.0 L1881.2,1875.7 L1882.2,1877.6 L1883.2,1879.4 L1884.2,1881.3 L1885.2,1883.3 L1886.2,1885.3 L1887.2,1887.4 L1888.2,1889.5 L1889.2,1891.6 L1890.2,1893.8 L1891.2,1896.0 L1892.2,1898.3 L1893.2,1900.5 L1894.2,1902.8 L1895.2,1905.2 L1896.2,1907.5 L1897.2,1909.9 L1898.2,1912.3 L1899.2,1914.7 L1900.2,1917.1 L1901.2,1919.6 L1902.2,1922.0 L1903.2,1924.5 L1904.2,1927.0 L1905.2,1929.4 L1906.2,1931.9 L1907.2,1934.4 L1908.2,1936.8 L1909.2,1939.3 L1910.2,1941.7 L1911.2,1944.2 L1912.2,1946.6 L1913.2,1949.0 L1914.2,1951.5 L1915.2,1953.8 L1916.2,1956.2 L1917.2,1958.6 L1918.2,1960.9 L1919.2,1963.2 L1920.2,1965.5 L1921.2,1967.8 L1922.2,1970.0 L1923.2,1972.2 L1924.2,1974.4 L1925.2,1976.6 L1926.2,1978.7 L1927.2,1980.8 L1928.2,1982.9 L1929.2,1984.9 L1930.2,1986.9 L1931.2,1988.8 L1932.2,1990.8 L1933.2,1992.7 L1934.2,1994.5 L1935.2,1996.3 L1936.2,1998.1 L1937.2,1999.9 L1938.2,2001.6 L1939.2,2003.2 L1940.2,2004.9 L1941.2,2006.5 L1942.2,2008.0 L1943.2,2009.5 L1944.2,2011.0 L1945.2,2012.5 L1946.2,2013.9 L1947.2,2015.2 L1948.2,2016.6 L1949.2,2017.9 L1950.2,2019.1 L1951.2,2020.3 L1952.2,2021.5 L1953.2,2022.7 L1954.2,2023.8 L1955.2,2024.9 L1956.2,2025.9 L1957.2,2026.9 L1958.2,2027.9 L1959.2,2028.9 L1960.2,2029.8 L1961.2,2030.7 L1962.2,2031.5 L1963.2,2032.3 L1964.2,2033.1 L1965.2,2033.9 L1966.2,2034.6 L1967.2,2035.3 L1968.2,2036.0 L1969.2,2036.7 L1970.2,2037.3 L1971.2,2037.9 L1972.2,2038.5 L1973.2,2039.1 L1974.2,2039.6 L1975.2,2040.1 L1976.2,2040.6 L1977.2,2041.1 L1978.2,2041.5 L1979.2,2042.0 L1980.2,2042.4 L1981.2,2042.8 L1982.2,2043.2 L1983.2,2043.5 L1984.2,2043.9 L1985.2,2044.2 L1986.2,2044.5 L1987.2,2044.8 L1988.2,2045.1 L1989.2,2045.4 L1990.2,2045.6 L1991.2,2045.9 L1992.2,2046.1 L1993.2,2046.3 L1994.2,2046.5 L1995.2,2046.7 L1996.2,2046.9 L1997.2,2047.1 L1998.2,2047.3 L1999.2,2047.5 L2000.2,2047.6 L2001.2,2047.7 L2002.2,2047.9 L2003.2,2048.0 L2004.2,2048.1 L2005.2,2048.3 L2006.2,2048.4 L2007.2,2048.5 L2008.2,2048.6 L2009.2,2048.7 L2010.2,2048.7 L2011.2,2048.8 L2012.2,2048.9 L2013.2,2049.0 L2014.2,2049.0 L2015.2,2049.1 L2016.2,2049.2" fill="none" stroke="#ff10ff" stroke-width="6" stroke-linejoin="round"/></g>
<rect x="1473.2" y="2053.0" width="893.3" height="6" fill="#2ff0f0"/>
<rect x="1473.2" y="2045.0" width="83.1" height="9" fill="#000"/>
<rect x="2010.0" y="2045.0" width="356.5" height="9" fill="#000"/>
<line x1="1473.2" y1="2052.0" x2="2366.5" y2="2052.0" stroke="#000" stroke-width="3.2"/>
<line x1="1473.2" y1="1159.5" x2="2369.5" y2="1159.5" stroke="#333" stroke-width="3.6"/>
<line x1="2366.5" y1="1158.0" x2="2366.5" y2="2054.0" stroke="#000" stroke-width="6.5"/>
<line x1="1473.2" y1="1158.0" x2="1473.2" y2="2078.0" stroke="#1e1e1e" stroke-width="3.4"/>
<path d="M1447.2,2052.0 H1473.2 M1460.2,1980.5 H1473.2 M1460.2,1908.9 H1473.2 M1460.2,1837.4 H1473.2 M1447.2,1765.9 H1473.2 M1460.2,1694.3 H1473.2 M1460.2,1622.8 H1473.2 M1460.2,1551.3 H1473.2 M1447.2,1479.7 H1473.2 M1460.2,1408.2 H1473.2 M1460.2,1336.7 H1473.2 M1460.2,1265.1 H1473.2 M1447.2,1193.6 H1473.2 M1473.2,2052.0 V2078.0 M1517.8,2052.0 V2065.0 M1562.4,2052.0 V2065.0 M1607.0,2052.0 V2065.0 M1651.6,2052.0 V2065.0 M1696.2,2052.0 V2078.0 M1740.7,2052.0 V2065.0 M1785.3,2052.0 V2065.0 M1829.9,2052.0 V2065.0 M1874.5,2052.0 V2065.0 M1919.1,2052.0 V2078.0 M1963.7,2052.0 V2065.0 M2008.3,2052.0 V2065.0 M2052.9,2052.0 V2065.0 M2097.5,2052.0 V2065.0 M2142.1,2052.0 V2078.0 M2186.6,2052.0 V2065.0 M2231.2,2052.0 V2065.0 M2275.8,2052.0 V2065.0 M2320.4,2052.0 V2065.0 M2365.0,2052.0 V2078.0" stroke="#1e1e1e" stroke-width="3.2" fill="none"/>
<text transform="translate(1409.81,2052.00) scale(0.9100,1)" font-family="'Liberation Sans', Arial, sans-serif" font-weight="400" font-size="46.70" fill="#262626">0</text>
<text transform="translate(1362.43,1781.86) scale(0.9100,1)" font-family="'Liberation Sans', Arial, sans-serif" font-weight="400" font-size="46.70" fill="#262626">200</text>
<text transform="translate(1362.43,1495.72) scale(0.9100,1)" font-family="'Liberation Sans', Arial, sans-serif" font-weight="400" font-size="46.70" fill="#262626">400</text>
<text transform="translate(1362.43,1209.58) scale(0.9100,1)" font-family="'Liberation Sans', Arial, sans-serif" font-weight="400" font-size="46.70" fill="#262626">600</text>
<text transform="translate(1469.00,2141.00) scale(0.9100,1)" font-family="'Liberation Sans', Arial, sans-serif" font-weight="400" font-size="46.70" fill="#262626">0</text>
<text transform="translate(1644.80,2141.00) scale(0.9100,1)" font-family="'Liberation Sans', Arial, sans-serif" font-weight="400" font-size="46.70" fill="#262626">50K</text>
<text transform="translate(1855.21,2141.00) scale(0.9100,1)" font-family="'Liberation Sans', Arial, sans-serif" font-weight="400" font-size="46.70" fill="#262626">100K</text>
<text transform="translate(2078.16,2141.00) scale(0.9100,1)" font-family="'Liberation Sans', Arial, sans-serif" font-weight="400" font-size="46.70" fill="#262626">150K</text>
<text transform="translate(2301.64,2141.00) scale(0.9100,1)" font-family="'Liberation Sans', Arial, sans-serif" font-weight="400" font-size="46.70" fill="#262626">200K</text>
<text transform="translate(1733.65,2250.80) scale(1.0150,1)" font-family="'Liberation Sans', Arial, sans-serif" font-weight="400" font-size="80.00" fill="#000">50 μmol/L</text>
<path d="M188,25 V2288.2 H2433" stroke="#000" stroke-width="4.3" fill="none" stroke-linejoin="round"/>
<path d="M175,47.5 L188,24 L201.2,47.5" stroke="#000" stroke-width="4.3" fill="none" stroke-linecap="round" stroke-linejoin="miter"/>
<path d="M2410,2275.4 L2434.2,2288.2 L2410,2301.2" stroke="#000" stroke-width="4.3" fill="none" stroke-linecap="round" stroke-linejoin="miter"/>
<text transform="translate(74.70,1393.87) rotate(-90) scale(0.9681,1)" font-family="'Liberation Sans', Arial, sans-serif" font-weight="400" font-size="80.00" fill="#000">Cell count</text>
<text transform="translate(1084.68,2413.80) scale(0.9876,1)" font-family="'Liberation Sans', Arial, sans-serif" font-weight="400" font-size="80.00" fill="#000">DNA content</text>
<path d="M643.9,3553.7 V3551.0 M628.9,3551.0 H658.9" stroke="#000" stroke-width="10" stroke-linecap="round" fill="none"/><rect x="613.0" y="3553.7" width="61.7" height="13.8" fill="#d6994f" stroke="#000" stroke-width="10" stroke-linejoin="round"/><rect x="686.6" y="3559.2" width="63.2" height="8.3" fill="#ff8000" stroke="#000" stroke-width="10" stroke-linejoin="round"/><rect x="762.5" y="3539.3" width="61.0" height="28.2" fill="#00bf00" stroke="#000" stroke-width="10" stroke-linejoin="round"/><path d="M868.0,3514.2 V3496.0 M853.0,3496.0 H883.0" stroke="#000" stroke-width="10" stroke-linecap="round" fill="none"/><rect x="836.8" y="3514.2" width="62.3" height="53.3" fill="#f58ef5" stroke="#000" stroke-width="10" stroke-linejoin="round"/><path d="M1006.8,3010.9 V2983.6 M991.8,2983.6 H1021.8" stroke="#000" stroke-width="10" stroke-linecap="round" fill="none"/><rect x="976.5" y="3010.9" width="60.5" height="556.6" fill="#d6994f" stroke="#000" stroke-width="10" stroke-linejoin="round"/><path d="M1081.3,3020.0 V3004.5 M1066.3,3004.5 H1096.3" stroke="#000" stroke-width="10" stroke-linecap="round" fill="none"/><rect x="1050.7" y="3020.0" width="61.3" height="547.5" fill="#ff8000" stroke="#000" stroke-width="10" stroke-linejoin="round"/><path d="M1156.0,2953.0 V2949.0 M1141.0,2949.0 H1171.0" stroke="#000" stroke-width="10" stroke-linecap="round" fill="none"/><rect x="1125.8" y="2953.0" width="60.5" height="614.5" fill="#00bf00" stroke="#000" stroke-width="10" stroke-linejoin="round"/><path d="M1231.2,2838.0 V2828.8 M1216.2,2828.8 H1246.2" stroke="#000" stroke-width="10" stroke-linecap="round" fill="none"/><rect x="1200.9" y="2838.0" width="60.5" height="729.5" fill="#f58ef5" stroke="#000" stroke-width="10" stroke-linejoin="round"/><path d="M1368.8,3312.6 V3279.4 M1353.8,3279.4 H1383.8" stroke="#000" stroke-width="10" stroke-linecap="round" fill="none"/><rect x="1338.3" y="3312.6" width="61.0" height="254.9" fill="#d6994f" stroke="#000" stroke-width="10" stroke-linejoin="round"/><path d="M1443.7,3302.6 V3293.5 M1428.7,3293.5 H1458.7" stroke="#000" stroke-width="10" stroke-linecap="round" fill="none"/><rect x="1413.4" y="3302.6" width="60.6" height="264.9" fill="#ff8000" stroke="#000" stroke-width="10" stroke-linejoin="round"/><path d="M1518.8,3316.3 V3313.0 M1503.8,3313.0 H1533.8" stroke="#000" stroke-width="10" stroke-linecap="round" fill="none"/><rect x="1488.5" y="3316.3" width="60.5" height="251.2" fill="#00bf00" stroke="#000" stroke-width="10" stroke-linejoin="round"/><path d="M1593.7,3473.3 V3447.0 M1578.7,3447.0 H1608.7" stroke="#000" stroke-width="10" stroke-linecap="round" fill="none"/><rect x="1563.5" y="3473.3" width="60.3" height="94.2" fill="#f58ef5" stroke="#000" stroke-width="10" stroke-linejoin="round"/><path d="M1732.2,3210.3 V3188.4 M1717.2,3188.4 H1747.2" stroke="#000" stroke-width="10" stroke-linecap="round" fill="none"/><rect x="1700.9" y="3210.3" width="62.5" height="357.2" fill="#d6994f" stroke="#000" stroke-width="10" stroke-linejoin="round"/><path d="M1806.9,3200.0 V3188.4 M1791.9,3188.4 H1821.9" stroke="#000" stroke-width="10" stroke-linecap="round" fill="none"/><rect x="1776.2" y="3200.0" width="61.4" height="367.5" fill="#ff8000" stroke="#000" stroke-width="10" stroke-linejoin="round"/><path d="M1882.0,3278.2 V3267.6 M1867.0,3267.6 H1897.0" stroke="#000" stroke-width="10" stroke-linecap="round" fill="none"/><rect x="1851.5" y="3278.2" width="61.0" height="289.3" fill="#00bf00" stroke="#000" stroke-width="10" stroke-linejoin="round"/><path d="M1956.5,3245.4 V3232.5 M1941.5,3232.5 H1971.5" stroke="#000" stroke-width="10" stroke-linecap="round" fill="none"/><rect x="1925.6" y="3245.4" width="61.8" height="322.1" fill="#f58ef5" stroke="#000" stroke-width="10" stroke-linejoin="round"/>
<path d="M575.3,2601.2 V3567.5 H2030" stroke="#000" stroke-width="10" fill="none" stroke-linecap="butt" stroke-linejoin="miter"/>
<circle cx="2030" cy="3567.5" r="5.0" fill="#000"/>
<path d="M546,3567.5 H575 M546,3327.5 H575 M546,3087.5 H575 M546,2847.5 H575 M546,2607.5 H575 M755.5,3567.5 V3596 M1119.4,3567.5 V3596 M1480.3,3567.5 V3596 M1844.0,3567.5 V3596" stroke="#000" stroke-width="10" stroke-linecap="round" fill="none"/>
<text transform="translate(500.15,3588.80) scale(1.0000,1)" font-family="'Liberation Sans', Arial, sans-serif" font-weight="700" font-size="66.50" fill="#000">0</text>
<text transform="translate(463.25,3348.80) scale(1.0000,1)" font-family="'Liberation Sans', Arial, sans-serif" font-weight="700" font-size="66.50" fill="#000">20</text>
<text transform="translate(463.24,3108.80) scale(1.0000,1)" font-family="'Liberation Sans', Arial, sans-serif" font-weight="700" font-size="66.50" fill="#000">40</text>
<text transform="translate(463.25,2868.80) scale(1.0000,1)" font-family="'Liberation Sans', Arial, sans-serif" font-weight="700" font-size="66.50" fill="#000">60</text>
<text transform="translate(463.25,2628.80) scale(1.0000,1)" font-family="'Liberation Sans', Arial, sans-serif" font-weight="700" font-size="66.50" fill="#000">80</text>
<text transform="translate(381.00,3552.26) rotate(-90)" letter-spacing="3.01" font-family="'Liberation Sans', Arial, sans-serif" font-weight="700" font-size="66.00" fill="#000">The percentage of cells</text>
<text transform="translate(381.00,2731.30) rotate(-90)" letter-spacing="-3.81" font-family="'Liberation Sans', Arial, sans-serif" font-weight="700" font-size="66.00" fill="#000">(%)</text>
<text x="642.73" y="3658.50" letter-spacing="-0.23" font-family="'Liberation Sans', Arial, sans-serif" font-weight="700" font-size="65.00" fill="#000">sub G1</text>
<text x="1019.40" y="3658.50" letter-spacing="-0.24" font-family="'Liberation Sans', Arial, sans-serif" font-weight="700" font-size="65.00" fill="#000">G0-G1</text>
<text x="1461.55" y="3658.50" letter-spacing="0.00" font-family="'Liberation Sans', Arial, sans-serif" font-weight="700" font-size="65.00" fill="#000">S</text>
<text x="1760.80" y="3658.50" letter-spacing="2.31" font-family="'Liberation Sans', Arial, sans-serif" font-weight="700" font-size="65.00" fill="#000">G2-M</text>
<rect x="1334.3" y="2654.0" width="103.1" height="38.9" fill="#d6994f" stroke="#000" stroke-width="10" stroke-linejoin="round"/>
<text x="1496.06" y="2696.70" letter-spacing="2.69" font-family="'Liberation Sans', Arial, sans-serif" font-weight="700" font-size="66.00" fill="#000">control</text>
<rect x="1334.3" y="2744.7" width="103.1" height="43.3" fill="#ff8000" stroke="#000" stroke-width="10" stroke-linejoin="round"/>
<text x="1495.71" y="2792.40" letter-spacing="1.68" font-family="'Liberation Sans', Arial, sans-serif" font-weight="700" font-size="66.00" fill="#000">Ponicidin 10 μmol/L</text>
<rect x="1334.3" y="2846.6" width="103.1" height="42.6" fill="#00bf00" stroke="#000" stroke-width="10" stroke-linejoin="round"/>
<text x="1495.71" y="2893.50" letter-spacing="1.68" font-family="'Liberation Sans', Arial, sans-serif" font-weight="700" font-size="66.00" fill="#000">Ponicidin 25 μmol/L</text>
<rect x="1334.3" y="2947.8" width="103.1" height="42.6" fill="#f58ef5" stroke="#000" stroke-width="10" stroke-linejoin="round"/>
<text x="1495.71" y="2994.50" letter-spacing="1.68" font-family="'Liberation Sans', Arial, sans-serif" font-weight="700" font-size="66.00" fill="#000">Ponicidin 50 μmol/L</text>
<text transform="translate(851.02,3460.10) scale(1.0140,1)" font-family="'Liberation Serif', 'Times New Roman', serif" font-weight="700" font-size="77.85" fill="#000" stroke="#000" stroke-width="3.2" stroke-linejoin="miter">#</text>
<text transform="translate(1134.27,2917.00) scale(1.0475,1)" font-family="'Liberation Serif', 'Times New Roman', serif" font-weight="700" font-size="78.00" fill="#000" stroke="#000" stroke-width="3.2" stroke-linejoin="miter">#</text>
<text transform="translate(1212.25,2787.30) scale(1.0005,1)" font-family="'Liberation Serif', 'Times New Roman', serif" font-weight="700" font-size="76.77" fill="#000" stroke="#000" stroke-width="3.2" stroke-linejoin="miter">#</text>
<text transform="translate(1573.29,3407.50) scale(1.0511,1)" font-family="'Liberation Serif', 'Times New Roman', serif" font-weight="700" font-size="76.92" fill="#000" stroke="#000" stroke-width="3.2" stroke-linejoin="miter">#</text>
<text transform="translate(1853.35,3228.50) scale(0.9918,1)" font-family="'Liberation Serif', 'Times New Roman', serif" font-weight="700" font-size="77.23" fill="#000" stroke="#000" stroke-width="3.2" stroke-linejoin="miter">#</text>
<text transform="translate(1929.31,3185.80) scale(1.0263,1)" font-family="'Liberation Serif', 'Times New Roman', serif" font-weight="700" font-size="77.54" fill="#000" stroke="#000" stroke-width="3.2" stroke-linejoin="miter">#</text>
<text transform="translate(1155.68,2544.78) scale(1.0694,1)" font-family="'Liberation Serif', 'Times New Roman', serif" font-weight="400" font-size="100.11" fill="#000">(</text>
<text transform="translate(1191.01,2545.22) scale(0.9564,1)" font-family="'Liberation Serif', 'Times New Roman', serif" font-weight="700" font-size="103.82" fill="#000">A</text>
<text transform="translate(1261.66,2544.78) scale(1.0450,1)" font-family="'Liberation Serif', 'Times New Roman', serif" font-weight="400" font-size="100.11" fill="#000">)</text>
<text transform="translate(1159.29,3797.47) scale(1.0506,1)" font-family="'Liberation Serif', 'Times New Roman', serif" font-weight="400" font-size="99.67" fill="#000">(</text>
<text transform="translate(1194.13,3797.50) scale(0.9705,1)" font-family="'Liberation Serif', 'Times New Roman', serif" font-weight="700" font-size="101.22" fill="#000">B</text>
<text transform="translate(1258.80,3797.47) scale(1.0381,1)" font-family="'Liberation Serif', 'Times New Roman', serif" font-weight="400" font-size="99.67" fill="#000">)</text></svg></body></html>
